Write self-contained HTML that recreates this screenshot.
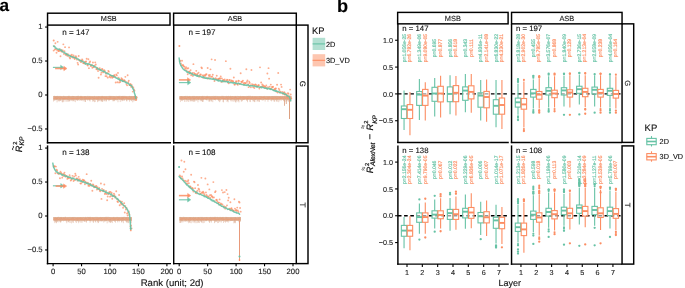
<!DOCTYPE html>
<html><head><meta charset="utf-8"><style>
html,body{margin:0;padding:0;background:#fff;}
body{width:685px;height:288px;overflow:hidden;}
svg{display:block;will-change:transform;}
text{font-family:"Liberation Sans",sans-serif;text-rendering:geometricPrecision;}
</style></head><body>
<svg width="685" height="288" viewBox="0 0 685 288" font-family="Liberation Sans, sans-serif">
<rect width="685" height="288" fill="#fff"/>
<text x="-0.5" y="10.8" font-size="17.2" text-anchor="start" fill="#000" stroke="#000" stroke-width="0.12" font-weight="bold">a</text>
<rect x="47.55" y="13.2" width="122.45" height="11.9" fill="none" stroke="#000" stroke-width="1.45" />
<text x="108.78" y="21.2" font-size="7.3" text-anchor="middle" fill="#1a1a1a" stroke="#1a1a1a" stroke-width="0.12" >MSB</text>
<rect x="173.6" y="13.2" width="122.7" height="11.9" fill="none" stroke="#000" stroke-width="1.45" />
<text x="234.95" y="21.2" font-size="7.3" text-anchor="middle" fill="#1a1a1a" stroke="#1a1a1a" stroke-width="0.12" >ASB</text>
<rect x="296.3" y="25.1" width="11.7" height="117.65" fill="none" stroke="#000" stroke-width="1.45" />
<text transform="translate(300.25,83.92) rotate(90)" font-size="7.9" text-anchor="middle" fill="#1a1a1a" stroke="#1a1a1a" stroke-width="0.12">G</text>
<rect x="296.3" y="146.1" width="11.7" height="117.5" fill="none" stroke="#000" stroke-width="1.45" />
<text transform="translate(300.25,204.85) rotate(90)" font-size="7.9" text-anchor="middle" fill="#1a1a1a" stroke="#1a1a1a" stroke-width="0.12">T</text>
<rect x="53.27" y="96" width="83.67" height="3.8" fill="#e9c0a5" stroke="none" stroke-width="1.3" />
<line x1="53.67" y1="96.06" x2="53.67" y2="101.6" stroke="#d49c7c" stroke-width="0.55" opacity="0.8"/>
<line x1="54.24" y1="95.86" x2="54.24" y2="100.94" stroke="#d49c7c" stroke-width="0.55" opacity="0.8"/>
<line x1="54.81" y1="95.85" x2="54.81" y2="100.19" stroke="#d49c7c" stroke-width="0.55" opacity="0.8"/>
<line x1="55.38" y1="96.15" x2="55.38" y2="100.31" stroke="#d49c7c" stroke-width="0.55" opacity="0.8"/>
<line x1="55.95" y1="96.14" x2="55.95" y2="99.14" stroke="#d49c7c" stroke-width="0.55" opacity="0.8"/>
<line x1="56.51" y1="95.98" x2="56.51" y2="100.04" stroke="#d49c7c" stroke-width="0.55" opacity="0.8"/>
<line x1="57.08" y1="96.26" x2="57.08" y2="102.35" stroke="#d49c7c" stroke-width="0.55" opacity="0.8"/>
<line x1="57.65" y1="95.84" x2="57.65" y2="99.32" stroke="#d49c7c" stroke-width="0.55" opacity="0.8"/>
<line x1="58.22" y1="95.92" x2="58.22" y2="100.81" stroke="#d49c7c" stroke-width="0.55" opacity="0.8"/>
<line x1="58.79" y1="96.45" x2="58.79" y2="101.44" stroke="#d49c7c" stroke-width="0.55" opacity="0.8"/>
<line x1="59.36" y1="96.31" x2="59.36" y2="101.36" stroke="#d49c7c" stroke-width="0.55" opacity="0.8"/>
<line x1="59.93" y1="95.85" x2="59.93" y2="100.57" stroke="#d49c7c" stroke-width="0.55" opacity="0.8"/>
<line x1="60.5" y1="96.34" x2="60.5" y2="100.82" stroke="#d49c7c" stroke-width="0.55" opacity="0.8"/>
<line x1="61.07" y1="96.27" x2="61.07" y2="100.79" stroke="#d49c7c" stroke-width="0.55" opacity="0.8"/>
<line x1="61.64" y1="96.44" x2="61.64" y2="99.27" stroke="#d49c7c" stroke-width="0.55" opacity="0.8"/>
<line x1="62.2" y1="96.26" x2="62.2" y2="102.11" stroke="#d49c7c" stroke-width="0.55" opacity="0.8"/>
<line x1="62.77" y1="96.38" x2="62.77" y2="102.35" stroke="#d49c7c" stroke-width="0.55" opacity="0.8"/>
<line x1="63.34" y1="95.89" x2="63.34" y2="101.84" stroke="#d49c7c" stroke-width="0.55" opacity="0.8"/>
<line x1="63.91" y1="95.92" x2="63.91" y2="100.19" stroke="#d49c7c" stroke-width="0.55" opacity="0.8"/>
<line x1="64.48" y1="96.33" x2="64.48" y2="99.63" stroke="#d49c7c" stroke-width="0.55" opacity="0.8"/>
<line x1="65.05" y1="96.5" x2="65.05" y2="101.7" stroke="#d49c7c" stroke-width="0.55" opacity="0.8"/>
<line x1="65.62" y1="96.28" x2="65.62" y2="99.5" stroke="#d49c7c" stroke-width="0.55" opacity="0.8"/>
<line x1="66.19" y1="96.47" x2="66.19" y2="99.52" stroke="#d49c7c" stroke-width="0.55" opacity="0.8"/>
<line x1="66.76" y1="96.33" x2="66.76" y2="101.71" stroke="#d49c7c" stroke-width="0.55" opacity="0.8"/>
<line x1="67.33" y1="96.32" x2="67.33" y2="99.9" stroke="#d49c7c" stroke-width="0.55" opacity="0.8"/>
<line x1="67.89" y1="96.03" x2="67.89" y2="101.64" stroke="#d49c7c" stroke-width="0.55" opacity="0.8"/>
<line x1="68.46" y1="95.82" x2="68.46" y2="100.49" stroke="#d49c7c" stroke-width="0.55" opacity="0.8"/>
<line x1="69.03" y1="95.89" x2="69.03" y2="101.87" stroke="#d49c7c" stroke-width="0.55" opacity="0.8"/>
<line x1="69.6" y1="95.9" x2="69.6" y2="101" stroke="#d49c7c" stroke-width="0.55" opacity="0.8"/>
<line x1="70.17" y1="96.5" x2="70.17" y2="101.13" stroke="#d49c7c" stroke-width="0.55" opacity="0.8"/>
<line x1="70.74" y1="96.24" x2="70.74" y2="99.9" stroke="#d49c7c" stroke-width="0.55" opacity="0.8"/>
<line x1="71.31" y1="96.49" x2="71.31" y2="101.06" stroke="#d49c7c" stroke-width="0.55" opacity="0.8"/>
<line x1="71.88" y1="96.09" x2="71.88" y2="100.05" stroke="#d49c7c" stroke-width="0.55" opacity="0.8"/>
<line x1="72.45" y1="95.92" x2="72.45" y2="100.63" stroke="#d49c7c" stroke-width="0.55" opacity="0.8"/>
<line x1="73.02" y1="95.99" x2="73.02" y2="101.45" stroke="#d49c7c" stroke-width="0.55" opacity="0.8"/>
<line x1="73.58" y1="96.01" x2="73.58" y2="101.06" stroke="#d49c7c" stroke-width="0.55" opacity="0.8"/>
<line x1="74.15" y1="96.1" x2="74.15" y2="100.05" stroke="#d49c7c" stroke-width="0.55" opacity="0.8"/>
<line x1="74.72" y1="96.35" x2="74.72" y2="101.52" stroke="#d49c7c" stroke-width="0.55" opacity="0.8"/>
<line x1="75.29" y1="96.34" x2="75.29" y2="102.17" stroke="#d49c7c" stroke-width="0.55" opacity="0.8"/>
<line x1="75.86" y1="96.42" x2="75.86" y2="99.88" stroke="#d49c7c" stroke-width="0.55" opacity="0.8"/>
<line x1="76.43" y1="96.11" x2="76.43" y2="100.34" stroke="#d49c7c" stroke-width="0.55" opacity="0.8"/>
<line x1="77" y1="96.31" x2="77" y2="100.25" stroke="#d49c7c" stroke-width="0.55" opacity="0.8"/>
<line x1="77.57" y1="95.97" x2="77.57" y2="100.88" stroke="#d49c7c" stroke-width="0.55" opacity="0.8"/>
<line x1="78.14" y1="95.84" x2="78.14" y2="100.45" stroke="#d49c7c" stroke-width="0.55" opacity="0.8"/>
<line x1="78.7" y1="95.88" x2="78.7" y2="100.16" stroke="#d49c7c" stroke-width="0.55" opacity="0.8"/>
<line x1="79.27" y1="96.5" x2="79.27" y2="99.16" stroke="#d49c7c" stroke-width="0.55" opacity="0.8"/>
<line x1="79.84" y1="96" x2="79.84" y2="100.94" stroke="#d49c7c" stroke-width="0.55" opacity="0.8"/>
<line x1="80.41" y1="95.9" x2="80.41" y2="100.09" stroke="#d49c7c" stroke-width="0.55" opacity="0.8"/>
<line x1="80.98" y1="96.17" x2="80.98" y2="100.3" stroke="#d49c7c" stroke-width="0.55" opacity="0.8"/>
<line x1="81.55" y1="95.88" x2="81.55" y2="100.71" stroke="#d49c7c" stroke-width="0.55" opacity="0.8"/>
<line x1="82.12" y1="96.46" x2="82.12" y2="100.15" stroke="#d49c7c" stroke-width="0.55" opacity="0.8"/>
<line x1="82.69" y1="96.56" x2="82.69" y2="100.44" stroke="#d49c7c" stroke-width="0.55" opacity="0.8"/>
<line x1="83.26" y1="96.23" x2="83.26" y2="101.31" stroke="#d49c7c" stroke-width="0.55" opacity="0.8"/>
<line x1="83.83" y1="96.58" x2="83.83" y2="99.77" stroke="#d49c7c" stroke-width="0.55" opacity="0.8"/>
<line x1="84.39" y1="96.01" x2="84.39" y2="100.48" stroke="#d49c7c" stroke-width="0.55" opacity="0.8"/>
<line x1="84.96" y1="96.42" x2="84.96" y2="101.89" stroke="#d49c7c" stroke-width="0.55" opacity="0.8"/>
<line x1="85.53" y1="96.06" x2="85.53" y2="101.97" stroke="#d49c7c" stroke-width="0.55" opacity="0.8"/>
<line x1="86.1" y1="96.59" x2="86.1" y2="99.89" stroke="#d49c7c" stroke-width="0.55" opacity="0.8"/>
<line x1="86.67" y1="96.45" x2="86.67" y2="99.25" stroke="#d49c7c" stroke-width="0.55" opacity="0.8"/>
<line x1="87.24" y1="96.21" x2="87.24" y2="100.17" stroke="#d49c7c" stroke-width="0.55" opacity="0.8"/>
<line x1="87.81" y1="95.82" x2="87.81" y2="100.7" stroke="#d49c7c" stroke-width="0.55" opacity="0.8"/>
<line x1="88.38" y1="96.35" x2="88.38" y2="99.49" stroke="#d49c7c" stroke-width="0.55" opacity="0.8"/>
<line x1="88.95" y1="96.55" x2="88.95" y2="100.05" stroke="#d49c7c" stroke-width="0.55" opacity="0.8"/>
<line x1="89.52" y1="96.09" x2="89.52" y2="100.62" stroke="#d49c7c" stroke-width="0.55" opacity="0.8"/>
<line x1="90.09" y1="95.96" x2="90.09" y2="101.54" stroke="#d49c7c" stroke-width="0.55" opacity="0.8"/>
<line x1="90.65" y1="96.52" x2="90.65" y2="99.53" stroke="#d49c7c" stroke-width="0.55" opacity="0.8"/>
<line x1="91.22" y1="96.32" x2="91.22" y2="99.09" stroke="#d49c7c" stroke-width="0.55" opacity="0.8"/>
<line x1="91.79" y1="96.33" x2="91.79" y2="99.86" stroke="#d49c7c" stroke-width="0.55" opacity="0.8"/>
<line x1="92.36" y1="96.4" x2="92.36" y2="100.51" stroke="#d49c7c" stroke-width="0.55" opacity="0.8"/>
<line x1="92.93" y1="96.43" x2="92.93" y2="101.94" stroke="#d49c7c" stroke-width="0.55" opacity="0.8"/>
<line x1="93.5" y1="96.58" x2="93.5" y2="101.02" stroke="#d49c7c" stroke-width="0.55" opacity="0.8"/>
<line x1="94.07" y1="96.56" x2="94.07" y2="99.19" stroke="#d49c7c" stroke-width="0.55" opacity="0.8"/>
<line x1="94.64" y1="95.9" x2="94.64" y2="102.18" stroke="#d49c7c" stroke-width="0.55" opacity="0.8"/>
<line x1="95.21" y1="96.45" x2="95.21" y2="102" stroke="#d49c7c" stroke-width="0.55" opacity="0.8"/>
<line x1="95.78" y1="96.58" x2="95.78" y2="99.39" stroke="#d49c7c" stroke-width="0.55" opacity="0.8"/>
<line x1="96.34" y1="96.24" x2="96.34" y2="100.13" stroke="#d49c7c" stroke-width="0.55" opacity="0.8"/>
<line x1="96.91" y1="96.58" x2="96.91" y2="99.58" stroke="#d49c7c" stroke-width="0.55" opacity="0.8"/>
<line x1="97.48" y1="96.55" x2="97.48" y2="102.11" stroke="#d49c7c" stroke-width="0.55" opacity="0.8"/>
<line x1="98.05" y1="96.46" x2="98.05" y2="100.68" stroke="#d49c7c" stroke-width="0.55" opacity="0.8"/>
<line x1="98.62" y1="96.03" x2="98.62" y2="101.45" stroke="#d49c7c" stroke-width="0.55" opacity="0.8"/>
<line x1="99.19" y1="96.01" x2="99.19" y2="100.4" stroke="#d49c7c" stroke-width="0.55" opacity="0.8"/>
<line x1="99.76" y1="96.53" x2="99.76" y2="101.15" stroke="#d49c7c" stroke-width="0.55" opacity="0.8"/>
<line x1="100.33" y1="96.27" x2="100.33" y2="99.46" stroke="#d49c7c" stroke-width="0.55" opacity="0.8"/>
<line x1="100.9" y1="96.53" x2="100.9" y2="101.32" stroke="#d49c7c" stroke-width="0.55" opacity="0.8"/>
<line x1="101.47" y1="96.22" x2="101.47" y2="101.11" stroke="#d49c7c" stroke-width="0.55" opacity="0.8"/>
<line x1="102.03" y1="95.95" x2="102.03" y2="101.94" stroke="#d49c7c" stroke-width="0.55" opacity="0.8"/>
<line x1="102.6" y1="95.94" x2="102.6" y2="101.77" stroke="#d49c7c" stroke-width="0.55" opacity="0.8"/>
<line x1="103.17" y1="96.25" x2="103.17" y2="101.29" stroke="#d49c7c" stroke-width="0.55" opacity="0.8"/>
<line x1="103.74" y1="96.24" x2="103.74" y2="99.12" stroke="#d49c7c" stroke-width="0.55" opacity="0.8"/>
<line x1="104.31" y1="96.25" x2="104.31" y2="100.74" stroke="#d49c7c" stroke-width="0.55" opacity="0.8"/>
<line x1="104.88" y1="96.42" x2="104.88" y2="101.39" stroke="#d49c7c" stroke-width="0.55" opacity="0.8"/>
<line x1="105.45" y1="96.41" x2="105.45" y2="99.49" stroke="#d49c7c" stroke-width="0.55" opacity="0.8"/>
<line x1="106.02" y1="96.29" x2="106.02" y2="101.28" stroke="#d49c7c" stroke-width="0.55" opacity="0.8"/>
<line x1="106.59" y1="96.35" x2="106.59" y2="101.33" stroke="#d49c7c" stroke-width="0.55" opacity="0.8"/>
<line x1="107.16" y1="96.18" x2="107.16" y2="99.77" stroke="#d49c7c" stroke-width="0.55" opacity="0.8"/>
<line x1="107.72" y1="96.5" x2="107.72" y2="99.29" stroke="#d49c7c" stroke-width="0.55" opacity="0.8"/>
<line x1="108.29" y1="96.25" x2="108.29" y2="99.92" stroke="#d49c7c" stroke-width="0.55" opacity="0.8"/>
<line x1="108.86" y1="95.91" x2="108.86" y2="101.12" stroke="#d49c7c" stroke-width="0.55" opacity="0.8"/>
<line x1="109.43" y1="95.86" x2="109.43" y2="100.27" stroke="#d49c7c" stroke-width="0.55" opacity="0.8"/>
<line x1="110" y1="96.34" x2="110" y2="99.99" stroke="#d49c7c" stroke-width="0.55" opacity="0.8"/>
<line x1="110.57" y1="95.92" x2="110.57" y2="99.73" stroke="#d49c7c" stroke-width="0.55" opacity="0.8"/>
<line x1="111.14" y1="95.91" x2="111.14" y2="100.06" stroke="#d49c7c" stroke-width="0.55" opacity="0.8"/>
<line x1="111.71" y1="95.98" x2="111.71" y2="99.44" stroke="#d49c7c" stroke-width="0.55" opacity="0.8"/>
<line x1="112.28" y1="96.19" x2="112.28" y2="99.92" stroke="#d49c7c" stroke-width="0.55" opacity="0.8"/>
<line x1="112.84" y1="95.93" x2="112.84" y2="101.29" stroke="#d49c7c" stroke-width="0.55" opacity="0.8"/>
<line x1="113.41" y1="96.07" x2="113.41" y2="100.83" stroke="#d49c7c" stroke-width="0.55" opacity="0.8"/>
<line x1="113.98" y1="96.38" x2="113.98" y2="101.37" stroke="#d49c7c" stroke-width="0.55" opacity="0.8"/>
<line x1="114.55" y1="96.15" x2="114.55" y2="100.86" stroke="#d49c7c" stroke-width="0.55" opacity="0.8"/>
<line x1="115.12" y1="96.3" x2="115.12" y2="100.25" stroke="#d49c7c" stroke-width="0.55" opacity="0.8"/>
<line x1="115.69" y1="96.59" x2="115.69" y2="100.07" stroke="#d49c7c" stroke-width="0.55" opacity="0.8"/>
<line x1="116.26" y1="95.88" x2="116.26" y2="100.19" stroke="#d49c7c" stroke-width="0.55" opacity="0.8"/>
<line x1="116.83" y1="96.42" x2="116.83" y2="100.4" stroke="#d49c7c" stroke-width="0.55" opacity="0.8"/>
<line x1="117.4" y1="96.14" x2="117.4" y2="99.9" stroke="#d49c7c" stroke-width="0.55" opacity="0.8"/>
<line x1="117.97" y1="96.01" x2="117.97" y2="102.21" stroke="#d49c7c" stroke-width="0.55" opacity="0.8"/>
<line x1="118.53" y1="96.26" x2="118.53" y2="99.1" stroke="#d49c7c" stroke-width="0.55" opacity="0.8"/>
<line x1="119.1" y1="95.85" x2="119.1" y2="99.47" stroke="#d49c7c" stroke-width="0.55" opacity="0.8"/>
<line x1="119.67" y1="95.86" x2="119.67" y2="99.7" stroke="#d49c7c" stroke-width="0.55" opacity="0.8"/>
<line x1="120.24" y1="96.44" x2="120.24" y2="102.07" stroke="#d49c7c" stroke-width="0.55" opacity="0.8"/>
<line x1="120.81" y1="95.85" x2="120.81" y2="99.5" stroke="#d49c7c" stroke-width="0.55" opacity="0.8"/>
<line x1="121.38" y1="96.07" x2="121.38" y2="100.02" stroke="#d49c7c" stroke-width="0.55" opacity="0.8"/>
<line x1="121.95" y1="96.01" x2="121.95" y2="101.31" stroke="#d49c7c" stroke-width="0.55" opacity="0.8"/>
<line x1="122.52" y1="95.99" x2="122.52" y2="100.47" stroke="#d49c7c" stroke-width="0.55" opacity="0.8"/>
<line x1="123.09" y1="95.84" x2="123.09" y2="100.82" stroke="#d49c7c" stroke-width="0.55" opacity="0.8"/>
<line x1="123.66" y1="96.04" x2="123.66" y2="99.32" stroke="#d49c7c" stroke-width="0.55" opacity="0.8"/>
<line x1="124.22" y1="96.2" x2="124.22" y2="100.9" stroke="#d49c7c" stroke-width="0.55" opacity="0.8"/>
<line x1="124.79" y1="95.81" x2="124.79" y2="100.14" stroke="#d49c7c" stroke-width="0.55" opacity="0.8"/>
<line x1="125.36" y1="96.39" x2="125.36" y2="99.21" stroke="#d49c7c" stroke-width="0.55" opacity="0.8"/>
<line x1="125.93" y1="96.18" x2="125.93" y2="99.12" stroke="#d49c7c" stroke-width="0.55" opacity="0.8"/>
<line x1="126.5" y1="96.46" x2="126.5" y2="101.24" stroke="#d49c7c" stroke-width="0.55" opacity="0.8"/>
<line x1="127.07" y1="96.47" x2="127.07" y2="101.27" stroke="#d49c7c" stroke-width="0.55" opacity="0.8"/>
<line x1="127.64" y1="96.35" x2="127.64" y2="99.38" stroke="#d49c7c" stroke-width="0.55" opacity="0.8"/>
<line x1="128.21" y1="96.47" x2="128.21" y2="99.7" stroke="#d49c7c" stroke-width="0.55" opacity="0.8"/>
<line x1="128.78" y1="96.12" x2="128.78" y2="100.23" stroke="#d49c7c" stroke-width="0.55" opacity="0.8"/>
<line x1="129.35" y1="95.9" x2="129.35" y2="101.8" stroke="#d49c7c" stroke-width="0.55" opacity="0.8"/>
<line x1="129.91" y1="96" x2="129.91" y2="100.29" stroke="#d49c7c" stroke-width="0.55" opacity="0.8"/>
<line x1="130.48" y1="96.47" x2="130.48" y2="99.74" stroke="#d49c7c" stroke-width="0.55" opacity="0.8"/>
<line x1="131.05" y1="96.03" x2="131.05" y2="100.77" stroke="#d49c7c" stroke-width="0.55" opacity="0.8"/>
<line x1="131.62" y1="96.17" x2="131.62" y2="101.13" stroke="#d49c7c" stroke-width="0.55" opacity="0.8"/>
<line x1="132.19" y1="96.01" x2="132.19" y2="100.07" stroke="#d49c7c" stroke-width="0.55" opacity="0.8"/>
<line x1="132.76" y1="96.24" x2="132.76" y2="102.32" stroke="#d49c7c" stroke-width="0.55" opacity="0.8"/>
<line x1="133.33" y1="96.05" x2="133.33" y2="100.1" stroke="#d49c7c" stroke-width="0.55" opacity="0.8"/>
<line x1="133.9" y1="96.11" x2="133.9" y2="101.26" stroke="#d49c7c" stroke-width="0.55" opacity="0.8"/>
<line x1="134.47" y1="95.96" x2="134.47" y2="100.11" stroke="#d49c7c" stroke-width="0.55" opacity="0.8"/>
<line x1="135.04" y1="96.01" x2="135.04" y2="101.02" stroke="#d49c7c" stroke-width="0.55" opacity="0.8"/>
<line x1="135.6" y1="95.83" x2="135.6" y2="100.8" stroke="#d49c7c" stroke-width="0.55" opacity="0.8"/>
<line x1="136.17" y1="95.99" x2="136.17" y2="99.58" stroke="#d49c7c" stroke-width="0.55" opacity="0.8"/>
<line x1="136.74" y1="96.4" x2="136.74" y2="99.79" stroke="#d49c7c" stroke-width="0.55" opacity="0.8"/>
<polyline points="53.67,98.44 54.81,98 55.95,97.94 57.08,98.54 58.22,97.78 59.36,98.3 60.5,98.23 61.64,97.69 62.77,98.4 63.91,98.45 65.05,98.21 66.19,98.31 67.33,98.38 68.46,97.78 69.6,98.12 70.74,98.1 71.88,98.4 73.02,98.37 74.15,98.39 75.29,98.18 76.43,98.45 77.57,98.26 78.7,98.27 79.84,97.86 80.98,97.68 82.12,97.77 83.26,97.97 84.39,97.74 85.53,98.4 86.67,98.15 87.81,98.21 88.95,98.21 90.09,98.26 91.22,98.09 92.36,97.65 93.5,98.37 94.64,98.32 95.78,98.1 96.91,98.13 98.05,98.24 99.19,97.71 100.33,98.31 101.47,97.88 102.6,97.72 103.74,97.89 104.88,98.31 106.02,97.83 107.16,98.32 108.29,98.53 109.43,98.09 110.57,97.99 111.71,98.08 112.84,98.27 113.98,98.34 115.12,98.21 116.26,98.23 117.4,97.72 118.53,97.78 119.67,97.88 120.81,98.32 121.95,97.92 123.09,98.16 124.22,97.66 125.36,97.7 126.5,97.89 127.64,98.25 128.78,98.27 129.91,98.26 131.05,97.91 132.19,98.11 133.33,98.07 134.47,98.07 135.6,97.76 136.74,98.45" fill="none" stroke="#f2956a" stroke-width="0.9" opacity="0.8"/>
<circle cx="53.67" cy="50.59" r="0.95" fill="#fc8d62" opacity="0.72"/>
<circle cx="54.24" cy="46.13" r="0.95" fill="#fc8d62" opacity="0.72"/>
<circle cx="54.81" cy="49.43" r="0.95" fill="#fc8d62" opacity="0.72"/>
<circle cx="55.38" cy="43.18" r="0.95" fill="#fc8d62" opacity="0.72"/>
<circle cx="55.95" cy="49.12" r="0.95" fill="#fc8d62" opacity="0.72"/>
<circle cx="56.51" cy="52.71" r="0.95" fill="#fc8d62" opacity="0.72"/>
<circle cx="57.08" cy="50.01" r="0.95" fill="#fc8d62" opacity="0.72"/>
<circle cx="57.65" cy="41.83" r="0.95" fill="#fc8d62" opacity="0.72"/>
<circle cx="58.22" cy="50.93" r="0.95" fill="#fc8d62" opacity="0.72"/>
<circle cx="58.79" cy="50.8" r="0.95" fill="#fc8d62" opacity="0.72"/>
<circle cx="59.36" cy="50.89" r="0.95" fill="#fc8d62" opacity="0.72"/>
<circle cx="59.93" cy="49.12" r="0.95" fill="#fc8d62" opacity="0.72"/>
<circle cx="60.5" cy="56.32" r="0.95" fill="#fc8d62" opacity="0.72"/>
<circle cx="61.07" cy="51.27" r="0.95" fill="#fc8d62" opacity="0.72"/>
<circle cx="61.64" cy="50.18" r="0.95" fill="#fc8d62" opacity="0.72"/>
<circle cx="62.2" cy="51.87" r="0.95" fill="#fc8d62" opacity="0.72"/>
<circle cx="62.77" cy="50.54" r="0.95" fill="#fc8d62" opacity="0.72"/>
<circle cx="63.34" cy="44.34" r="0.95" fill="#fc8d62" opacity="0.72"/>
<circle cx="63.91" cy="53.89" r="0.95" fill="#fc8d62" opacity="0.72"/>
<circle cx="64.48" cy="51.3" r="0.95" fill="#fc8d62" opacity="0.72"/>
<circle cx="65.05" cy="47.17" r="0.95" fill="#fc8d62" opacity="0.72"/>
<circle cx="65.62" cy="54.69" r="0.95" fill="#fc8d62" opacity="0.72"/>
<circle cx="66.19" cy="54.53" r="0.95" fill="#fc8d62" opacity="0.72"/>
<circle cx="66.76" cy="54.31" r="0.95" fill="#fc8d62" opacity="0.72"/>
<circle cx="67.33" cy="55.72" r="0.95" fill="#fc8d62" opacity="0.72"/>
<circle cx="67.89" cy="54.19" r="0.95" fill="#fc8d62" opacity="0.72"/>
<circle cx="68.46" cy="55.79" r="0.95" fill="#fc8d62" opacity="0.72"/>
<circle cx="69.03" cy="47.41" r="0.95" fill="#fc8d62" opacity="0.72"/>
<circle cx="69.6" cy="57.53" r="0.95" fill="#fc8d62" opacity="0.72"/>
<circle cx="70.17" cy="58.42" r="0.95" fill="#fc8d62" opacity="0.72"/>
<circle cx="70.74" cy="55.49" r="0.95" fill="#fc8d62" opacity="0.72"/>
<circle cx="71.31" cy="56.31" r="0.95" fill="#fc8d62" opacity="0.72"/>
<circle cx="71.88" cy="54.64" r="0.95" fill="#fc8d62" opacity="0.72"/>
<circle cx="72.45" cy="56.75" r="0.95" fill="#fc8d62" opacity="0.72"/>
<circle cx="73.02" cy="57.64" r="0.95" fill="#fc8d62" opacity="0.72"/>
<circle cx="73.58" cy="55.51" r="0.95" fill="#fc8d62" opacity="0.72"/>
<circle cx="74.15" cy="57.7" r="0.95" fill="#fc8d62" opacity="0.72"/>
<circle cx="74.72" cy="59.03" r="0.95" fill="#fc8d62" opacity="0.72"/>
<circle cx="75.29" cy="57.53" r="0.95" fill="#fc8d62" opacity="0.72"/>
<circle cx="75.86" cy="56.15" r="0.95" fill="#fc8d62" opacity="0.72"/>
<circle cx="76.43" cy="57.57" r="0.95" fill="#fc8d62" opacity="0.72"/>
<circle cx="77" cy="59.63" r="0.95" fill="#fc8d62" opacity="0.72"/>
<circle cx="77.57" cy="62.85" r="0.95" fill="#fc8d62" opacity="0.72"/>
<circle cx="78.14" cy="64.48" r="0.95" fill="#fc8d62" opacity="0.72"/>
<circle cx="78.7" cy="55.93" r="0.95" fill="#fc8d62" opacity="0.72"/>
<circle cx="79.27" cy="60.08" r="0.95" fill="#fc8d62" opacity="0.72"/>
<circle cx="79.84" cy="60.87" r="0.95" fill="#fc8d62" opacity="0.72"/>
<circle cx="80.41" cy="60.5" r="0.95" fill="#fc8d62" opacity="0.72"/>
<circle cx="80.98" cy="62.17" r="0.95" fill="#fc8d62" opacity="0.72"/>
<circle cx="81.55" cy="61.01" r="0.95" fill="#fc8d62" opacity="0.72"/>
<circle cx="82.12" cy="59.37" r="0.95" fill="#fc8d62" opacity="0.72"/>
<circle cx="82.69" cy="60.4" r="0.95" fill="#fc8d62" opacity="0.72"/>
<circle cx="83.26" cy="63.15" r="0.95" fill="#fc8d62" opacity="0.72"/>
<circle cx="83.83" cy="63.22" r="0.95" fill="#fc8d62" opacity="0.72"/>
<circle cx="84.39" cy="62.31" r="0.95" fill="#fc8d62" opacity="0.72"/>
<circle cx="84.96" cy="63.58" r="0.95" fill="#fc8d62" opacity="0.72"/>
<circle cx="85.53" cy="61.92" r="0.95" fill="#fc8d62" opacity="0.72"/>
<circle cx="86.1" cy="61.47" r="0.95" fill="#fc8d62" opacity="0.72"/>
<circle cx="86.67" cy="58.71" r="0.95" fill="#fc8d62" opacity="0.72"/>
<circle cx="87.24" cy="64.77" r="0.95" fill="#fc8d62" opacity="0.72"/>
<circle cx="87.81" cy="65.43" r="0.95" fill="#fc8d62" opacity="0.72"/>
<circle cx="88.38" cy="59.27" r="0.95" fill="#fc8d62" opacity="0.72"/>
<circle cx="88.95" cy="68.13" r="0.95" fill="#fc8d62" opacity="0.72"/>
<circle cx="89.52" cy="62.54" r="0.95" fill="#fc8d62" opacity="0.72"/>
<circle cx="90.09" cy="61.44" r="0.95" fill="#fc8d62" opacity="0.72"/>
<circle cx="90.65" cy="65.85" r="0.95" fill="#fc8d62" opacity="0.72"/>
<circle cx="91.22" cy="65.91" r="0.95" fill="#fc8d62" opacity="0.72"/>
<circle cx="91.79" cy="65.06" r="0.95" fill="#fc8d62" opacity="0.72"/>
<circle cx="92.36" cy="67.8" r="0.95" fill="#fc8d62" opacity="0.72"/>
<circle cx="92.93" cy="62.51" r="0.95" fill="#fc8d62" opacity="0.72"/>
<circle cx="93.5" cy="67.13" r="0.95" fill="#fc8d62" opacity="0.72"/>
<circle cx="94.07" cy="66.47" r="0.95" fill="#fc8d62" opacity="0.72"/>
<circle cx="94.64" cy="65.72" r="0.95" fill="#fc8d62" opacity="0.72"/>
<circle cx="95.21" cy="62.36" r="0.95" fill="#fc8d62" opacity="0.72"/>
<circle cx="95.78" cy="64.44" r="0.95" fill="#fc8d62" opacity="0.72"/>
<circle cx="96.34" cy="68.98" r="0.95" fill="#fc8d62" opacity="0.72"/>
<circle cx="96.91" cy="69.23" r="0.95" fill="#fc8d62" opacity="0.72"/>
<circle cx="97.48" cy="67.96" r="0.95" fill="#fc8d62" opacity="0.72"/>
<circle cx="98.05" cy="71.07" r="0.95" fill="#fc8d62" opacity="0.72"/>
<circle cx="98.62" cy="77.82" r="0.95" fill="#fc8d62" opacity="0.72"/>
<circle cx="99.19" cy="69.37" r="0.95" fill="#fc8d62" opacity="0.72"/>
<circle cx="99.76" cy="68.3" r="0.95" fill="#fc8d62" opacity="0.72"/>
<circle cx="100.33" cy="70.2" r="0.95" fill="#fc8d62" opacity="0.72"/>
<circle cx="100.9" cy="74.57" r="0.95" fill="#fc8d62" opacity="0.72"/>
<circle cx="101.47" cy="72.63" r="0.95" fill="#fc8d62" opacity="0.72"/>
<circle cx="102.03" cy="69.04" r="0.95" fill="#fc8d62" opacity="0.72"/>
<circle cx="102.6" cy="69.52" r="0.95" fill="#fc8d62" opacity="0.72"/>
<circle cx="103.17" cy="72.26" r="0.95" fill="#fc8d62" opacity="0.72"/>
<circle cx="103.74" cy="71.35" r="0.95" fill="#fc8d62" opacity="0.72"/>
<circle cx="104.31" cy="70.22" r="0.95" fill="#fc8d62" opacity="0.72"/>
<circle cx="104.88" cy="71.31" r="0.95" fill="#fc8d62" opacity="0.72"/>
<circle cx="105.45" cy="76.09" r="0.95" fill="#fc8d62" opacity="0.72"/>
<circle cx="106.02" cy="73.82" r="0.95" fill="#fc8d62" opacity="0.72"/>
<circle cx="106.59" cy="76.19" r="0.95" fill="#fc8d62" opacity="0.72"/>
<circle cx="107.16" cy="73.01" r="0.95" fill="#fc8d62" opacity="0.72"/>
<circle cx="107.72" cy="77.64" r="0.95" fill="#fc8d62" opacity="0.72"/>
<circle cx="108.29" cy="70.84" r="0.95" fill="#fc8d62" opacity="0.72"/>
<circle cx="108.86" cy="71.65" r="0.95" fill="#fc8d62" opacity="0.72"/>
<circle cx="109.43" cy="76.91" r="0.95" fill="#fc8d62" opacity="0.72"/>
<circle cx="110" cy="75.69" r="0.95" fill="#fc8d62" opacity="0.72"/>
<circle cx="110.57" cy="77.61" r="0.95" fill="#fc8d62" opacity="0.72"/>
<circle cx="111.14" cy="75.75" r="0.95" fill="#fc8d62" opacity="0.72"/>
<circle cx="111.71" cy="76.49" r="0.95" fill="#fc8d62" opacity="0.72"/>
<circle cx="112.28" cy="77.84" r="0.95" fill="#fc8d62" opacity="0.72"/>
<circle cx="112.84" cy="76.81" r="0.95" fill="#fc8d62" opacity="0.72"/>
<circle cx="113.41" cy="77.01" r="0.95" fill="#fc8d62" opacity="0.72"/>
<circle cx="113.98" cy="75.46" r="0.95" fill="#fc8d62" opacity="0.72"/>
<circle cx="114.55" cy="75.18" r="0.95" fill="#fc8d62" opacity="0.72"/>
<circle cx="115.12" cy="76.8" r="0.95" fill="#fc8d62" opacity="0.72"/>
<circle cx="115.69" cy="82.49" r="0.95" fill="#fc8d62" opacity="0.72"/>
<circle cx="116.26" cy="74.34" r="0.95" fill="#fc8d62" opacity="0.72"/>
<circle cx="116.83" cy="75.39" r="0.95" fill="#fc8d62" opacity="0.72"/>
<circle cx="117.4" cy="82.31" r="0.95" fill="#fc8d62" opacity="0.72"/>
<circle cx="117.97" cy="72.88" r="0.95" fill="#fc8d62" opacity="0.72"/>
<circle cx="118.53" cy="77.81" r="0.95" fill="#fc8d62" opacity="0.72"/>
<circle cx="119.1" cy="82.51" r="0.95" fill="#fc8d62" opacity="0.72"/>
<circle cx="119.67" cy="80.36" r="0.95" fill="#fc8d62" opacity="0.72"/>
<circle cx="120.24" cy="82.07" r="0.95" fill="#fc8d62" opacity="0.72"/>
<circle cx="120.81" cy="79.92" r="0.95" fill="#fc8d62" opacity="0.72"/>
<circle cx="121.38" cy="78.21" r="0.95" fill="#fc8d62" opacity="0.72"/>
<circle cx="121.95" cy="79.25" r="0.95" fill="#fc8d62" opacity="0.72"/>
<circle cx="122.52" cy="79.51" r="0.95" fill="#fc8d62" opacity="0.72"/>
<circle cx="123.09" cy="81.36" r="0.95" fill="#fc8d62" opacity="0.72"/>
<circle cx="123.66" cy="80.76" r="0.95" fill="#fc8d62" opacity="0.72"/>
<circle cx="124.22" cy="80.24" r="0.95" fill="#fc8d62" opacity="0.72"/>
<circle cx="124.79" cy="80.81" r="0.95" fill="#fc8d62" opacity="0.72"/>
<circle cx="125.36" cy="76.87" r="0.95" fill="#fc8d62" opacity="0.72"/>
<circle cx="125.93" cy="81.83" r="0.95" fill="#fc8d62" opacity="0.72"/>
<circle cx="126.5" cy="84.1" r="0.95" fill="#fc8d62" opacity="0.72"/>
<circle cx="127.07" cy="85.34" r="0.95" fill="#fc8d62" opacity="0.72"/>
<circle cx="127.64" cy="75.21" r="0.95" fill="#fc8d62" opacity="0.72"/>
<circle cx="128.21" cy="82.32" r="0.95" fill="#fc8d62" opacity="0.72"/>
<circle cx="128.78" cy="80.79" r="0.95" fill="#fc8d62" opacity="0.72"/>
<circle cx="129.35" cy="85.03" r="0.95" fill="#fc8d62" opacity="0.72"/>
<circle cx="129.91" cy="85.06" r="0.95" fill="#fc8d62" opacity="0.72"/>
<circle cx="130.48" cy="84.05" r="0.95" fill="#fc8d62" opacity="0.72"/>
<circle cx="131.05" cy="86.78" r="0.95" fill="#fc8d62" opacity="0.72"/>
<circle cx="131.62" cy="84.96" r="0.95" fill="#fc8d62" opacity="0.72"/>
<circle cx="132.19" cy="86.82" r="0.95" fill="#fc8d62" opacity="0.72"/>
<circle cx="132.76" cy="91.62" r="0.95" fill="#fc8d62" opacity="0.72"/>
<circle cx="133.33" cy="87.34" r="0.95" fill="#fc8d62" opacity="0.72"/>
<circle cx="133.9" cy="89.55" r="0.95" fill="#fc8d62" opacity="0.72"/>
<circle cx="134.47" cy="90.65" r="0.95" fill="#fc8d62" opacity="0.72"/>
<circle cx="135.04" cy="96.57" r="0.95" fill="#fc8d62" opacity="0.72"/>
<circle cx="135.6" cy="98.26" r="0.95" fill="#fc8d62" opacity="0.72"/>
<circle cx="136.17" cy="100" r="0.95" fill="#fc8d62" opacity="0.72"/>
<circle cx="136.74" cy="97.38" r="0.95" fill="#fc8d62" opacity="0.72"/>
<polyline points="53.5,46 54.24,46.59 54.81,46.52 55.38,48.12 55.95,48.16 56.51,48.24 57.08,48.78 57.65,49.09 58.22,49.3 58.79,49.28 59.36,49.21 59.93,49.88 60.5,50.32 61.07,50.06 61.64,50.8 62.2,51.42 62.77,51.52 63.34,52.13 63.91,52.24 64.48,52.94 65.05,53.06 65.62,53.53 66.19,53.56 66.76,54.68 67.33,54.44 67.89,54.86 68.46,55.11 69.03,55.69 69.6,55.4 70.17,56.11 70.74,56.63 71.31,56.73 71.88,56.74 72.45,56.89 73.02,57.22 73.58,57.08 74.15,57.12 74.72,57.67 75.29,57.9 75.86,57.78 76.43,58.63 77,58.68 77.57,58.95 78.14,58.99 78.7,59.8 79.27,59.95 79.84,60.27 80.41,60.77 80.98,60.78 81.55,60.58 82.12,61.75 82.69,61.65 83.26,61.87 83.83,61.98 84.39,62.77 84.96,62.78 85.53,64.15 86.1,63.48 86.67,63.82 87.24,63.67 87.81,64.23 88.38,63.69 88.95,64.31 89.52,64.11 90.09,64.31 90.65,65.11 91.22,65.08 91.79,65.26 92.36,65.16 92.93,65.83 93.5,65.7 94.07,66.76 94.64,66.7 95.21,66.96 95.78,67 96.34,67.65 96.91,67.88 97.48,68.53 98.05,69.15 98.62,69 99.19,69.26 99.76,69.72 100.33,69.97 100.9,69.67 101.47,70.53 102.03,70.89 102.6,71.2 103.17,70.88 103.74,71.52 104.31,71.75 104.88,71.67 105.45,72.95 106.02,72.67 106.59,73.18 107.16,73.49 107.72,73.76 108.29,73.7 108.86,74.1 109.43,74.54 110,74.64 110.57,75.24 111.14,75.42 111.71,75.76 112.28,75.66 112.84,75.61 113.41,76.2 113.98,76.78 114.55,76.89 115.12,77.26 115.69,77.79 116.26,77.98 116.83,78.31 117.4,78.12 117.97,79.12 118.53,79.19 119.1,78.78 119.67,79.39 120.24,80.37 120.81,80.73 121.38,80.53 121.95,80.45 122.52,81.25 123.09,81.06 123.66,81.3 124.22,81.55 124.79,81.48 125.36,82.52 125.93,82.18 126.5,82.97 127.07,82.69 127.64,83.19 128.21,83.54 128.78,83.62 129.35,84.39 129.91,85.34 130.48,85.17 131.05,85.47 131.62,85.88 132.19,86.97 132.76,88.5 133.33,89.29 133.9,90.66 134.47,93.38 135.04,94.68 135.9,98.3" fill="none" stroke="#66c2a5" stroke-width="1.45" stroke-linejoin="round" stroke-linecap="round" opacity="0.9"/>
<circle cx="53.7" cy="40.4" r="1.0" fill="#fc8d62" opacity="0.8"/>
<line x1="52.9" y1="67.4" x2="62.3" y2="67.4" stroke="#66c2a5" stroke-width="1.2" opacity="0.85"/>
<path d="M60.6,65.2 L63.8,67.4 L60.6,69.6 Z" fill="#66c2a5" stroke="#66c2a5" stroke-width="0.5" opacity="0.9"/>
<line x1="55.1" y1="68.5" x2="65.5" y2="68.5" stroke="#fc8d62" stroke-width="1.6" opacity="0.85"/>
<path d="M63.8,66.3 L67,68.5 L63.8,70.7 Z" fill="#fc8d62" stroke="#fc8d62" stroke-width="0.5" opacity="0.9"/>
<text x="62.25" y="34.9" font-size="8.1" text-anchor="start" fill="#111" stroke="#111" stroke-width="0.12" >n = 147</text>
<rect x="179.37" y="96" width="112.12" height="3.8" fill="#e9c0a5" stroke="none" stroke-width="1.3" />
<line x1="179.77" y1="96.34" x2="179.77" y2="99.36" stroke="#d49c7c" stroke-width="0.55" opacity="0.8"/>
<line x1="180.34" y1="96.11" x2="180.34" y2="102.05" stroke="#d49c7c" stroke-width="0.55" opacity="0.8"/>
<line x1="180.91" y1="96.42" x2="180.91" y2="99.34" stroke="#d49c7c" stroke-width="0.55" opacity="0.8"/>
<line x1="181.48" y1="96" x2="181.48" y2="100.95" stroke="#d49c7c" stroke-width="0.55" opacity="0.8"/>
<line x1="182.04" y1="96.2" x2="182.04" y2="100.11" stroke="#d49c7c" stroke-width="0.55" opacity="0.8"/>
<line x1="182.61" y1="96.59" x2="182.61" y2="101.13" stroke="#d49c7c" stroke-width="0.55" opacity="0.8"/>
<line x1="183.18" y1="96.29" x2="183.18" y2="99.92" stroke="#d49c7c" stroke-width="0.55" opacity="0.8"/>
<line x1="183.75" y1="96.45" x2="183.75" y2="100.25" stroke="#d49c7c" stroke-width="0.55" opacity="0.8"/>
<line x1="184.32" y1="96.09" x2="184.32" y2="101.95" stroke="#d49c7c" stroke-width="0.55" opacity="0.8"/>
<line x1="184.89" y1="96.2" x2="184.89" y2="99.04" stroke="#d49c7c" stroke-width="0.55" opacity="0.8"/>
<line x1="185.46" y1="95.9" x2="185.46" y2="99.35" stroke="#d49c7c" stroke-width="0.55" opacity="0.8"/>
<line x1="186.03" y1="96.38" x2="186.03" y2="101.83" stroke="#d49c7c" stroke-width="0.55" opacity="0.8"/>
<line x1="186.6" y1="96.52" x2="186.6" y2="99.86" stroke="#d49c7c" stroke-width="0.55" opacity="0.8"/>
<line x1="187.17" y1="95.82" x2="187.17" y2="101.51" stroke="#d49c7c" stroke-width="0.55" opacity="0.8"/>
<line x1="187.73" y1="96.35" x2="187.73" y2="100.4" stroke="#d49c7c" stroke-width="0.55" opacity="0.8"/>
<line x1="188.3" y1="96.51" x2="188.3" y2="101.97" stroke="#d49c7c" stroke-width="0.55" opacity="0.8"/>
<line x1="188.87" y1="96.44" x2="188.87" y2="99.79" stroke="#d49c7c" stroke-width="0.55" opacity="0.8"/>
<line x1="189.44" y1="95.98" x2="189.44" y2="99.67" stroke="#d49c7c" stroke-width="0.55" opacity="0.8"/>
<line x1="190.01" y1="96" x2="190.01" y2="101.51" stroke="#d49c7c" stroke-width="0.55" opacity="0.8"/>
<line x1="190.58" y1="96.52" x2="190.58" y2="100.68" stroke="#d49c7c" stroke-width="0.55" opacity="0.8"/>
<line x1="191.15" y1="96.57" x2="191.15" y2="101.46" stroke="#d49c7c" stroke-width="0.55" opacity="0.8"/>
<line x1="191.72" y1="96.29" x2="191.72" y2="100.96" stroke="#d49c7c" stroke-width="0.55" opacity="0.8"/>
<line x1="192.29" y1="95.96" x2="192.29" y2="101.56" stroke="#d49c7c" stroke-width="0.55" opacity="0.8"/>
<line x1="192.86" y1="96.02" x2="192.86" y2="100.97" stroke="#d49c7c" stroke-width="0.55" opacity="0.8"/>
<line x1="193.42" y1="96.43" x2="193.42" y2="101.87" stroke="#d49c7c" stroke-width="0.55" opacity="0.8"/>
<line x1="193.99" y1="95.84" x2="193.99" y2="100.06" stroke="#d49c7c" stroke-width="0.55" opacity="0.8"/>
<line x1="194.56" y1="96.16" x2="194.56" y2="101.68" stroke="#d49c7c" stroke-width="0.55" opacity="0.8"/>
<line x1="195.13" y1="96.52" x2="195.13" y2="101.33" stroke="#d49c7c" stroke-width="0.55" opacity="0.8"/>
<line x1="195.7" y1="96.49" x2="195.7" y2="99.41" stroke="#d49c7c" stroke-width="0.55" opacity="0.8"/>
<line x1="196.27" y1="96.1" x2="196.27" y2="100.44" stroke="#d49c7c" stroke-width="0.55" opacity="0.8"/>
<line x1="196.84" y1="96.06" x2="196.84" y2="100.63" stroke="#d49c7c" stroke-width="0.55" opacity="0.8"/>
<line x1="197.41" y1="96.29" x2="197.41" y2="99.33" stroke="#d49c7c" stroke-width="0.55" opacity="0.8"/>
<line x1="197.98" y1="96.21" x2="197.98" y2="102.32" stroke="#d49c7c" stroke-width="0.55" opacity="0.8"/>
<line x1="198.55" y1="96.5" x2="198.55" y2="99.99" stroke="#d49c7c" stroke-width="0.55" opacity="0.8"/>
<line x1="199.11" y1="96.39" x2="199.11" y2="99.24" stroke="#d49c7c" stroke-width="0.55" opacity="0.8"/>
<line x1="199.68" y1="96.03" x2="199.68" y2="99.46" stroke="#d49c7c" stroke-width="0.55" opacity="0.8"/>
<line x1="200.25" y1="96.09" x2="200.25" y2="101.22" stroke="#d49c7c" stroke-width="0.55" opacity="0.8"/>
<line x1="200.82" y1="96.29" x2="200.82" y2="100.23" stroke="#d49c7c" stroke-width="0.55" opacity="0.8"/>
<line x1="201.39" y1="96.25" x2="201.39" y2="101.3" stroke="#d49c7c" stroke-width="0.55" opacity="0.8"/>
<line x1="201.96" y1="96.23" x2="201.96" y2="100.79" stroke="#d49c7c" stroke-width="0.55" opacity="0.8"/>
<line x1="202.53" y1="95.91" x2="202.53" y2="102.01" stroke="#d49c7c" stroke-width="0.55" opacity="0.8"/>
<line x1="203.1" y1="95.93" x2="203.1" y2="101.94" stroke="#d49c7c" stroke-width="0.55" opacity="0.8"/>
<line x1="203.67" y1="96.37" x2="203.67" y2="100.25" stroke="#d49c7c" stroke-width="0.55" opacity="0.8"/>
<line x1="204.24" y1="95.92" x2="204.24" y2="99.3" stroke="#d49c7c" stroke-width="0.55" opacity="0.8"/>
<line x1="204.8" y1="96.45" x2="204.8" y2="99.06" stroke="#d49c7c" stroke-width="0.55" opacity="0.8"/>
<line x1="205.37" y1="96.46" x2="205.37" y2="99.65" stroke="#d49c7c" stroke-width="0.55" opacity="0.8"/>
<line x1="205.94" y1="96.26" x2="205.94" y2="99.57" stroke="#d49c7c" stroke-width="0.55" opacity="0.8"/>
<line x1="206.51" y1="96.19" x2="206.51" y2="100.1" stroke="#d49c7c" stroke-width="0.55" opacity="0.8"/>
<line x1="207.08" y1="95.85" x2="207.08" y2="100.53" stroke="#d49c7c" stroke-width="0.55" opacity="0.8"/>
<line x1="207.65" y1="95.93" x2="207.65" y2="99.12" stroke="#d49c7c" stroke-width="0.55" opacity="0.8"/>
<line x1="208.22" y1="96.29" x2="208.22" y2="99.22" stroke="#d49c7c" stroke-width="0.55" opacity="0.8"/>
<line x1="208.79" y1="96.13" x2="208.79" y2="101.58" stroke="#d49c7c" stroke-width="0.55" opacity="0.8"/>
<line x1="209.36" y1="96.32" x2="209.36" y2="101.51" stroke="#d49c7c" stroke-width="0.55" opacity="0.8"/>
<line x1="209.93" y1="96.21" x2="209.93" y2="101.54" stroke="#d49c7c" stroke-width="0.55" opacity="0.8"/>
<line x1="210.49" y1="96.6" x2="210.49" y2="99.53" stroke="#d49c7c" stroke-width="0.55" opacity="0.8"/>
<line x1="211.06" y1="96.23" x2="211.06" y2="101.1" stroke="#d49c7c" stroke-width="0.55" opacity="0.8"/>
<line x1="211.63" y1="96.53" x2="211.63" y2="101.61" stroke="#d49c7c" stroke-width="0.55" opacity="0.8"/>
<line x1="212.2" y1="95.94" x2="212.2" y2="99.29" stroke="#d49c7c" stroke-width="0.55" opacity="0.8"/>
<line x1="212.77" y1="96.32" x2="212.77" y2="102.15" stroke="#d49c7c" stroke-width="0.55" opacity="0.8"/>
<line x1="213.34" y1="96.54" x2="213.34" y2="99.29" stroke="#d49c7c" stroke-width="0.55" opacity="0.8"/>
<line x1="213.91" y1="95.84" x2="213.91" y2="99.75" stroke="#d49c7c" stroke-width="0.55" opacity="0.8"/>
<line x1="214.48" y1="96.35" x2="214.48" y2="100.07" stroke="#d49c7c" stroke-width="0.55" opacity="0.8"/>
<line x1="215.05" y1="96.04" x2="215.05" y2="99.98" stroke="#d49c7c" stroke-width="0.55" opacity="0.8"/>
<line x1="215.62" y1="95.87" x2="215.62" y2="100.49" stroke="#d49c7c" stroke-width="0.55" opacity="0.8"/>
<line x1="216.19" y1="96.52" x2="216.19" y2="99.22" stroke="#d49c7c" stroke-width="0.55" opacity="0.8"/>
<line x1="216.75" y1="95.93" x2="216.75" y2="99.21" stroke="#d49c7c" stroke-width="0.55" opacity="0.8"/>
<line x1="217.32" y1="96.11" x2="217.32" y2="99.42" stroke="#d49c7c" stroke-width="0.55" opacity="0.8"/>
<line x1="217.89" y1="96.48" x2="217.89" y2="100.08" stroke="#d49c7c" stroke-width="0.55" opacity="0.8"/>
<line x1="218.46" y1="96.47" x2="218.46" y2="101.19" stroke="#d49c7c" stroke-width="0.55" opacity="0.8"/>
<line x1="219.03" y1="96.22" x2="219.03" y2="100.16" stroke="#d49c7c" stroke-width="0.55" opacity="0.8"/>
<line x1="219.6" y1="96.56" x2="219.6" y2="102.13" stroke="#d49c7c" stroke-width="0.55" opacity="0.8"/>
<line x1="220.17" y1="96.43" x2="220.17" y2="101.45" stroke="#d49c7c" stroke-width="0.55" opacity="0.8"/>
<line x1="220.74" y1="96.25" x2="220.74" y2="100.18" stroke="#d49c7c" stroke-width="0.55" opacity="0.8"/>
<line x1="221.31" y1="95.89" x2="221.31" y2="99.18" stroke="#d49c7c" stroke-width="0.55" opacity="0.8"/>
<line x1="221.88" y1="96.58" x2="221.88" y2="99.03" stroke="#d49c7c" stroke-width="0.55" opacity="0.8"/>
<line x1="222.44" y1="95.91" x2="222.44" y2="99.05" stroke="#d49c7c" stroke-width="0.55" opacity="0.8"/>
<line x1="223.01" y1="95.85" x2="223.01" y2="102.07" stroke="#d49c7c" stroke-width="0.55" opacity="0.8"/>
<line x1="223.58" y1="96.41" x2="223.58" y2="102.3" stroke="#d49c7c" stroke-width="0.55" opacity="0.8"/>
<line x1="224.15" y1="96.23" x2="224.15" y2="99.97" stroke="#d49c7c" stroke-width="0.55" opacity="0.8"/>
<line x1="224.72" y1="96.4" x2="224.72" y2="99.42" stroke="#d49c7c" stroke-width="0.55" opacity="0.8"/>
<line x1="225.29" y1="96" x2="225.29" y2="100.18" stroke="#d49c7c" stroke-width="0.55" opacity="0.8"/>
<line x1="225.86" y1="96.56" x2="225.86" y2="99.83" stroke="#d49c7c" stroke-width="0.55" opacity="0.8"/>
<line x1="226.43" y1="95.87" x2="226.43" y2="99.7" stroke="#d49c7c" stroke-width="0.55" opacity="0.8"/>
<line x1="227" y1="96.18" x2="227" y2="101.92" stroke="#d49c7c" stroke-width="0.55" opacity="0.8"/>
<line x1="227.56" y1="96.32" x2="227.56" y2="100.87" stroke="#d49c7c" stroke-width="0.55" opacity="0.8"/>
<line x1="228.13" y1="96.01" x2="228.13" y2="102.24" stroke="#d49c7c" stroke-width="0.55" opacity="0.8"/>
<line x1="228.7" y1="95.84" x2="228.7" y2="100" stroke="#d49c7c" stroke-width="0.55" opacity="0.8"/>
<line x1="229.27" y1="96.42" x2="229.27" y2="99.52" stroke="#d49c7c" stroke-width="0.55" opacity="0.8"/>
<line x1="229.84" y1="96.03" x2="229.84" y2="99.87" stroke="#d49c7c" stroke-width="0.55" opacity="0.8"/>
<line x1="230.41" y1="95.82" x2="230.41" y2="100.33" stroke="#d49c7c" stroke-width="0.55" opacity="0.8"/>
<line x1="230.98" y1="96.18" x2="230.98" y2="101.4" stroke="#d49c7c" stroke-width="0.55" opacity="0.8"/>
<line x1="231.55" y1="96.37" x2="231.55" y2="99.63" stroke="#d49c7c" stroke-width="0.55" opacity="0.8"/>
<line x1="232.12" y1="96.03" x2="232.12" y2="101.3" stroke="#d49c7c" stroke-width="0.55" opacity="0.8"/>
<line x1="232.69" y1="96.03" x2="232.69" y2="99.06" stroke="#d49c7c" stroke-width="0.55" opacity="0.8"/>
<line x1="233.25" y1="96.08" x2="233.25" y2="101.7" stroke="#d49c7c" stroke-width="0.55" opacity="0.8"/>
<line x1="233.82" y1="96.46" x2="233.82" y2="99.65" stroke="#d49c7c" stroke-width="0.55" opacity="0.8"/>
<line x1="234.39" y1="96.57" x2="234.39" y2="101.43" stroke="#d49c7c" stroke-width="0.55" opacity="0.8"/>
<line x1="234.96" y1="95.93" x2="234.96" y2="100.03" stroke="#d49c7c" stroke-width="0.55" opacity="0.8"/>
<line x1="235.53" y1="95.99" x2="235.53" y2="102.26" stroke="#d49c7c" stroke-width="0.55" opacity="0.8"/>
<line x1="236.1" y1="96.41" x2="236.1" y2="102.38" stroke="#d49c7c" stroke-width="0.55" opacity="0.8"/>
<line x1="236.67" y1="96.25" x2="236.67" y2="100.85" stroke="#d49c7c" stroke-width="0.55" opacity="0.8"/>
<line x1="237.24" y1="95.88" x2="237.24" y2="99.98" stroke="#d49c7c" stroke-width="0.55" opacity="0.8"/>
<line x1="237.81" y1="96.4" x2="237.81" y2="101.59" stroke="#d49c7c" stroke-width="0.55" opacity="0.8"/>
<line x1="238.38" y1="96.1" x2="238.38" y2="101.08" stroke="#d49c7c" stroke-width="0.55" opacity="0.8"/>
<line x1="238.94" y1="96.24" x2="238.94" y2="102.36" stroke="#d49c7c" stroke-width="0.55" opacity="0.8"/>
<line x1="239.51" y1="96.3" x2="239.51" y2="99.14" stroke="#d49c7c" stroke-width="0.55" opacity="0.8"/>
<line x1="240.08" y1="96.28" x2="240.08" y2="99.67" stroke="#d49c7c" stroke-width="0.55" opacity="0.8"/>
<line x1="240.65" y1="95.83" x2="240.65" y2="99.57" stroke="#d49c7c" stroke-width="0.55" opacity="0.8"/>
<line x1="241.22" y1="96.49" x2="241.22" y2="101.37" stroke="#d49c7c" stroke-width="0.55" opacity="0.8"/>
<line x1="241.79" y1="96.06" x2="241.79" y2="101.68" stroke="#d49c7c" stroke-width="0.55" opacity="0.8"/>
<line x1="242.36" y1="96.01" x2="242.36" y2="100.87" stroke="#d49c7c" stroke-width="0.55" opacity="0.8"/>
<line x1="242.93" y1="96.31" x2="242.93" y2="99.56" stroke="#d49c7c" stroke-width="0.55" opacity="0.8"/>
<line x1="243.5" y1="96.01" x2="243.5" y2="99.91" stroke="#d49c7c" stroke-width="0.55" opacity="0.8"/>
<line x1="244.07" y1="96.29" x2="244.07" y2="100.07" stroke="#d49c7c" stroke-width="0.55" opacity="0.8"/>
<line x1="244.63" y1="96.38" x2="244.63" y2="99.38" stroke="#d49c7c" stroke-width="0.55" opacity="0.8"/>
<line x1="245.2" y1="95.99" x2="245.2" y2="99.28" stroke="#d49c7c" stroke-width="0.55" opacity="0.8"/>
<line x1="245.77" y1="96.56" x2="245.77" y2="99.18" stroke="#d49c7c" stroke-width="0.55" opacity="0.8"/>
<line x1="246.34" y1="96.33" x2="246.34" y2="100.45" stroke="#d49c7c" stroke-width="0.55" opacity="0.8"/>
<line x1="246.91" y1="95.92" x2="246.91" y2="100.78" stroke="#d49c7c" stroke-width="0.55" opacity="0.8"/>
<line x1="247.48" y1="96.02" x2="247.48" y2="102.2" stroke="#d49c7c" stroke-width="0.55" opacity="0.8"/>
<line x1="248.05" y1="96.02" x2="248.05" y2="99.51" stroke="#d49c7c" stroke-width="0.55" opacity="0.8"/>
<line x1="248.62" y1="95.81" x2="248.62" y2="99.48" stroke="#d49c7c" stroke-width="0.55" opacity="0.8"/>
<line x1="249.19" y1="95.98" x2="249.19" y2="99.33" stroke="#d49c7c" stroke-width="0.55" opacity="0.8"/>
<line x1="249.76" y1="95.82" x2="249.76" y2="101.8" stroke="#d49c7c" stroke-width="0.55" opacity="0.8"/>
<line x1="250.32" y1="95.8" x2="250.32" y2="102.06" stroke="#d49c7c" stroke-width="0.55" opacity="0.8"/>
<line x1="250.89" y1="96.36" x2="250.89" y2="99.71" stroke="#d49c7c" stroke-width="0.55" opacity="0.8"/>
<line x1="251.46" y1="96.48" x2="251.46" y2="99.72" stroke="#d49c7c" stroke-width="0.55" opacity="0.8"/>
<line x1="252.03" y1="96.5" x2="252.03" y2="99.64" stroke="#d49c7c" stroke-width="0.55" opacity="0.8"/>
<line x1="252.6" y1="95.98" x2="252.6" y2="100.39" stroke="#d49c7c" stroke-width="0.55" opacity="0.8"/>
<line x1="253.17" y1="96.15" x2="253.17" y2="101.71" stroke="#d49c7c" stroke-width="0.55" opacity="0.8"/>
<line x1="253.74" y1="96.52" x2="253.74" y2="101.02" stroke="#d49c7c" stroke-width="0.55" opacity="0.8"/>
<line x1="254.31" y1="96.37" x2="254.31" y2="102.05" stroke="#d49c7c" stroke-width="0.55" opacity="0.8"/>
<line x1="254.88" y1="96.19" x2="254.88" y2="102.07" stroke="#d49c7c" stroke-width="0.55" opacity="0.8"/>
<line x1="255.45" y1="96.21" x2="255.45" y2="99.96" stroke="#d49c7c" stroke-width="0.55" opacity="0.8"/>
<line x1="256.01" y1="96.52" x2="256.01" y2="100.12" stroke="#d49c7c" stroke-width="0.55" opacity="0.8"/>
<line x1="256.58" y1="96.47" x2="256.58" y2="99.12" stroke="#d49c7c" stroke-width="0.55" opacity="0.8"/>
<line x1="257.15" y1="96" x2="257.15" y2="101.75" stroke="#d49c7c" stroke-width="0.55" opacity="0.8"/>
<line x1="257.72" y1="96.56" x2="257.72" y2="100.9" stroke="#d49c7c" stroke-width="0.55" opacity="0.8"/>
<line x1="258.29" y1="96.48" x2="258.29" y2="100.57" stroke="#d49c7c" stroke-width="0.55" opacity="0.8"/>
<line x1="258.86" y1="96.18" x2="258.86" y2="101.92" stroke="#d49c7c" stroke-width="0.55" opacity="0.8"/>
<line x1="259.43" y1="96.1" x2="259.43" y2="101.81" stroke="#d49c7c" stroke-width="0.55" opacity="0.8"/>
<line x1="260" y1="96.17" x2="260" y2="99.2" stroke="#d49c7c" stroke-width="0.55" opacity="0.8"/>
<line x1="260.57" y1="96.21" x2="260.57" y2="99.8" stroke="#d49c7c" stroke-width="0.55" opacity="0.8"/>
<line x1="261.14" y1="96.29" x2="261.14" y2="99.28" stroke="#d49c7c" stroke-width="0.55" opacity="0.8"/>
<line x1="261.7" y1="96.11" x2="261.7" y2="100.27" stroke="#d49c7c" stroke-width="0.55" opacity="0.8"/>
<line x1="262.27" y1="96.53" x2="262.27" y2="99.74" stroke="#d49c7c" stroke-width="0.55" opacity="0.8"/>
<line x1="262.84" y1="96.26" x2="262.84" y2="100.8" stroke="#d49c7c" stroke-width="0.55" opacity="0.8"/>
<line x1="263.41" y1="96.12" x2="263.41" y2="100.07" stroke="#d49c7c" stroke-width="0.55" opacity="0.8"/>
<line x1="263.98" y1="96.6" x2="263.98" y2="99.51" stroke="#d49c7c" stroke-width="0.55" opacity="0.8"/>
<line x1="264.55" y1="95.93" x2="264.55" y2="99.08" stroke="#d49c7c" stroke-width="0.55" opacity="0.8"/>
<line x1="265.12" y1="96.44" x2="265.12" y2="101.58" stroke="#d49c7c" stroke-width="0.55" opacity="0.8"/>
<line x1="265.69" y1="96.38" x2="265.69" y2="99.16" stroke="#d49c7c" stroke-width="0.55" opacity="0.8"/>
<line x1="266.26" y1="96.33" x2="266.26" y2="99.87" stroke="#d49c7c" stroke-width="0.55" opacity="0.8"/>
<line x1="266.83" y1="96.13" x2="266.83" y2="99.84" stroke="#d49c7c" stroke-width="0.55" opacity="0.8"/>
<line x1="267.39" y1="96.32" x2="267.39" y2="99.52" stroke="#d49c7c" stroke-width="0.55" opacity="0.8"/>
<line x1="267.96" y1="96.43" x2="267.96" y2="101.72" stroke="#d49c7c" stroke-width="0.55" opacity="0.8"/>
<line x1="268.53" y1="96.35" x2="268.53" y2="99.75" stroke="#d49c7c" stroke-width="0.55" opacity="0.8"/>
<line x1="269.1" y1="96.19" x2="269.1" y2="99.88" stroke="#d49c7c" stroke-width="0.55" opacity="0.8"/>
<line x1="269.67" y1="96.09" x2="269.67" y2="99.35" stroke="#d49c7c" stroke-width="0.55" opacity="0.8"/>
<line x1="270.24" y1="96.19" x2="270.24" y2="99.09" stroke="#d49c7c" stroke-width="0.55" opacity="0.8"/>
<line x1="270.81" y1="96.52" x2="270.81" y2="100.8" stroke="#d49c7c" stroke-width="0.55" opacity="0.8"/>
<line x1="271.38" y1="96.11" x2="271.38" y2="101.4" stroke="#d49c7c" stroke-width="0.55" opacity="0.8"/>
<line x1="271.95" y1="96.06" x2="271.95" y2="99.58" stroke="#d49c7c" stroke-width="0.55" opacity="0.8"/>
<line x1="272.52" y1="96.08" x2="272.52" y2="99.72" stroke="#d49c7c" stroke-width="0.55" opacity="0.8"/>
<line x1="273.08" y1="95.97" x2="273.08" y2="100.77" stroke="#d49c7c" stroke-width="0.55" opacity="0.8"/>
<line x1="273.65" y1="96.29" x2="273.65" y2="99.94" stroke="#d49c7c" stroke-width="0.55" opacity="0.8"/>
<line x1="274.22" y1="95.95" x2="274.22" y2="101.91" stroke="#d49c7c" stroke-width="0.55" opacity="0.8"/>
<line x1="274.79" y1="95.97" x2="274.79" y2="101.33" stroke="#d49c7c" stroke-width="0.55" opacity="0.8"/>
<line x1="275.36" y1="96.29" x2="275.36" y2="100.07" stroke="#d49c7c" stroke-width="0.55" opacity="0.8"/>
<line x1="275.93" y1="95.87" x2="275.93" y2="99.6" stroke="#d49c7c" stroke-width="0.55" opacity="0.8"/>
<line x1="276.5" y1="96.31" x2="276.5" y2="101.24" stroke="#d49c7c" stroke-width="0.55" opacity="0.8"/>
<line x1="277.07" y1="95.97" x2="277.07" y2="102.03" stroke="#d49c7c" stroke-width="0.55" opacity="0.8"/>
<line x1="277.64" y1="96.34" x2="277.64" y2="100.37" stroke="#d49c7c" stroke-width="0.55" opacity="0.8"/>
<line x1="278.21" y1="96.14" x2="278.21" y2="99.52" stroke="#d49c7c" stroke-width="0.55" opacity="0.8"/>
<line x1="278.77" y1="96.25" x2="278.77" y2="102.18" stroke="#d49c7c" stroke-width="0.55" opacity="0.8"/>
<line x1="279.34" y1="96.36" x2="279.34" y2="100.48" stroke="#d49c7c" stroke-width="0.55" opacity="0.8"/>
<line x1="279.91" y1="96.28" x2="279.91" y2="99.18" stroke="#d49c7c" stroke-width="0.55" opacity="0.8"/>
<line x1="280.48" y1="96.06" x2="280.48" y2="99.55" stroke="#d49c7c" stroke-width="0.55" opacity="0.8"/>
<line x1="281.05" y1="96.04" x2="281.05" y2="101.08" stroke="#d49c7c" stroke-width="0.55" opacity="0.8"/>
<line x1="281.62" y1="96.6" x2="281.62" y2="99.2" stroke="#d49c7c" stroke-width="0.55" opacity="0.8"/>
<line x1="282.19" y1="96.09" x2="282.19" y2="99.02" stroke="#d49c7c" stroke-width="0.55" opacity="0.8"/>
<line x1="282.76" y1="95.84" x2="282.76" y2="100.1" stroke="#d49c7c" stroke-width="0.55" opacity="0.8"/>
<line x1="283.33" y1="96.45" x2="283.33" y2="101.21" stroke="#d49c7c" stroke-width="0.55" opacity="0.8"/>
<line x1="283.9" y1="96.41" x2="283.9" y2="100.59" stroke="#d49c7c" stroke-width="0.55" opacity="0.8"/>
<line x1="284.46" y1="96.13" x2="284.46" y2="100.32" stroke="#d49c7c" stroke-width="0.55" opacity="0.8"/>
<line x1="285.03" y1="96.33" x2="285.03" y2="101.89" stroke="#d49c7c" stroke-width="0.55" opacity="0.8"/>
<line x1="285.6" y1="96.24" x2="285.6" y2="99.31" stroke="#d49c7c" stroke-width="0.55" opacity="0.8"/>
<line x1="286.17" y1="96.07" x2="286.17" y2="100.22" stroke="#d49c7c" stroke-width="0.55" opacity="0.8"/>
<line x1="286.74" y1="96.03" x2="286.74" y2="101.24" stroke="#d49c7c" stroke-width="0.55" opacity="0.8"/>
<line x1="287.31" y1="96.07" x2="287.31" y2="99.96" stroke="#d49c7c" stroke-width="0.55" opacity="0.8"/>
<line x1="287.88" y1="96.08" x2="287.88" y2="101.23" stroke="#d49c7c" stroke-width="0.55" opacity="0.8"/>
<line x1="288.45" y1="95.89" x2="288.45" y2="101.74" stroke="#d49c7c" stroke-width="0.55" opacity="0.8"/>
<line x1="289.02" y1="95.9" x2="289.02" y2="99.1" stroke="#d49c7c" stroke-width="0.55" opacity="0.8"/>
<line x1="289.59" y1="96.6" x2="289.59" y2="101.37" stroke="#d49c7c" stroke-width="0.55" opacity="0.8"/>
<line x1="290.15" y1="96.12" x2="290.15" y2="99.44" stroke="#d49c7c" stroke-width="0.55" opacity="0.8"/>
<line x1="290.72" y1="95.89" x2="290.72" y2="101.99" stroke="#d49c7c" stroke-width="0.55" opacity="0.8"/>
<line x1="291.29" y1="96.18" x2="291.29" y2="99.07" stroke="#d49c7c" stroke-width="0.55" opacity="0.8"/>
<polyline points="179.77,98.1 180.91,98.14 182.04,97.99 183.18,97.78 184.32,98.26 185.46,98.27 186.6,98.44 187.73,97.72 188.87,97.69 190.01,98.22 191.15,98.21 192.29,97.81 193.42,98.25 194.56,98.43 195.7,98.03 196.84,97.74 197.98,98.49 199.11,97.66 200.25,98.43 201.39,97.77 202.53,97.93 203.67,98.29 204.8,98.43 205.94,97.82 207.08,97.68 208.22,97.67 209.36,98.16 210.49,98.17 211.63,98.47 212.77,98.1 213.91,98.12 215.05,98.39 216.19,98.35 217.32,98.03 218.46,98.28 219.6,98.01 220.74,97.71 221.88,98.26 223.01,98.18 224.15,98.54 225.29,98.24 226.43,97.79 227.56,98.34 228.7,98.14 229.84,97.72 230.98,98.07 232.12,98.46 233.25,98.21 234.39,98.03 235.53,97.66 236.67,98.25 237.81,98.54 238.94,98.42 240.08,97.85 241.22,97.76 242.36,98.08 243.5,97.9 244.63,98.16 245.77,98.06 246.91,98.32 248.05,98.48 249.19,97.98 250.32,98.32 251.46,98.28 252.6,97.78 253.74,98.33 254.88,97.91 256.01,98.15 257.15,98.1 258.29,98.25 259.43,98.45 260.57,98.47 261.7,97.7 262.84,97.68 263.98,97.7 265.12,98.44 266.26,98.27 267.39,98.21 268.53,98 269.67,97.93 270.81,98.19 271.95,98.51 273.08,98.4 274.22,98.2 275.36,97.93 276.5,98.5 277.64,98.3 278.77,98.07 279.91,97.8 281.05,98.52 282.19,97.76 283.33,98.51 284.46,97.8 285.6,98.37 286.74,98.08 287.88,98.35 289.02,98.06 290.15,97.89 291.29,98.33" fill="none" stroke="#f2956a" stroke-width="0.9" opacity="0.8"/>
<line x1="289.5" y1="99.8" x2="289.5" y2="119" stroke="#dca080" stroke-width="1.0" />
<line x1="284.5" y1="99.8" x2="284.5" y2="105.8" stroke="#dca080" stroke-width="0.8" />
<line x1="286.3" y1="99.8" x2="286.3" y2="104" stroke="#dca080" stroke-width="0.8" />
<circle cx="179.77" cy="61.34" r="0.95" fill="#fc8d62" opacity="0.72"/>
<circle cx="180.34" cy="60.66" r="0.95" fill="#fc8d62" opacity="0.72"/>
<circle cx="180.91" cy="63.45" r="0.95" fill="#fc8d62" opacity="0.72"/>
<circle cx="181.48" cy="65.13" r="0.95" fill="#fc8d62" opacity="0.72"/>
<circle cx="182.04" cy="60.77" r="0.95" fill="#fc8d62" opacity="0.72"/>
<circle cx="182.61" cy="65.27" r="0.95" fill="#fc8d62" opacity="0.72"/>
<circle cx="183.18" cy="65.21" r="0.95" fill="#fc8d62" opacity="0.72"/>
<circle cx="183.75" cy="66.34" r="0.95" fill="#fc8d62" opacity="0.72"/>
<circle cx="184.32" cy="66.79" r="0.95" fill="#fc8d62" opacity="0.72"/>
<circle cx="184.89" cy="69.09" r="0.95" fill="#fc8d62" opacity="0.72"/>
<circle cx="185.46" cy="68.4" r="0.95" fill="#fc8d62" opacity="0.72"/>
<circle cx="186.03" cy="67.29" r="0.95" fill="#fc8d62" opacity="0.72"/>
<circle cx="186.6" cy="70.57" r="0.95" fill="#fc8d62" opacity="0.72"/>
<circle cx="187.17" cy="68.39" r="0.95" fill="#fc8d62" opacity="0.72"/>
<circle cx="187.73" cy="74.25" r="0.95" fill="#fc8d62" opacity="0.72"/>
<circle cx="188.3" cy="68.19" r="0.95" fill="#fc8d62" opacity="0.72"/>
<circle cx="188.87" cy="71.74" r="0.95" fill="#fc8d62" opacity="0.72"/>
<circle cx="189.44" cy="71.68" r="0.95" fill="#fc8d62" opacity="0.72"/>
<circle cx="190.01" cy="72.78" r="0.95" fill="#fc8d62" opacity="0.72"/>
<circle cx="190.58" cy="70.15" r="0.95" fill="#fc8d62" opacity="0.72"/>
<circle cx="191.15" cy="75.25" r="0.95" fill="#fc8d62" opacity="0.72"/>
<circle cx="191.72" cy="73.88" r="0.95" fill="#fc8d62" opacity="0.72"/>
<circle cx="192.29" cy="72.95" r="0.95" fill="#fc8d62" opacity="0.72"/>
<circle cx="192.86" cy="75.9" r="0.95" fill="#fc8d62" opacity="0.72"/>
<circle cx="193.42" cy="64.15" r="0.95" fill="#fc8d62" opacity="0.72"/>
<circle cx="193.99" cy="73" r="0.95" fill="#fc8d62" opacity="0.72"/>
<circle cx="194.56" cy="74.04" r="0.95" fill="#fc8d62" opacity="0.72"/>
<circle cx="195.13" cy="74.07" r="0.95" fill="#fc8d62" opacity="0.72"/>
<circle cx="195.7" cy="74.59" r="0.95" fill="#fc8d62" opacity="0.72"/>
<circle cx="196.27" cy="70.83" r="0.95" fill="#fc8d62" opacity="0.72"/>
<circle cx="196.84" cy="74.68" r="0.95" fill="#fc8d62" opacity="0.72"/>
<circle cx="197.41" cy="73.82" r="0.95" fill="#fc8d62" opacity="0.72"/>
<circle cx="197.98" cy="75.63" r="0.95" fill="#fc8d62" opacity="0.72"/>
<circle cx="198.55" cy="72.77" r="0.95" fill="#fc8d62" opacity="0.72"/>
<circle cx="199.11" cy="76.87" r="0.95" fill="#fc8d62" opacity="0.72"/>
<circle cx="199.68" cy="75.75" r="0.95" fill="#fc8d62" opacity="0.72"/>
<circle cx="200.25" cy="74.59" r="0.95" fill="#fc8d62" opacity="0.72"/>
<circle cx="200.82" cy="74.57" r="0.95" fill="#fc8d62" opacity="0.72"/>
<circle cx="201.39" cy="67.52" r="0.95" fill="#fc8d62" opacity="0.72"/>
<circle cx="201.96" cy="68.27" r="0.95" fill="#fc8d62" opacity="0.72"/>
<circle cx="202.53" cy="75.35" r="0.95" fill="#fc8d62" opacity="0.72"/>
<circle cx="203.1" cy="77.76" r="0.95" fill="#fc8d62" opacity="0.72"/>
<circle cx="203.67" cy="75.52" r="0.95" fill="#fc8d62" opacity="0.72"/>
<circle cx="204.24" cy="77.11" r="0.95" fill="#fc8d62" opacity="0.72"/>
<circle cx="204.8" cy="75.1" r="0.95" fill="#fc8d62" opacity="0.72"/>
<circle cx="205.37" cy="75.8" r="0.95" fill="#fc8d62" opacity="0.72"/>
<circle cx="205.94" cy="74.4" r="0.95" fill="#fc8d62" opacity="0.72"/>
<circle cx="206.51" cy="74.29" r="0.95" fill="#fc8d62" opacity="0.72"/>
<circle cx="207.08" cy="77.91" r="0.95" fill="#fc8d62" opacity="0.72"/>
<circle cx="207.65" cy="67.94" r="0.95" fill="#fc8d62" opacity="0.72"/>
<circle cx="208.22" cy="78.54" r="0.95" fill="#fc8d62" opacity="0.72"/>
<circle cx="208.79" cy="75.21" r="0.95" fill="#fc8d62" opacity="0.72"/>
<circle cx="209.36" cy="76.46" r="0.95" fill="#fc8d62" opacity="0.72"/>
<circle cx="209.93" cy="75.04" r="0.95" fill="#fc8d62" opacity="0.72"/>
<circle cx="210.49" cy="69.37" r="0.95" fill="#fc8d62" opacity="0.72"/>
<circle cx="211.06" cy="76.69" r="0.95" fill="#fc8d62" opacity="0.72"/>
<circle cx="211.63" cy="59.36" r="0.95" fill="#fc8d62" opacity="0.72"/>
<circle cx="212.2" cy="76.77" r="0.95" fill="#fc8d62" opacity="0.72"/>
<circle cx="212.77" cy="74.74" r="0.95" fill="#fc8d62" opacity="0.72"/>
<circle cx="213.34" cy="78.51" r="0.95" fill="#fc8d62" opacity="0.72"/>
<circle cx="213.91" cy="78.75" r="0.95" fill="#fc8d62" opacity="0.72"/>
<circle cx="214.48" cy="81" r="0.95" fill="#fc8d62" opacity="0.72"/>
<circle cx="215.05" cy="60.07" r="0.95" fill="#fc8d62" opacity="0.72"/>
<circle cx="215.62" cy="78.19" r="0.95" fill="#fc8d62" opacity="0.72"/>
<circle cx="216.19" cy="79.08" r="0.95" fill="#fc8d62" opacity="0.72"/>
<circle cx="216.75" cy="75.72" r="0.95" fill="#fc8d62" opacity="0.72"/>
<circle cx="217.32" cy="79.45" r="0.95" fill="#fc8d62" opacity="0.72"/>
<circle cx="217.89" cy="79.45" r="0.95" fill="#fc8d62" opacity="0.72"/>
<circle cx="218.46" cy="79.28" r="0.95" fill="#fc8d62" opacity="0.72"/>
<circle cx="219.03" cy="78.62" r="0.95" fill="#fc8d62" opacity="0.72"/>
<circle cx="219.6" cy="78.49" r="0.95" fill="#fc8d62" opacity="0.72"/>
<circle cx="220.17" cy="78.54" r="0.95" fill="#fc8d62" opacity="0.72"/>
<circle cx="220.74" cy="76.5" r="0.95" fill="#fc8d62" opacity="0.72"/>
<circle cx="221.31" cy="81.7" r="0.95" fill="#fc8d62" opacity="0.72"/>
<circle cx="221.88" cy="78.42" r="0.95" fill="#fc8d62" opacity="0.72"/>
<circle cx="222.44" cy="81.64" r="0.95" fill="#fc8d62" opacity="0.72"/>
<circle cx="223.01" cy="80.16" r="0.95" fill="#fc8d62" opacity="0.72"/>
<circle cx="223.58" cy="79.93" r="0.95" fill="#fc8d62" opacity="0.72"/>
<circle cx="224.15" cy="80.77" r="0.95" fill="#fc8d62" opacity="0.72"/>
<circle cx="224.72" cy="79.4" r="0.95" fill="#fc8d62" opacity="0.72"/>
<circle cx="225.29" cy="81.39" r="0.95" fill="#fc8d62" opacity="0.72"/>
<circle cx="225.86" cy="61.14" r="0.95" fill="#fc8d62" opacity="0.72"/>
<circle cx="226.43" cy="80.86" r="0.95" fill="#fc8d62" opacity="0.72"/>
<circle cx="227" cy="79.69" r="0.95" fill="#fc8d62" opacity="0.72"/>
<circle cx="227.56" cy="79.96" r="0.95" fill="#fc8d62" opacity="0.72"/>
<circle cx="228.13" cy="82.61" r="0.95" fill="#fc8d62" opacity="0.72"/>
<circle cx="228.7" cy="83.34" r="0.95" fill="#fc8d62" opacity="0.72"/>
<circle cx="229.27" cy="80.29" r="0.95" fill="#fc8d62" opacity="0.72"/>
<circle cx="229.84" cy="79.89" r="0.95" fill="#fc8d62" opacity="0.72"/>
<circle cx="230.41" cy="68.72" r="0.95" fill="#fc8d62" opacity="0.72"/>
<circle cx="230.98" cy="81.35" r="0.95" fill="#fc8d62" opacity="0.72"/>
<circle cx="231.55" cy="80.41" r="0.95" fill="#fc8d62" opacity="0.72"/>
<circle cx="232.12" cy="80.85" r="0.95" fill="#fc8d62" opacity="0.72"/>
<circle cx="232.69" cy="82.07" r="0.95" fill="#fc8d62" opacity="0.72"/>
<circle cx="233.25" cy="81.13" r="0.95" fill="#fc8d62" opacity="0.72"/>
<circle cx="233.82" cy="77.53" r="0.95" fill="#fc8d62" opacity="0.72"/>
<circle cx="234.39" cy="84.57" r="0.95" fill="#fc8d62" opacity="0.72"/>
<circle cx="234.96" cy="84.56" r="0.95" fill="#fc8d62" opacity="0.72"/>
<circle cx="235.53" cy="82.56" r="0.95" fill="#fc8d62" opacity="0.72"/>
<circle cx="236.1" cy="81.15" r="0.95" fill="#fc8d62" opacity="0.72"/>
<circle cx="236.67" cy="81.74" r="0.95" fill="#fc8d62" opacity="0.72"/>
<circle cx="237.24" cy="83.93" r="0.95" fill="#fc8d62" opacity="0.72"/>
<circle cx="237.81" cy="84.72" r="0.95" fill="#fc8d62" opacity="0.72"/>
<circle cx="238.38" cy="80.68" r="0.95" fill="#fc8d62" opacity="0.72"/>
<circle cx="238.94" cy="80.88" r="0.95" fill="#fc8d62" opacity="0.72"/>
<circle cx="239.51" cy="83.86" r="0.95" fill="#fc8d62" opacity="0.72"/>
<circle cx="240.08" cy="83.78" r="0.95" fill="#fc8d62" opacity="0.72"/>
<circle cx="240.65" cy="73.18" r="0.95" fill="#fc8d62" opacity="0.72"/>
<circle cx="241.22" cy="81.61" r="0.95" fill="#fc8d62" opacity="0.72"/>
<circle cx="241.79" cy="82.25" r="0.95" fill="#fc8d62" opacity="0.72"/>
<circle cx="242.36" cy="81.6" r="0.95" fill="#fc8d62" opacity="0.72"/>
<circle cx="242.93" cy="80.58" r="0.95" fill="#fc8d62" opacity="0.72"/>
<circle cx="243.5" cy="83.28" r="0.95" fill="#fc8d62" opacity="0.72"/>
<circle cx="244.07" cy="84.76" r="0.95" fill="#fc8d62" opacity="0.72"/>
<circle cx="244.63" cy="82.84" r="0.95" fill="#fc8d62" opacity="0.72"/>
<circle cx="245.2" cy="83.3" r="0.95" fill="#fc8d62" opacity="0.72"/>
<circle cx="245.77" cy="83.35" r="0.95" fill="#fc8d62" opacity="0.72"/>
<circle cx="246.34" cy="69.32" r="0.95" fill="#fc8d62" opacity="0.72"/>
<circle cx="246.91" cy="81.93" r="0.95" fill="#fc8d62" opacity="0.72"/>
<circle cx="247.48" cy="80.56" r="0.95" fill="#fc8d62" opacity="0.72"/>
<circle cx="248.05" cy="84.15" r="0.95" fill="#fc8d62" opacity="0.72"/>
<circle cx="248.62" cy="87.15" r="0.95" fill="#fc8d62" opacity="0.72"/>
<circle cx="249.19" cy="81.82" r="0.95" fill="#fc8d62" opacity="0.72"/>
<circle cx="249.76" cy="83.05" r="0.95" fill="#fc8d62" opacity="0.72"/>
<circle cx="250.32" cy="85.12" r="0.95" fill="#fc8d62" opacity="0.72"/>
<circle cx="250.89" cy="87.37" r="0.95" fill="#fc8d62" opacity="0.72"/>
<circle cx="251.46" cy="69.96" r="0.95" fill="#fc8d62" opacity="0.72"/>
<circle cx="252.03" cy="84.08" r="0.95" fill="#fc8d62" opacity="0.72"/>
<circle cx="252.6" cy="85.18" r="0.95" fill="#fc8d62" opacity="0.72"/>
<circle cx="253.17" cy="87.15" r="0.95" fill="#fc8d62" opacity="0.72"/>
<circle cx="253.74" cy="84.72" r="0.95" fill="#fc8d62" opacity="0.72"/>
<circle cx="254.31" cy="88.07" r="0.95" fill="#fc8d62" opacity="0.72"/>
<circle cx="254.88" cy="85.28" r="0.95" fill="#fc8d62" opacity="0.72"/>
<circle cx="255.45" cy="84.39" r="0.95" fill="#fc8d62" opacity="0.72"/>
<circle cx="256.01" cy="84.84" r="0.95" fill="#fc8d62" opacity="0.72"/>
<circle cx="256.58" cy="86.35" r="0.95" fill="#fc8d62" opacity="0.72"/>
<circle cx="257.15" cy="86.78" r="0.95" fill="#fc8d62" opacity="0.72"/>
<circle cx="257.72" cy="86.13" r="0.95" fill="#fc8d62" opacity="0.72"/>
<circle cx="258.29" cy="85.3" r="0.95" fill="#fc8d62" opacity="0.72"/>
<circle cx="258.86" cy="85.26" r="0.95" fill="#fc8d62" opacity="0.72"/>
<circle cx="259.43" cy="88.43" r="0.95" fill="#fc8d62" opacity="0.72"/>
<circle cx="260" cy="67.36" r="0.95" fill="#fc8d62" opacity="0.72"/>
<circle cx="260.57" cy="87.04" r="0.95" fill="#fc8d62" opacity="0.72"/>
<circle cx="261.14" cy="82.51" r="0.95" fill="#fc8d62" opacity="0.72"/>
<circle cx="261.7" cy="86.61" r="0.95" fill="#fc8d62" opacity="0.72"/>
<circle cx="262.27" cy="84.5" r="0.95" fill="#fc8d62" opacity="0.72"/>
<circle cx="262.84" cy="86.21" r="0.95" fill="#fc8d62" opacity="0.72"/>
<circle cx="263.41" cy="85.47" r="0.95" fill="#fc8d62" opacity="0.72"/>
<circle cx="263.98" cy="87.07" r="0.95" fill="#fc8d62" opacity="0.72"/>
<circle cx="264.55" cy="86.18" r="0.95" fill="#fc8d62" opacity="0.72"/>
<circle cx="265.12" cy="87.1" r="0.95" fill="#fc8d62" opacity="0.72"/>
<circle cx="265.69" cy="87.02" r="0.95" fill="#fc8d62" opacity="0.72"/>
<circle cx="266.26" cy="85.37" r="0.95" fill="#fc8d62" opacity="0.72"/>
<circle cx="266.83" cy="88.49" r="0.95" fill="#fc8d62" opacity="0.72"/>
<circle cx="267.39" cy="73.5" r="0.95" fill="#fc8d62" opacity="0.72"/>
<circle cx="267.96" cy="87.13" r="0.95" fill="#fc8d62" opacity="0.72"/>
<circle cx="268.53" cy="68.14" r="0.95" fill="#fc8d62" opacity="0.72"/>
<circle cx="269.1" cy="78.64" r="0.95" fill="#fc8d62" opacity="0.72"/>
<circle cx="269.67" cy="86.67" r="0.95" fill="#fc8d62" opacity="0.72"/>
<circle cx="270.24" cy="88.66" r="0.95" fill="#fc8d62" opacity="0.72"/>
<circle cx="270.81" cy="84.6" r="0.95" fill="#fc8d62" opacity="0.72"/>
<circle cx="271.38" cy="88.98" r="0.95" fill="#fc8d62" opacity="0.72"/>
<circle cx="271.95" cy="87.06" r="0.95" fill="#fc8d62" opacity="0.72"/>
<circle cx="272.52" cy="87.24" r="0.95" fill="#fc8d62" opacity="0.72"/>
<circle cx="273.08" cy="86.77" r="0.95" fill="#fc8d62" opacity="0.72"/>
<circle cx="273.65" cy="90.1" r="0.95" fill="#fc8d62" opacity="0.72"/>
<circle cx="274.22" cy="89.48" r="0.95" fill="#fc8d62" opacity="0.72"/>
<circle cx="274.79" cy="89.27" r="0.95" fill="#fc8d62" opacity="0.72"/>
<circle cx="275.36" cy="88.79" r="0.95" fill="#fc8d62" opacity="0.72"/>
<circle cx="275.93" cy="88.33" r="0.95" fill="#fc8d62" opacity="0.72"/>
<circle cx="276.5" cy="91.65" r="0.95" fill="#fc8d62" opacity="0.72"/>
<circle cx="277.07" cy="84.77" r="0.95" fill="#fc8d62" opacity="0.72"/>
<circle cx="277.64" cy="92.44" r="0.95" fill="#fc8d62" opacity="0.72"/>
<circle cx="278.21" cy="72.95" r="0.95" fill="#fc8d62" opacity="0.72"/>
<circle cx="278.77" cy="88.58" r="0.95" fill="#fc8d62" opacity="0.72"/>
<circle cx="279.34" cy="89.94" r="0.95" fill="#fc8d62" opacity="0.72"/>
<circle cx="279.91" cy="92.79" r="0.95" fill="#fc8d62" opacity="0.72"/>
<circle cx="280.48" cy="91.62" r="0.95" fill="#fc8d62" opacity="0.72"/>
<circle cx="281.05" cy="84.62" r="0.95" fill="#fc8d62" opacity="0.72"/>
<circle cx="281.62" cy="86.92" r="0.95" fill="#fc8d62" opacity="0.72"/>
<circle cx="282.19" cy="92.05" r="0.95" fill="#fc8d62" opacity="0.72"/>
<circle cx="282.76" cy="93.6" r="0.95" fill="#fc8d62" opacity="0.72"/>
<circle cx="283.33" cy="93.84" r="0.95" fill="#fc8d62" opacity="0.72"/>
<circle cx="283.9" cy="92.49" r="0.95" fill="#fc8d62" opacity="0.72"/>
<circle cx="284.46" cy="92.48" r="0.95" fill="#fc8d62" opacity="0.72"/>
<circle cx="285.03" cy="94.63" r="0.95" fill="#fc8d62" opacity="0.72"/>
<circle cx="285.6" cy="93.6" r="0.95" fill="#fc8d62" opacity="0.72"/>
<circle cx="286.17" cy="94.34" r="0.95" fill="#fc8d62" opacity="0.72"/>
<circle cx="286.74" cy="94.83" r="0.95" fill="#fc8d62" opacity="0.72"/>
<circle cx="287.31" cy="96.76" r="0.95" fill="#fc8d62" opacity="0.72"/>
<circle cx="287.88" cy="93.12" r="0.95" fill="#fc8d62" opacity="0.72"/>
<circle cx="288.45" cy="93.75" r="0.95" fill="#fc8d62" opacity="0.72"/>
<circle cx="289.02" cy="96.09" r="0.95" fill="#fc8d62" opacity="0.72"/>
<circle cx="289.59" cy="99.19" r="0.95" fill="#fc8d62" opacity="0.72"/>
<circle cx="290.15" cy="89.59" r="0.95" fill="#fc8d62" opacity="0.72"/>
<circle cx="290.72" cy="94.44" r="0.95" fill="#fc8d62" opacity="0.72"/>
<circle cx="291.29" cy="98.55" r="0.95" fill="#fc8d62" opacity="0.72"/>
<polyline points="179.1,58 179.77,62.67 180.34,64.19 180.91,65.67 181.48,66.47 182.04,67.23 182.61,68.31 183.18,69.02 183.75,69.49 184.32,70.1 184.89,70.44 185.46,70.41 186.03,71.04 186.6,71.29 187.17,72.28 187.73,71.73 188.3,72.61 188.87,72.63 189.44,73.57 190.01,72.48 190.58,73.48 191.15,73.51 191.72,73.41 192.29,73.87 192.86,74.7 193.42,74.82 193.99,75.07 194.56,74.94 195.13,75.14 195.7,75.51 196.27,75.47 196.84,76.15 197.41,75.35 197.98,76.26 198.55,76.16 199.11,76.02 199.68,76.15 200.25,76.51 200.82,76.45 201.39,77.14 201.96,77.22 202.53,77.04 203.1,77.26 203.67,76.67 204.24,78.11 204.8,78 205.37,78.25 205.94,77.81 206.51,78.41 207.08,78.56 207.65,78.6 208.22,78.25 208.79,78.22 209.36,78.4 209.93,78.9 210.49,78.39 211.06,78.84 211.63,79 212.2,79.1 212.77,79.22 213.34,78.45 213.91,79.28 214.48,79.76 215.05,79.17 215.62,79.69 216.19,79.65 216.75,80.15 217.32,80.21 217.89,80.82 218.46,79.99 219.03,81.18 219.6,80.43 220.17,80.57 220.74,80.45 221.31,81.63 221.88,81.59 222.44,80.63 223.01,81.43 223.58,81.33 224.15,81.59 224.72,81.33 225.29,81.33 225.86,81.61 226.43,81.53 227,81.64 227.56,82.18 228.13,81.62 228.7,81.84 229.27,82.38 229.84,82.77 230.41,82.54 230.98,82.48 231.55,82.63 232.12,82.91 232.69,82.9 233.25,82.6 233.82,83.19 234.39,82.68 234.96,82.63 235.53,83.39 236.1,83.53 236.67,83.2 237.24,83.71 237.81,83.73 238.38,83.12 238.94,83.46 239.51,83.71 240.08,84.04 240.65,84 241.22,84.04 241.79,84.54 242.36,84.65 242.93,84.63 243.5,84.81 244.07,85.1 244.63,84.73 245.2,85.16 245.77,85.32 246.34,84.95 246.91,85.6 247.48,85.2 248.05,84.83 248.62,85.39 249.19,85.73 249.76,86.27 250.32,85.65 250.89,85.88 251.46,85.77 252.03,85.92 252.6,85.68 253.17,85.96 253.74,86.14 254.31,85.84 254.88,86.4 255.45,86.45 256.01,86.44 256.58,86.24 257.15,86.95 257.72,86.61 258.29,86.89 258.86,86.96 259.43,87.2 260,87.14 260.57,87.25 261.14,86.91 261.7,87.82 262.27,87.01 262.84,87.4 263.41,87.64 263.98,87.88 264.55,88.23 265.12,88.15 265.69,88.31 266.26,88.04 266.83,88.2 267.39,88.95 267.96,88.81 268.53,88.31 269.1,88.83 269.67,88.5 270.24,89.39 270.81,89.06 271.38,89.13 271.95,89.53 272.52,89.77 273.08,90.04 273.65,90.43 274.22,90.78 274.79,90.62 275.36,91.17 275.93,90.32 276.5,91.25 277.07,91.34 277.64,91.42 278.21,91.62 278.77,91.91 279.34,92.35 279.91,92.26 280.48,92.36 281.05,92.85 281.62,92.91 282.19,93.06 282.76,93.4 283.33,93.27 283.9,93.53 284.46,94.42 285.03,94.13 285.6,94.15 286.17,94.88 286.74,95.13 287.31,96.1 287.88,95.93 288.45,96.15 289.02,96.34 289.59,97.5 290.15,98.99 290.8,100.8" fill="none" stroke="#66c2a5" stroke-width="1.45" stroke-linejoin="round" stroke-linecap="round" opacity="0.9"/>
<circle cx="179.4" cy="45.9" r="1.0" fill="#fc8d62" opacity="0.8"/>
<line x1="178.9" y1="79.9" x2="189.2" y2="79.9" stroke="#fc8d62" stroke-width="1.6" opacity="0.85"/>
<path d="M187.5,77.7 L190.7,79.9 L187.5,82.1 Z" fill="#fc8d62" stroke="#fc8d62" stroke-width="0.5" opacity="0.9"/>
<line x1="178.9" y1="82.6" x2="189.4" y2="82.6" stroke="#66c2a5" stroke-width="1.2" opacity="0.85"/>
<path d="M187.7,80.4 L190.9,82.6 L187.7,84.8 Z" fill="#66c2a5" stroke="#66c2a5" stroke-width="0.5" opacity="0.9"/>
<text x="188.4" y="34.9" font-size="8.1" text-anchor="start" fill="#111" stroke="#111" stroke-width="0.12" >n = 197</text>
<rect x="53.27" y="217" width="78.55" height="3.8" fill="#e9c0a5" stroke="none" stroke-width="1.3" />
<line x1="53.67" y1="217.12" x2="53.67" y2="220.02" stroke="#d49c7c" stroke-width="0.55" opacity="0.8"/>
<line x1="54.24" y1="217.49" x2="54.24" y2="221.49" stroke="#d49c7c" stroke-width="0.55" opacity="0.8"/>
<line x1="54.81" y1="217.1" x2="54.81" y2="223.13" stroke="#d49c7c" stroke-width="0.55" opacity="0.8"/>
<line x1="55.38" y1="217.12" x2="55.38" y2="221.87" stroke="#d49c7c" stroke-width="0.55" opacity="0.8"/>
<line x1="55.95" y1="217.5" x2="55.95" y2="222.6" stroke="#d49c7c" stroke-width="0.55" opacity="0.8"/>
<line x1="56.51" y1="217.57" x2="56.51" y2="223.2" stroke="#d49c7c" stroke-width="0.55" opacity="0.8"/>
<line x1="57.08" y1="217.24" x2="57.08" y2="222.17" stroke="#d49c7c" stroke-width="0.55" opacity="0.8"/>
<line x1="57.65" y1="217.08" x2="57.65" y2="221.74" stroke="#d49c7c" stroke-width="0.55" opacity="0.8"/>
<line x1="58.22" y1="216.82" x2="58.22" y2="220.27" stroke="#d49c7c" stroke-width="0.55" opacity="0.8"/>
<line x1="58.79" y1="216.9" x2="58.79" y2="222.35" stroke="#d49c7c" stroke-width="0.55" opacity="0.8"/>
<line x1="59.36" y1="217.43" x2="59.36" y2="220.51" stroke="#d49c7c" stroke-width="0.55" opacity="0.8"/>
<line x1="59.93" y1="217.44" x2="59.93" y2="221.95" stroke="#d49c7c" stroke-width="0.55" opacity="0.8"/>
<line x1="60.5" y1="216.97" x2="60.5" y2="222.55" stroke="#d49c7c" stroke-width="0.55" opacity="0.8"/>
<line x1="61.07" y1="217.26" x2="61.07" y2="222.19" stroke="#d49c7c" stroke-width="0.55" opacity="0.8"/>
<line x1="61.64" y1="216.96" x2="61.64" y2="220.74" stroke="#d49c7c" stroke-width="0.55" opacity="0.8"/>
<line x1="62.2" y1="217.55" x2="62.2" y2="220.66" stroke="#d49c7c" stroke-width="0.55" opacity="0.8"/>
<line x1="62.77" y1="217.15" x2="62.77" y2="220.59" stroke="#d49c7c" stroke-width="0.55" opacity="0.8"/>
<line x1="63.34" y1="217.12" x2="63.34" y2="221.39" stroke="#d49c7c" stroke-width="0.55" opacity="0.8"/>
<line x1="63.91" y1="217.4" x2="63.91" y2="220.1" stroke="#d49c7c" stroke-width="0.55" opacity="0.8"/>
<line x1="64.48" y1="217.48" x2="64.48" y2="220.84" stroke="#d49c7c" stroke-width="0.55" opacity="0.8"/>
<line x1="65.05" y1="216.82" x2="65.05" y2="220.16" stroke="#d49c7c" stroke-width="0.55" opacity="0.8"/>
<line x1="65.62" y1="216.81" x2="65.62" y2="220.76" stroke="#d49c7c" stroke-width="0.55" opacity="0.8"/>
<line x1="66.19" y1="217.42" x2="66.19" y2="221.53" stroke="#d49c7c" stroke-width="0.55" opacity="0.8"/>
<line x1="66.76" y1="217.51" x2="66.76" y2="223.2" stroke="#d49c7c" stroke-width="0.55" opacity="0.8"/>
<line x1="67.33" y1="217.44" x2="67.33" y2="220.21" stroke="#d49c7c" stroke-width="0.55" opacity="0.8"/>
<line x1="67.89" y1="217.37" x2="67.89" y2="221.76" stroke="#d49c7c" stroke-width="0.55" opacity="0.8"/>
<line x1="68.46" y1="217.45" x2="68.46" y2="221.92" stroke="#d49c7c" stroke-width="0.55" opacity="0.8"/>
<line x1="69.03" y1="217.48" x2="69.03" y2="222.54" stroke="#d49c7c" stroke-width="0.55" opacity="0.8"/>
<line x1="69.6" y1="217.3" x2="69.6" y2="221.03" stroke="#d49c7c" stroke-width="0.55" opacity="0.8"/>
<line x1="70.17" y1="216.94" x2="70.17" y2="222.94" stroke="#d49c7c" stroke-width="0.55" opacity="0.8"/>
<line x1="70.74" y1="217.35" x2="70.74" y2="220.03" stroke="#d49c7c" stroke-width="0.55" opacity="0.8"/>
<line x1="71.31" y1="217.36" x2="71.31" y2="223.4" stroke="#d49c7c" stroke-width="0.55" opacity="0.8"/>
<line x1="71.88" y1="217.12" x2="71.88" y2="220.11" stroke="#d49c7c" stroke-width="0.55" opacity="0.8"/>
<line x1="72.45" y1="217.03" x2="72.45" y2="222.5" stroke="#d49c7c" stroke-width="0.55" opacity="0.8"/>
<line x1="73.02" y1="216.98" x2="73.02" y2="220.45" stroke="#d49c7c" stroke-width="0.55" opacity="0.8"/>
<line x1="73.58" y1="217.29" x2="73.58" y2="222.84" stroke="#d49c7c" stroke-width="0.55" opacity="0.8"/>
<line x1="74.15" y1="216.92" x2="74.15" y2="220.61" stroke="#d49c7c" stroke-width="0.55" opacity="0.8"/>
<line x1="74.72" y1="217.3" x2="74.72" y2="220.62" stroke="#d49c7c" stroke-width="0.55" opacity="0.8"/>
<line x1="75.29" y1="216.98" x2="75.29" y2="222.3" stroke="#d49c7c" stroke-width="0.55" opacity="0.8"/>
<line x1="75.86" y1="217.54" x2="75.86" y2="220.63" stroke="#d49c7c" stroke-width="0.55" opacity="0.8"/>
<line x1="76.43" y1="217.55" x2="76.43" y2="222.86" stroke="#d49c7c" stroke-width="0.55" opacity="0.8"/>
<line x1="77" y1="217.32" x2="77" y2="220.96" stroke="#d49c7c" stroke-width="0.55" opacity="0.8"/>
<line x1="77.57" y1="217.27" x2="77.57" y2="221.07" stroke="#d49c7c" stroke-width="0.55" opacity="0.8"/>
<line x1="78.14" y1="217.34" x2="78.14" y2="221.83" stroke="#d49c7c" stroke-width="0.55" opacity="0.8"/>
<line x1="78.7" y1="217.42" x2="78.7" y2="223.2" stroke="#d49c7c" stroke-width="0.55" opacity="0.8"/>
<line x1="79.27" y1="217.13" x2="79.27" y2="221.1" stroke="#d49c7c" stroke-width="0.55" opacity="0.8"/>
<line x1="79.84" y1="217.29" x2="79.84" y2="222.31" stroke="#d49c7c" stroke-width="0.55" opacity="0.8"/>
<line x1="80.41" y1="217.08" x2="80.41" y2="220.49" stroke="#d49c7c" stroke-width="0.55" opacity="0.8"/>
<line x1="80.98" y1="217.07" x2="80.98" y2="222.68" stroke="#d49c7c" stroke-width="0.55" opacity="0.8"/>
<line x1="81.55" y1="217.47" x2="81.55" y2="220.56" stroke="#d49c7c" stroke-width="0.55" opacity="0.8"/>
<line x1="82.12" y1="217.34" x2="82.12" y2="222.65" stroke="#d49c7c" stroke-width="0.55" opacity="0.8"/>
<line x1="82.69" y1="217.48" x2="82.69" y2="220.54" stroke="#d49c7c" stroke-width="0.55" opacity="0.8"/>
<line x1="83.26" y1="216.95" x2="83.26" y2="220.91" stroke="#d49c7c" stroke-width="0.55" opacity="0.8"/>
<line x1="83.83" y1="217.25" x2="83.83" y2="221.48" stroke="#d49c7c" stroke-width="0.55" opacity="0.8"/>
<line x1="84.39" y1="217.42" x2="84.39" y2="221.7" stroke="#d49c7c" stroke-width="0.55" opacity="0.8"/>
<line x1="84.96" y1="217.57" x2="84.96" y2="221.9" stroke="#d49c7c" stroke-width="0.55" opacity="0.8"/>
<line x1="85.53" y1="216.87" x2="85.53" y2="220.15" stroke="#d49c7c" stroke-width="0.55" opacity="0.8"/>
<line x1="86.1" y1="217.35" x2="86.1" y2="222.21" stroke="#d49c7c" stroke-width="0.55" opacity="0.8"/>
<line x1="86.67" y1="217.36" x2="86.67" y2="222.69" stroke="#d49c7c" stroke-width="0.55" opacity="0.8"/>
<line x1="87.24" y1="216.91" x2="87.24" y2="220.77" stroke="#d49c7c" stroke-width="0.55" opacity="0.8"/>
<line x1="87.81" y1="216.91" x2="87.81" y2="220.65" stroke="#d49c7c" stroke-width="0.55" opacity="0.8"/>
<line x1="88.38" y1="216.99" x2="88.38" y2="220.13" stroke="#d49c7c" stroke-width="0.55" opacity="0.8"/>
<line x1="88.95" y1="217.14" x2="88.95" y2="220.74" stroke="#d49c7c" stroke-width="0.55" opacity="0.8"/>
<line x1="89.52" y1="216.92" x2="89.52" y2="220.92" stroke="#d49c7c" stroke-width="0.55" opacity="0.8"/>
<line x1="90.09" y1="217.12" x2="90.09" y2="222.69" stroke="#d49c7c" stroke-width="0.55" opacity="0.8"/>
<line x1="90.65" y1="216.81" x2="90.65" y2="221.2" stroke="#d49c7c" stroke-width="0.55" opacity="0.8"/>
<line x1="91.22" y1="217.52" x2="91.22" y2="221.35" stroke="#d49c7c" stroke-width="0.55" opacity="0.8"/>
<line x1="91.79" y1="217.05" x2="91.79" y2="220.18" stroke="#d49c7c" stroke-width="0.55" opacity="0.8"/>
<line x1="92.36" y1="217.16" x2="92.36" y2="220.32" stroke="#d49c7c" stroke-width="0.55" opacity="0.8"/>
<line x1="92.93" y1="217.25" x2="92.93" y2="222.18" stroke="#d49c7c" stroke-width="0.55" opacity="0.8"/>
<line x1="93.5" y1="217.58" x2="93.5" y2="222.82" stroke="#d49c7c" stroke-width="0.55" opacity="0.8"/>
<line x1="94.07" y1="217.07" x2="94.07" y2="220.29" stroke="#d49c7c" stroke-width="0.55" opacity="0.8"/>
<line x1="94.64" y1="217.32" x2="94.64" y2="220.54" stroke="#d49c7c" stroke-width="0.55" opacity="0.8"/>
<line x1="95.21" y1="217.43" x2="95.21" y2="221.93" stroke="#d49c7c" stroke-width="0.55" opacity="0.8"/>
<line x1="95.78" y1="216.87" x2="95.78" y2="222.51" stroke="#d49c7c" stroke-width="0.55" opacity="0.8"/>
<line x1="96.34" y1="217.38" x2="96.34" y2="220.72" stroke="#d49c7c" stroke-width="0.55" opacity="0.8"/>
<line x1="96.91" y1="216.86" x2="96.91" y2="220.03" stroke="#d49c7c" stroke-width="0.55" opacity="0.8"/>
<line x1="97.48" y1="217.12" x2="97.48" y2="221.95" stroke="#d49c7c" stroke-width="0.55" opacity="0.8"/>
<line x1="98.05" y1="217.57" x2="98.05" y2="223.16" stroke="#d49c7c" stroke-width="0.55" opacity="0.8"/>
<line x1="98.62" y1="217.35" x2="98.62" y2="222.75" stroke="#d49c7c" stroke-width="0.55" opacity="0.8"/>
<line x1="99.19" y1="217.05" x2="99.19" y2="220.42" stroke="#d49c7c" stroke-width="0.55" opacity="0.8"/>
<line x1="99.76" y1="217.32" x2="99.76" y2="221.63" stroke="#d49c7c" stroke-width="0.55" opacity="0.8"/>
<line x1="100.33" y1="216.91" x2="100.33" y2="220.92" stroke="#d49c7c" stroke-width="0.55" opacity="0.8"/>
<line x1="100.9" y1="217" x2="100.9" y2="221.35" stroke="#d49c7c" stroke-width="0.55" opacity="0.8"/>
<line x1="101.47" y1="217.44" x2="101.47" y2="221.1" stroke="#d49c7c" stroke-width="0.55" opacity="0.8"/>
<line x1="102.03" y1="217.12" x2="102.03" y2="221.6" stroke="#d49c7c" stroke-width="0.55" opacity="0.8"/>
<line x1="102.6" y1="217.14" x2="102.6" y2="221.1" stroke="#d49c7c" stroke-width="0.55" opacity="0.8"/>
<line x1="103.17" y1="217.28" x2="103.17" y2="220.16" stroke="#d49c7c" stroke-width="0.55" opacity="0.8"/>
<line x1="103.74" y1="216.98" x2="103.74" y2="222.56" stroke="#d49c7c" stroke-width="0.55" opacity="0.8"/>
<line x1="104.31" y1="217.12" x2="104.31" y2="220.94" stroke="#d49c7c" stroke-width="0.55" opacity="0.8"/>
<line x1="104.88" y1="217.18" x2="104.88" y2="221.96" stroke="#d49c7c" stroke-width="0.55" opacity="0.8"/>
<line x1="105.45" y1="216.83" x2="105.45" y2="220.92" stroke="#d49c7c" stroke-width="0.55" opacity="0.8"/>
<line x1="106.02" y1="217.21" x2="106.02" y2="221.27" stroke="#d49c7c" stroke-width="0.55" opacity="0.8"/>
<line x1="106.59" y1="216.84" x2="106.59" y2="220.98" stroke="#d49c7c" stroke-width="0.55" opacity="0.8"/>
<line x1="107.16" y1="216.85" x2="107.16" y2="223.3" stroke="#d49c7c" stroke-width="0.55" opacity="0.8"/>
<line x1="107.72" y1="216.94" x2="107.72" y2="220.42" stroke="#d49c7c" stroke-width="0.55" opacity="0.8"/>
<line x1="108.29" y1="216.8" x2="108.29" y2="220.74" stroke="#d49c7c" stroke-width="0.55" opacity="0.8"/>
<line x1="108.86" y1="217.25" x2="108.86" y2="222.35" stroke="#d49c7c" stroke-width="0.55" opacity="0.8"/>
<line x1="109.43" y1="217.21" x2="109.43" y2="222.33" stroke="#d49c7c" stroke-width="0.55" opacity="0.8"/>
<line x1="110" y1="217.3" x2="110" y2="222.02" stroke="#d49c7c" stroke-width="0.55" opacity="0.8"/>
<line x1="110.57" y1="217.29" x2="110.57" y2="222.96" stroke="#d49c7c" stroke-width="0.55" opacity="0.8"/>
<line x1="111.14" y1="217.38" x2="111.14" y2="222.61" stroke="#d49c7c" stroke-width="0.55" opacity="0.8"/>
<line x1="111.71" y1="217.25" x2="111.71" y2="221.95" stroke="#d49c7c" stroke-width="0.55" opacity="0.8"/>
<line x1="112.28" y1="217.33" x2="112.28" y2="223.09" stroke="#d49c7c" stroke-width="0.55" opacity="0.8"/>
<line x1="112.84" y1="217.22" x2="112.84" y2="220.93" stroke="#d49c7c" stroke-width="0.55" opacity="0.8"/>
<line x1="113.41" y1="216.98" x2="113.41" y2="220.76" stroke="#d49c7c" stroke-width="0.55" opacity="0.8"/>
<line x1="113.98" y1="216.92" x2="113.98" y2="220.61" stroke="#d49c7c" stroke-width="0.55" opacity="0.8"/>
<line x1="114.55" y1="217.55" x2="114.55" y2="221.65" stroke="#d49c7c" stroke-width="0.55" opacity="0.8"/>
<line x1="115.12" y1="217.15" x2="115.12" y2="221.62" stroke="#d49c7c" stroke-width="0.55" opacity="0.8"/>
<line x1="115.69" y1="217.57" x2="115.69" y2="222.82" stroke="#d49c7c" stroke-width="0.55" opacity="0.8"/>
<line x1="116.26" y1="216.98" x2="116.26" y2="220.71" stroke="#d49c7c" stroke-width="0.55" opacity="0.8"/>
<line x1="116.83" y1="216.95" x2="116.83" y2="220.78" stroke="#d49c7c" stroke-width="0.55" opacity="0.8"/>
<line x1="117.4" y1="216.98" x2="117.4" y2="222.34" stroke="#d49c7c" stroke-width="0.55" opacity="0.8"/>
<line x1="117.97" y1="217.36" x2="117.97" y2="221" stroke="#d49c7c" stroke-width="0.55" opacity="0.8"/>
<line x1="118.53" y1="217.25" x2="118.53" y2="220.75" stroke="#d49c7c" stroke-width="0.55" opacity="0.8"/>
<line x1="119.1" y1="217.44" x2="119.1" y2="222.26" stroke="#d49c7c" stroke-width="0.55" opacity="0.8"/>
<line x1="119.67" y1="217.21" x2="119.67" y2="221.04" stroke="#d49c7c" stroke-width="0.55" opacity="0.8"/>
<line x1="120.24" y1="217.3" x2="120.24" y2="220.57" stroke="#d49c7c" stroke-width="0.55" opacity="0.8"/>
<line x1="120.81" y1="217.17" x2="120.81" y2="220.6" stroke="#d49c7c" stroke-width="0.55" opacity="0.8"/>
<line x1="121.38" y1="217.57" x2="121.38" y2="222.19" stroke="#d49c7c" stroke-width="0.55" opacity="0.8"/>
<line x1="121.95" y1="216.87" x2="121.95" y2="222.52" stroke="#d49c7c" stroke-width="0.55" opacity="0.8"/>
<line x1="122.52" y1="217.12" x2="122.52" y2="221.2" stroke="#d49c7c" stroke-width="0.55" opacity="0.8"/>
<line x1="123.09" y1="217.36" x2="123.09" y2="220.51" stroke="#d49c7c" stroke-width="0.55" opacity="0.8"/>
<line x1="123.66" y1="216.9" x2="123.66" y2="223.19" stroke="#d49c7c" stroke-width="0.55" opacity="0.8"/>
<line x1="124.22" y1="216.87" x2="124.22" y2="220.22" stroke="#d49c7c" stroke-width="0.55" opacity="0.8"/>
<line x1="124.79" y1="216.89" x2="124.79" y2="220.39" stroke="#d49c7c" stroke-width="0.55" opacity="0.8"/>
<line x1="125.36" y1="217.09" x2="125.36" y2="220.88" stroke="#d49c7c" stroke-width="0.55" opacity="0.8"/>
<line x1="125.93" y1="217.39" x2="125.93" y2="221.69" stroke="#d49c7c" stroke-width="0.55" opacity="0.8"/>
<line x1="126.5" y1="216.99" x2="126.5" y2="222.31" stroke="#d49c7c" stroke-width="0.55" opacity="0.8"/>
<line x1="127.07" y1="217.09" x2="127.07" y2="222.98" stroke="#d49c7c" stroke-width="0.55" opacity="0.8"/>
<line x1="127.64" y1="217.08" x2="127.64" y2="221.85" stroke="#d49c7c" stroke-width="0.55" opacity="0.8"/>
<line x1="128.21" y1="217.28" x2="128.21" y2="223.19" stroke="#d49c7c" stroke-width="0.55" opacity="0.8"/>
<line x1="128.78" y1="216.99" x2="128.78" y2="222.7" stroke="#d49c7c" stroke-width="0.55" opacity="0.8"/>
<line x1="129.35" y1="216.82" x2="129.35" y2="220.48" stroke="#d49c7c" stroke-width="0.55" opacity="0.8"/>
<line x1="129.91" y1="217.43" x2="129.91" y2="221.27" stroke="#d49c7c" stroke-width="0.55" opacity="0.8"/>
<line x1="130.48" y1="217.01" x2="130.48" y2="223.24" stroke="#d49c7c" stroke-width="0.55" opacity="0.8"/>
<line x1="131.05" y1="217.5" x2="131.05" y2="220.92" stroke="#d49c7c" stroke-width="0.55" opacity="0.8"/>
<line x1="131.62" y1="217.27" x2="131.62" y2="223.39" stroke="#d49c7c" stroke-width="0.55" opacity="0.8"/>
<polyline points="53.67,219.34 54.81,218.89 55.95,219.05 57.08,218.67 58.22,219.55 59.36,219.09 60.5,219.09 61.64,218.68 62.77,219.4 63.91,218.72 65.05,219.21 66.19,219.23 67.33,219.19 68.46,219.41 69.6,219.52 70.74,219.27 71.88,219.05 73.02,218.86 74.15,219.51 75.29,219.12 76.43,218.97 77.57,219.13 78.7,218.93 79.84,218.77 80.98,219.21 82.12,218.84 83.26,219.39 84.39,219.3 85.53,218.95 86.67,219.07 87.81,219.49 88.95,218.93 90.09,218.95 91.22,219.09 92.36,218.85 93.5,218.87 94.64,219.44 95.78,219.2 96.91,219.22 98.05,219.3 99.19,218.78 100.33,219 101.47,218.71 102.6,219.54 103.74,218.97 104.88,219.17 106.02,219.18 107.16,218.78 108.29,219.28 109.43,219.47 110.57,219.46 111.71,218.74 112.84,218.83 113.98,219.03 115.12,219.16 116.26,218.74 117.4,219.36 118.53,219.36 119.67,218.86 120.81,219.37 121.95,218.78 123.09,218.71 124.22,219.52 125.36,218.96 126.5,218.98 127.64,219.42 128.78,218.87 129.91,219.44 131.05,219.29" fill="none" stroke="#f2956a" stroke-width="0.9" opacity="0.8"/>
<circle cx="53.67" cy="166.19" r="0.95" fill="#fc8d62" opacity="0.72"/>
<circle cx="54.24" cy="166.63" r="0.95" fill="#fc8d62" opacity="0.72"/>
<circle cx="54.81" cy="166.31" r="0.95" fill="#fc8d62" opacity="0.72"/>
<circle cx="55.38" cy="173.29" r="0.95" fill="#fc8d62" opacity="0.72"/>
<circle cx="55.95" cy="166.58" r="0.95" fill="#fc8d62" opacity="0.72"/>
<circle cx="56.51" cy="169.8" r="0.95" fill="#fc8d62" opacity="0.72"/>
<circle cx="57.08" cy="170.51" r="0.95" fill="#fc8d62" opacity="0.72"/>
<circle cx="57.65" cy="173.36" r="0.95" fill="#fc8d62" opacity="0.72"/>
<circle cx="58.22" cy="173.37" r="0.95" fill="#fc8d62" opacity="0.72"/>
<circle cx="58.79" cy="173.91" r="0.95" fill="#fc8d62" opacity="0.72"/>
<circle cx="59.36" cy="173.22" r="0.95" fill="#fc8d62" opacity="0.72"/>
<circle cx="59.93" cy="178.21" r="0.95" fill="#fc8d62" opacity="0.72"/>
<circle cx="60.5" cy="171.73" r="0.95" fill="#fc8d62" opacity="0.72"/>
<circle cx="61.07" cy="172.99" r="0.95" fill="#fc8d62" opacity="0.72"/>
<circle cx="61.64" cy="173.78" r="0.95" fill="#fc8d62" opacity="0.72"/>
<circle cx="62.2" cy="177.67" r="0.95" fill="#fc8d62" opacity="0.72"/>
<circle cx="62.77" cy="174.49" r="0.95" fill="#fc8d62" opacity="0.72"/>
<circle cx="63.34" cy="176.11" r="0.95" fill="#fc8d62" opacity="0.72"/>
<circle cx="63.91" cy="174.03" r="0.95" fill="#fc8d62" opacity="0.72"/>
<circle cx="64.48" cy="172.59" r="0.95" fill="#fc8d62" opacity="0.72"/>
<circle cx="65.05" cy="174.94" r="0.95" fill="#fc8d62" opacity="0.72"/>
<circle cx="65.62" cy="176.67" r="0.95" fill="#fc8d62" opacity="0.72"/>
<circle cx="66.19" cy="176.36" r="0.95" fill="#fc8d62" opacity="0.72"/>
<circle cx="66.76" cy="176.04" r="0.95" fill="#fc8d62" opacity="0.72"/>
<circle cx="67.33" cy="178.91" r="0.95" fill="#fc8d62" opacity="0.72"/>
<circle cx="67.89" cy="177.86" r="0.95" fill="#fc8d62" opacity="0.72"/>
<circle cx="68.46" cy="177.47" r="0.95" fill="#fc8d62" opacity="0.72"/>
<circle cx="69.03" cy="178.32" r="0.95" fill="#fc8d62" opacity="0.72"/>
<circle cx="69.6" cy="175.23" r="0.95" fill="#fc8d62" opacity="0.72"/>
<circle cx="70.17" cy="177.34" r="0.95" fill="#fc8d62" opacity="0.72"/>
<circle cx="70.74" cy="180.58" r="0.95" fill="#fc8d62" opacity="0.72"/>
<circle cx="71.31" cy="179.72" r="0.95" fill="#fc8d62" opacity="0.72"/>
<circle cx="71.88" cy="178.55" r="0.95" fill="#fc8d62" opacity="0.72"/>
<circle cx="72.45" cy="175.85" r="0.95" fill="#fc8d62" opacity="0.72"/>
<circle cx="73.02" cy="178.86" r="0.95" fill="#fc8d62" opacity="0.72"/>
<circle cx="73.58" cy="181.04" r="0.95" fill="#fc8d62" opacity="0.72"/>
<circle cx="74.15" cy="176.45" r="0.95" fill="#fc8d62" opacity="0.72"/>
<circle cx="74.72" cy="180.12" r="0.95" fill="#fc8d62" opacity="0.72"/>
<circle cx="75.29" cy="173.82" r="0.95" fill="#fc8d62" opacity="0.72"/>
<circle cx="75.86" cy="175.43" r="0.95" fill="#fc8d62" opacity="0.72"/>
<circle cx="76.43" cy="178.8" r="0.95" fill="#fc8d62" opacity="0.72"/>
<circle cx="77" cy="178.55" r="0.95" fill="#fc8d62" opacity="0.72"/>
<circle cx="77.57" cy="180.65" r="0.95" fill="#fc8d62" opacity="0.72"/>
<circle cx="78.14" cy="179.3" r="0.95" fill="#fc8d62" opacity="0.72"/>
<circle cx="78.7" cy="176.85" r="0.95" fill="#fc8d62" opacity="0.72"/>
<circle cx="79.27" cy="179.93" r="0.95" fill="#fc8d62" opacity="0.72"/>
<circle cx="79.84" cy="179.17" r="0.95" fill="#fc8d62" opacity="0.72"/>
<circle cx="80.41" cy="183.33" r="0.95" fill="#fc8d62" opacity="0.72"/>
<circle cx="80.98" cy="183.59" r="0.95" fill="#fc8d62" opacity="0.72"/>
<circle cx="81.55" cy="181" r="0.95" fill="#fc8d62" opacity="0.72"/>
<circle cx="82.12" cy="182.32" r="0.95" fill="#fc8d62" opacity="0.72"/>
<circle cx="82.69" cy="179.69" r="0.95" fill="#fc8d62" opacity="0.72"/>
<circle cx="83.26" cy="180.49" r="0.95" fill="#fc8d62" opacity="0.72"/>
<circle cx="83.83" cy="180.13" r="0.95" fill="#fc8d62" opacity="0.72"/>
<circle cx="84.39" cy="180.79" r="0.95" fill="#fc8d62" opacity="0.72"/>
<circle cx="84.96" cy="184.28" r="0.95" fill="#fc8d62" opacity="0.72"/>
<circle cx="85.53" cy="181.88" r="0.95" fill="#fc8d62" opacity="0.72"/>
<circle cx="86.1" cy="182.59" r="0.95" fill="#fc8d62" opacity="0.72"/>
<circle cx="86.67" cy="174.16" r="0.95" fill="#fc8d62" opacity="0.72"/>
<circle cx="87.24" cy="183.34" r="0.95" fill="#fc8d62" opacity="0.72"/>
<circle cx="87.81" cy="182.69" r="0.95" fill="#fc8d62" opacity="0.72"/>
<circle cx="88.38" cy="185.8" r="0.95" fill="#fc8d62" opacity="0.72"/>
<circle cx="88.95" cy="184.75" r="0.95" fill="#fc8d62" opacity="0.72"/>
<circle cx="89.52" cy="185.9" r="0.95" fill="#fc8d62" opacity="0.72"/>
<circle cx="90.09" cy="183.83" r="0.95" fill="#fc8d62" opacity="0.72"/>
<circle cx="90.65" cy="184.46" r="0.95" fill="#fc8d62" opacity="0.72"/>
<circle cx="91.22" cy="180.81" r="0.95" fill="#fc8d62" opacity="0.72"/>
<circle cx="91.79" cy="185.62" r="0.95" fill="#fc8d62" opacity="0.72"/>
<circle cx="92.36" cy="190.73" r="0.95" fill="#fc8d62" opacity="0.72"/>
<circle cx="92.93" cy="184.56" r="0.95" fill="#fc8d62" opacity="0.72"/>
<circle cx="93.5" cy="185.24" r="0.95" fill="#fc8d62" opacity="0.72"/>
<circle cx="94.07" cy="187.37" r="0.95" fill="#fc8d62" opacity="0.72"/>
<circle cx="94.64" cy="186.64" r="0.95" fill="#fc8d62" opacity="0.72"/>
<circle cx="95.21" cy="186.81" r="0.95" fill="#fc8d62" opacity="0.72"/>
<circle cx="95.78" cy="186.56" r="0.95" fill="#fc8d62" opacity="0.72"/>
<circle cx="96.34" cy="186.07" r="0.95" fill="#fc8d62" opacity="0.72"/>
<circle cx="96.91" cy="189.46" r="0.95" fill="#fc8d62" opacity="0.72"/>
<circle cx="97.48" cy="187.18" r="0.95" fill="#fc8d62" opacity="0.72"/>
<circle cx="98.05" cy="188.85" r="0.95" fill="#fc8d62" opacity="0.72"/>
<circle cx="98.62" cy="188.82" r="0.95" fill="#fc8d62" opacity="0.72"/>
<circle cx="99.19" cy="187.99" r="0.95" fill="#fc8d62" opacity="0.72"/>
<circle cx="99.76" cy="190.64" r="0.95" fill="#fc8d62" opacity="0.72"/>
<circle cx="100.33" cy="191.2" r="0.95" fill="#fc8d62" opacity="0.72"/>
<circle cx="100.9" cy="183.46" r="0.95" fill="#fc8d62" opacity="0.72"/>
<circle cx="101.47" cy="198.89" r="0.95" fill="#fc8d62" opacity="0.72"/>
<circle cx="102.03" cy="188.85" r="0.95" fill="#fc8d62" opacity="0.72"/>
<circle cx="102.6" cy="190.79" r="0.95" fill="#fc8d62" opacity="0.72"/>
<circle cx="103.17" cy="191" r="0.95" fill="#fc8d62" opacity="0.72"/>
<circle cx="103.74" cy="190.07" r="0.95" fill="#fc8d62" opacity="0.72"/>
<circle cx="104.31" cy="184.55" r="0.95" fill="#fc8d62" opacity="0.72"/>
<circle cx="104.88" cy="194.07" r="0.95" fill="#fc8d62" opacity="0.72"/>
<circle cx="105.45" cy="193.31" r="0.95" fill="#fc8d62" opacity="0.72"/>
<circle cx="106.02" cy="191.04" r="0.95" fill="#fc8d62" opacity="0.72"/>
<circle cx="106.59" cy="194.07" r="0.95" fill="#fc8d62" opacity="0.72"/>
<circle cx="107.16" cy="200.2" r="0.95" fill="#fc8d62" opacity="0.72"/>
<circle cx="107.72" cy="196.49" r="0.95" fill="#fc8d62" opacity="0.72"/>
<circle cx="108.29" cy="194.17" r="0.95" fill="#fc8d62" opacity="0.72"/>
<circle cx="108.86" cy="193.04" r="0.95" fill="#fc8d62" opacity="0.72"/>
<circle cx="109.43" cy="191.94" r="0.95" fill="#fc8d62" opacity="0.72"/>
<circle cx="110" cy="196.64" r="0.95" fill="#fc8d62" opacity="0.72"/>
<circle cx="110.57" cy="192.07" r="0.95" fill="#fc8d62" opacity="0.72"/>
<circle cx="111.14" cy="196.12" r="0.95" fill="#fc8d62" opacity="0.72"/>
<circle cx="111.71" cy="192.96" r="0.95" fill="#fc8d62" opacity="0.72"/>
<circle cx="112.28" cy="198.8" r="0.95" fill="#fc8d62" opacity="0.72"/>
<circle cx="112.84" cy="195.42" r="0.95" fill="#fc8d62" opacity="0.72"/>
<circle cx="113.41" cy="195.72" r="0.95" fill="#fc8d62" opacity="0.72"/>
<circle cx="113.98" cy="193.65" r="0.95" fill="#fc8d62" opacity="0.72"/>
<circle cx="114.55" cy="195.25" r="0.95" fill="#fc8d62" opacity="0.72"/>
<circle cx="115.12" cy="197.44" r="0.95" fill="#fc8d62" opacity="0.72"/>
<circle cx="115.69" cy="196.87" r="0.95" fill="#fc8d62" opacity="0.72"/>
<circle cx="116.26" cy="191.25" r="0.95" fill="#fc8d62" opacity="0.72"/>
<circle cx="116.83" cy="198.85" r="0.95" fill="#fc8d62" opacity="0.72"/>
<circle cx="117.4" cy="201.39" r="0.95" fill="#fc8d62" opacity="0.72"/>
<circle cx="117.97" cy="201.97" r="0.95" fill="#fc8d62" opacity="0.72"/>
<circle cx="118.53" cy="200.12" r="0.95" fill="#fc8d62" opacity="0.72"/>
<circle cx="119.1" cy="195.06" r="0.95" fill="#fc8d62" opacity="0.72"/>
<circle cx="119.67" cy="205.23" r="0.95" fill="#fc8d62" opacity="0.72"/>
<circle cx="120.24" cy="201.14" r="0.95" fill="#fc8d62" opacity="0.72"/>
<circle cx="120.81" cy="203.17" r="0.95" fill="#fc8d62" opacity="0.72"/>
<circle cx="121.38" cy="204.42" r="0.95" fill="#fc8d62" opacity="0.72"/>
<circle cx="121.95" cy="201.71" r="0.95" fill="#fc8d62" opacity="0.72"/>
<circle cx="122.52" cy="204.11" r="0.95" fill="#fc8d62" opacity="0.72"/>
<circle cx="123.09" cy="207.68" r="0.95" fill="#fc8d62" opacity="0.72"/>
<circle cx="123.66" cy="205.55" r="0.95" fill="#fc8d62" opacity="0.72"/>
<circle cx="124.22" cy="203.15" r="0.95" fill="#fc8d62" opacity="0.72"/>
<circle cx="124.79" cy="212.49" r="0.95" fill="#fc8d62" opacity="0.72"/>
<circle cx="125.36" cy="206.18" r="0.95" fill="#fc8d62" opacity="0.72"/>
<circle cx="125.93" cy="209.48" r="0.95" fill="#fc8d62" opacity="0.72"/>
<circle cx="126.5" cy="208.02" r="0.95" fill="#fc8d62" opacity="0.72"/>
<circle cx="127.07" cy="213.52" r="0.95" fill="#fc8d62" opacity="0.72"/>
<circle cx="127.64" cy="215.56" r="0.95" fill="#fc8d62" opacity="0.72"/>
<circle cx="128.21" cy="212.48" r="0.95" fill="#fc8d62" opacity="0.72"/>
<circle cx="128.78" cy="211.48" r="0.95" fill="#fc8d62" opacity="0.72"/>
<circle cx="129.35" cy="214.65" r="0.95" fill="#fc8d62" opacity="0.72"/>
<circle cx="129.91" cy="219.36" r="0.95" fill="#fc8d62" opacity="0.72"/>
<circle cx="130.48" cy="226.37" r="0.95" fill="#fc8d62" opacity="0.72"/>
<circle cx="131.05" cy="225.54" r="0.95" fill="#fc8d62" opacity="0.72"/>
<circle cx="131.62" cy="228.37" r="0.95" fill="#fc8d62" opacity="0.72"/>
<polyline points="52.8,163.1 53.67,167.57 54.24,168.24 54.81,169.71 55.38,170.58 55.95,171.25 56.51,171.92 57.08,171.9 57.65,172.36 58.22,173 58.79,173.52 59.36,173.56 59.93,173.5 60.5,173.75 61.07,174.04 61.64,174.93 62.2,174.52 62.77,175.25 63.34,174.89 63.91,175.15 64.48,175.47 65.05,176.25 65.62,175.87 66.19,176.23 66.76,176.32 67.33,176.56 67.89,177.21 68.46,176.94 69.03,177.25 69.6,177.14 70.17,177.48 70.74,177.91 71.31,178.5 71.88,178.79 72.45,178.09 73.02,178.57 73.58,178.29 74.15,178.92 74.72,179.22 75.29,179.57 75.86,179.71 76.43,179.44 77,179.55 77.57,179.65 78.14,180.73 78.7,180.05 79.27,180.88 79.84,180.85 80.41,181.22 80.98,180.64 81.55,181.42 82.12,181.6 82.69,181.68 83.26,182.02 83.83,181.75 84.39,182.72 84.96,182.17 85.53,182.65 86.1,183.16 86.67,183.26 87.24,183.77 87.81,183.5 88.38,183.39 88.95,184.03 89.52,184.36 90.09,184.02 90.65,185.06 91.22,185.45 91.79,185.13 92.36,185.93 92.93,185.97 93.5,186.53 94.07,186.37 94.64,187.06 95.21,187.29 95.78,187.39 96.34,187.55 96.91,187.87 97.48,188.4 98.05,188.9 98.62,188.71 99.19,189.28 99.76,189.33 100.33,190.14 100.9,190.21 101.47,190.35 102.03,190.51 102.6,190.49 103.17,190.44 103.74,191.43 104.31,191.23 104.88,191.52 105.45,192.29 106.02,192.33 106.59,192.19 107.16,193.12 107.72,192.95 108.29,193.6 108.86,193.24 109.43,193.4 110,193.92 110.57,194.65 111.14,194.12 111.71,194.71 112.28,195.63 112.84,196.4 113.41,195.89 113.98,195.99 114.55,196.45 115.12,196.66 115.69,197.75 116.26,198.1 116.83,198.2 117.4,199.3 117.97,198.99 118.53,200.23 119.1,200.81 119.67,201.3 120.24,201.66 120.81,202.33 121.38,202.52 121.95,203.78 122.52,203.93 123.09,204.96 123.66,205.61 124.22,205.72 124.79,206.14 125.36,207.08 125.93,207.83 126.5,207.94 127.07,209.27 127.64,209.93 128.21,211.62 128.78,212.24 129.35,214.09 129.91,217.92 130.48,225.51 130.8,229.6" fill="none" stroke="#66c2a5" stroke-width="1.45" stroke-linejoin="round" stroke-linecap="round" opacity="0.9"/>
<circle cx="130.6" cy="228.4" r="1.0" fill="#66c2a5"/>
<circle cx="130.8" cy="230.4" r="0.9" fill="#fc8d62" opacity="0.8"/>
<line x1="52.9" y1="185.8" x2="62.4" y2="185.8" stroke="#66c2a5" stroke-width="1.2" opacity="0.85"/>
<path d="M60.7,183.6 L63.9,185.8 L60.7,188 Z" fill="#66c2a5" stroke="#66c2a5" stroke-width="0.5" opacity="0.9"/>
<line x1="55.6" y1="186.1" x2="65.2" y2="186.1" stroke="#fc8d62" stroke-width="1.6" opacity="0.85"/>
<path d="M63.5,183.9 L66.7,186.1 L63.5,188.3 Z" fill="#fc8d62" stroke="#fc8d62" stroke-width="0.5" opacity="0.9"/>
<text x="62.25" y="155.2" font-size="8.1" text-anchor="start" fill="#111" stroke="#111" stroke-width="0.12" >n = 138</text>
<rect x="179.37" y="217" width="61.48" height="3.8" fill="#e9c0a5" stroke="none" stroke-width="1.3" />
<line x1="179.77" y1="216.98" x2="179.77" y2="222.98" stroke="#d49c7c" stroke-width="0.55" opacity="0.8"/>
<line x1="180.34" y1="216.88" x2="180.34" y2="222.83" stroke="#d49c7c" stroke-width="0.55" opacity="0.8"/>
<line x1="180.91" y1="217.25" x2="180.91" y2="222.67" stroke="#d49c7c" stroke-width="0.55" opacity="0.8"/>
<line x1="181.48" y1="217.37" x2="181.48" y2="221.23" stroke="#d49c7c" stroke-width="0.55" opacity="0.8"/>
<line x1="182.04" y1="217.35" x2="182.04" y2="222.44" stroke="#d49c7c" stroke-width="0.55" opacity="0.8"/>
<line x1="182.61" y1="217.6" x2="182.61" y2="220.96" stroke="#d49c7c" stroke-width="0.55" opacity="0.8"/>
<line x1="183.18" y1="216.92" x2="183.18" y2="222.29" stroke="#d49c7c" stroke-width="0.55" opacity="0.8"/>
<line x1="183.75" y1="216.8" x2="183.75" y2="220.3" stroke="#d49c7c" stroke-width="0.55" opacity="0.8"/>
<line x1="184.32" y1="217.01" x2="184.32" y2="221.69" stroke="#d49c7c" stroke-width="0.55" opacity="0.8"/>
<line x1="184.89" y1="217.49" x2="184.89" y2="220.56" stroke="#d49c7c" stroke-width="0.55" opacity="0.8"/>
<line x1="185.46" y1="217.14" x2="185.46" y2="221.8" stroke="#d49c7c" stroke-width="0.55" opacity="0.8"/>
<line x1="186.03" y1="217.49" x2="186.03" y2="220.94" stroke="#d49c7c" stroke-width="0.55" opacity="0.8"/>
<line x1="186.6" y1="217.01" x2="186.6" y2="221.22" stroke="#d49c7c" stroke-width="0.55" opacity="0.8"/>
<line x1="187.17" y1="217.23" x2="187.17" y2="222.17" stroke="#d49c7c" stroke-width="0.55" opacity="0.8"/>
<line x1="187.73" y1="217.19" x2="187.73" y2="220.4" stroke="#d49c7c" stroke-width="0.55" opacity="0.8"/>
<line x1="188.3" y1="217.44" x2="188.3" y2="223.21" stroke="#d49c7c" stroke-width="0.55" opacity="0.8"/>
<line x1="188.87" y1="217.24" x2="188.87" y2="221.82" stroke="#d49c7c" stroke-width="0.55" opacity="0.8"/>
<line x1="189.44" y1="217.23" x2="189.44" y2="222.4" stroke="#d49c7c" stroke-width="0.55" opacity="0.8"/>
<line x1="190.01" y1="217.06" x2="190.01" y2="222.93" stroke="#d49c7c" stroke-width="0.55" opacity="0.8"/>
<line x1="190.58" y1="217.03" x2="190.58" y2="220.88" stroke="#d49c7c" stroke-width="0.55" opacity="0.8"/>
<line x1="191.15" y1="217.27" x2="191.15" y2="223.25" stroke="#d49c7c" stroke-width="0.55" opacity="0.8"/>
<line x1="191.72" y1="217.16" x2="191.72" y2="220.06" stroke="#d49c7c" stroke-width="0.55" opacity="0.8"/>
<line x1="192.29" y1="217.15" x2="192.29" y2="220.05" stroke="#d49c7c" stroke-width="0.55" opacity="0.8"/>
<line x1="192.86" y1="217.49" x2="192.86" y2="222.47" stroke="#d49c7c" stroke-width="0.55" opacity="0.8"/>
<line x1="193.42" y1="216.94" x2="193.42" y2="220.62" stroke="#d49c7c" stroke-width="0.55" opacity="0.8"/>
<line x1="193.99" y1="217.44" x2="193.99" y2="222.65" stroke="#d49c7c" stroke-width="0.55" opacity="0.8"/>
<line x1="194.56" y1="217.34" x2="194.56" y2="221.59" stroke="#d49c7c" stroke-width="0.55" opacity="0.8"/>
<line x1="195.13" y1="217.47" x2="195.13" y2="223.21" stroke="#d49c7c" stroke-width="0.55" opacity="0.8"/>
<line x1="195.7" y1="216.97" x2="195.7" y2="221.32" stroke="#d49c7c" stroke-width="0.55" opacity="0.8"/>
<line x1="196.27" y1="217.43" x2="196.27" y2="220.46" stroke="#d49c7c" stroke-width="0.55" opacity="0.8"/>
<line x1="196.84" y1="217.33" x2="196.84" y2="223.18" stroke="#d49c7c" stroke-width="0.55" opacity="0.8"/>
<line x1="197.41" y1="217.35" x2="197.41" y2="221.23" stroke="#d49c7c" stroke-width="0.55" opacity="0.8"/>
<line x1="197.98" y1="217.36" x2="197.98" y2="223.02" stroke="#d49c7c" stroke-width="0.55" opacity="0.8"/>
<line x1="198.55" y1="217.03" x2="198.55" y2="222.44" stroke="#d49c7c" stroke-width="0.55" opacity="0.8"/>
<line x1="199.11" y1="217.05" x2="199.11" y2="220.17" stroke="#d49c7c" stroke-width="0.55" opacity="0.8"/>
<line x1="199.68" y1="217.53" x2="199.68" y2="223.04" stroke="#d49c7c" stroke-width="0.55" opacity="0.8"/>
<line x1="200.25" y1="216.92" x2="200.25" y2="221.08" stroke="#d49c7c" stroke-width="0.55" opacity="0.8"/>
<line x1="200.82" y1="217.11" x2="200.82" y2="221.97" stroke="#d49c7c" stroke-width="0.55" opacity="0.8"/>
<line x1="201.39" y1="217.31" x2="201.39" y2="222.36" stroke="#d49c7c" stroke-width="0.55" opacity="0.8"/>
<line x1="201.96" y1="216.87" x2="201.96" y2="222.77" stroke="#d49c7c" stroke-width="0.55" opacity="0.8"/>
<line x1="202.53" y1="217.14" x2="202.53" y2="220.13" stroke="#d49c7c" stroke-width="0.55" opacity="0.8"/>
<line x1="203.1" y1="217.46" x2="203.1" y2="223.22" stroke="#d49c7c" stroke-width="0.55" opacity="0.8"/>
<line x1="203.67" y1="217.6" x2="203.67" y2="220.58" stroke="#d49c7c" stroke-width="0.55" opacity="0.8"/>
<line x1="204.24" y1="217.03" x2="204.24" y2="222.83" stroke="#d49c7c" stroke-width="0.55" opacity="0.8"/>
<line x1="204.8" y1="217.2" x2="204.8" y2="220.1" stroke="#d49c7c" stroke-width="0.55" opacity="0.8"/>
<line x1="205.37" y1="217.19" x2="205.37" y2="220.66" stroke="#d49c7c" stroke-width="0.55" opacity="0.8"/>
<line x1="205.94" y1="217.23" x2="205.94" y2="221.42" stroke="#d49c7c" stroke-width="0.55" opacity="0.8"/>
<line x1="206.51" y1="217.02" x2="206.51" y2="220.93" stroke="#d49c7c" stroke-width="0.55" opacity="0.8"/>
<line x1="207.08" y1="216.98" x2="207.08" y2="220.04" stroke="#d49c7c" stroke-width="0.55" opacity="0.8"/>
<line x1="207.65" y1="217.28" x2="207.65" y2="220.38" stroke="#d49c7c" stroke-width="0.55" opacity="0.8"/>
<line x1="208.22" y1="217.56" x2="208.22" y2="220.06" stroke="#d49c7c" stroke-width="0.55" opacity="0.8"/>
<line x1="208.79" y1="217.07" x2="208.79" y2="221.67" stroke="#d49c7c" stroke-width="0.55" opacity="0.8"/>
<line x1="209.36" y1="217.39" x2="209.36" y2="222.91" stroke="#d49c7c" stroke-width="0.55" opacity="0.8"/>
<line x1="209.93" y1="217.04" x2="209.93" y2="222.39" stroke="#d49c7c" stroke-width="0.55" opacity="0.8"/>
<line x1="210.49" y1="216.88" x2="210.49" y2="220.87" stroke="#d49c7c" stroke-width="0.55" opacity="0.8"/>
<line x1="211.06" y1="217.28" x2="211.06" y2="221.18" stroke="#d49c7c" stroke-width="0.55" opacity="0.8"/>
<line x1="211.63" y1="217.21" x2="211.63" y2="222.59" stroke="#d49c7c" stroke-width="0.55" opacity="0.8"/>
<line x1="212.2" y1="216.91" x2="212.2" y2="220.39" stroke="#d49c7c" stroke-width="0.55" opacity="0.8"/>
<line x1="212.77" y1="217.1" x2="212.77" y2="220.18" stroke="#d49c7c" stroke-width="0.55" opacity="0.8"/>
<line x1="213.34" y1="216.94" x2="213.34" y2="220.36" stroke="#d49c7c" stroke-width="0.55" opacity="0.8"/>
<line x1="213.91" y1="217.47" x2="213.91" y2="220.53" stroke="#d49c7c" stroke-width="0.55" opacity="0.8"/>
<line x1="214.48" y1="216.92" x2="214.48" y2="223.12" stroke="#d49c7c" stroke-width="0.55" opacity="0.8"/>
<line x1="215.05" y1="216.89" x2="215.05" y2="222.33" stroke="#d49c7c" stroke-width="0.55" opacity="0.8"/>
<line x1="215.62" y1="216.89" x2="215.62" y2="221.48" stroke="#d49c7c" stroke-width="0.55" opacity="0.8"/>
<line x1="216.19" y1="217.23" x2="216.19" y2="221.94" stroke="#d49c7c" stroke-width="0.55" opacity="0.8"/>
<line x1="216.75" y1="216.96" x2="216.75" y2="221.57" stroke="#d49c7c" stroke-width="0.55" opacity="0.8"/>
<line x1="217.32" y1="216.9" x2="217.32" y2="223.1" stroke="#d49c7c" stroke-width="0.55" opacity="0.8"/>
<line x1="217.89" y1="217.2" x2="217.89" y2="220.02" stroke="#d49c7c" stroke-width="0.55" opacity="0.8"/>
<line x1="218.46" y1="217.55" x2="218.46" y2="222.92" stroke="#d49c7c" stroke-width="0.55" opacity="0.8"/>
<line x1="219.03" y1="217.26" x2="219.03" y2="220.25" stroke="#d49c7c" stroke-width="0.55" opacity="0.8"/>
<line x1="219.6" y1="217.4" x2="219.6" y2="221.71" stroke="#d49c7c" stroke-width="0.55" opacity="0.8"/>
<line x1="220.17" y1="216.82" x2="220.17" y2="222.29" stroke="#d49c7c" stroke-width="0.55" opacity="0.8"/>
<line x1="220.74" y1="217.03" x2="220.74" y2="220.09" stroke="#d49c7c" stroke-width="0.55" opacity="0.8"/>
<line x1="221.31" y1="217.26" x2="221.31" y2="222.47" stroke="#d49c7c" stroke-width="0.55" opacity="0.8"/>
<line x1="221.88" y1="217.43" x2="221.88" y2="220.07" stroke="#d49c7c" stroke-width="0.55" opacity="0.8"/>
<line x1="222.44" y1="217" x2="222.44" y2="221.08" stroke="#d49c7c" stroke-width="0.55" opacity="0.8"/>
<line x1="223.01" y1="216.83" x2="223.01" y2="220.76" stroke="#d49c7c" stroke-width="0.55" opacity="0.8"/>
<line x1="223.58" y1="217.45" x2="223.58" y2="222.96" stroke="#d49c7c" stroke-width="0.55" opacity="0.8"/>
<line x1="224.15" y1="217.17" x2="224.15" y2="220.01" stroke="#d49c7c" stroke-width="0.55" opacity="0.8"/>
<line x1="224.72" y1="217.55" x2="224.72" y2="222.04" stroke="#d49c7c" stroke-width="0.55" opacity="0.8"/>
<line x1="225.29" y1="216.87" x2="225.29" y2="222.79" stroke="#d49c7c" stroke-width="0.55" opacity="0.8"/>
<line x1="225.86" y1="217.34" x2="225.86" y2="221.89" stroke="#d49c7c" stroke-width="0.55" opacity="0.8"/>
<line x1="226.43" y1="216.91" x2="226.43" y2="221.61" stroke="#d49c7c" stroke-width="0.55" opacity="0.8"/>
<line x1="227" y1="217.06" x2="227" y2="221.1" stroke="#d49c7c" stroke-width="0.55" opacity="0.8"/>
<line x1="227.56" y1="217.43" x2="227.56" y2="222.24" stroke="#d49c7c" stroke-width="0.55" opacity="0.8"/>
<line x1="228.13" y1="217.42" x2="228.13" y2="220.83" stroke="#d49c7c" stroke-width="0.55" opacity="0.8"/>
<line x1="228.7" y1="217.31" x2="228.7" y2="222.54" stroke="#d49c7c" stroke-width="0.55" opacity="0.8"/>
<line x1="229.27" y1="217.48" x2="229.27" y2="220.1" stroke="#d49c7c" stroke-width="0.55" opacity="0.8"/>
<line x1="229.84" y1="217.37" x2="229.84" y2="221.47" stroke="#d49c7c" stroke-width="0.55" opacity="0.8"/>
<line x1="230.41" y1="217.57" x2="230.41" y2="220.82" stroke="#d49c7c" stroke-width="0.55" opacity="0.8"/>
<line x1="230.98" y1="216.91" x2="230.98" y2="221.03" stroke="#d49c7c" stroke-width="0.55" opacity="0.8"/>
<line x1="231.55" y1="217.52" x2="231.55" y2="220.92" stroke="#d49c7c" stroke-width="0.55" opacity="0.8"/>
<line x1="232.12" y1="217.44" x2="232.12" y2="220.48" stroke="#d49c7c" stroke-width="0.55" opacity="0.8"/>
<line x1="232.69" y1="217.46" x2="232.69" y2="220.96" stroke="#d49c7c" stroke-width="0.55" opacity="0.8"/>
<line x1="233.25" y1="217.04" x2="233.25" y2="220.58" stroke="#d49c7c" stroke-width="0.55" opacity="0.8"/>
<line x1="233.82" y1="217.56" x2="233.82" y2="223.33" stroke="#d49c7c" stroke-width="0.55" opacity="0.8"/>
<line x1="234.39" y1="217.43" x2="234.39" y2="223.03" stroke="#d49c7c" stroke-width="0.55" opacity="0.8"/>
<line x1="234.96" y1="216.99" x2="234.96" y2="222.15" stroke="#d49c7c" stroke-width="0.55" opacity="0.8"/>
<line x1="235.53" y1="216.99" x2="235.53" y2="223.19" stroke="#d49c7c" stroke-width="0.55" opacity="0.8"/>
<line x1="236.1" y1="217.35" x2="236.1" y2="220.43" stroke="#d49c7c" stroke-width="0.55" opacity="0.8"/>
<line x1="236.67" y1="217.43" x2="236.67" y2="220.75" stroke="#d49c7c" stroke-width="0.55" opacity="0.8"/>
<line x1="237.24" y1="217.55" x2="237.24" y2="220.45" stroke="#d49c7c" stroke-width="0.55" opacity="0.8"/>
<line x1="237.81" y1="216.87" x2="237.81" y2="220.92" stroke="#d49c7c" stroke-width="0.55" opacity="0.8"/>
<line x1="238.38" y1="217.07" x2="238.38" y2="220.92" stroke="#d49c7c" stroke-width="0.55" opacity="0.8"/>
<line x1="238.94" y1="217.43" x2="238.94" y2="222.22" stroke="#d49c7c" stroke-width="0.55" opacity="0.8"/>
<line x1="239.51" y1="216.81" x2="239.51" y2="222.97" stroke="#d49c7c" stroke-width="0.55" opacity="0.8"/>
<line x1="240.08" y1="217.13" x2="240.08" y2="220.5" stroke="#d49c7c" stroke-width="0.55" opacity="0.8"/>
<line x1="240.65" y1="217.07" x2="240.65" y2="221.91" stroke="#d49c7c" stroke-width="0.55" opacity="0.8"/>
<polyline points="179.77,219.41 180.91,219.21 182.04,218.91 183.18,218.73 184.32,218.89 185.46,219.28 186.6,219.05 187.73,219.24 188.87,219.38 190.01,218.76 191.15,219.26 192.29,218.69 193.42,219.39 194.56,218.82 195.7,218.89 196.84,219.51 197.98,218.98 199.11,218.85 200.25,219.45 201.39,219.2 202.53,219.45 203.67,219 204.8,219.1 205.94,219.51 207.08,219.11 208.22,219.54 209.36,218.82 210.49,219.4 211.63,218.8 212.77,219.12 213.91,218.65 215.05,218.81 216.19,219.5 217.32,219.06 218.46,219.38 219.6,218.88 220.74,218.97 221.88,218.74 223.01,219.15 224.15,219.43 225.29,219.11 226.43,218.99 227.56,219.49 228.7,219.45 229.84,219.25 230.98,218.72 232.12,219.21 233.25,219.05 234.39,219.51 235.53,218.98 236.67,219.25 237.81,219.22 238.94,218.99 240.08,219.12" fill="none" stroke="#f2956a" stroke-width="0.9" opacity="0.8"/>
<line x1="239.5" y1="220.8" x2="239.5" y2="261" stroke="#e8997a" stroke-width="1.0" />
<circle cx="239.5" cy="256.5" r="1.0" fill="#66c2a5"/>
<circle cx="239.5" cy="260" r="0.9" fill="#fc8d62" opacity="0.8"/>
<circle cx="179.77" cy="175.36" r="0.95" fill="#fc8d62" opacity="0.72"/>
<circle cx="180.34" cy="176.48" r="0.95" fill="#fc8d62" opacity="0.72"/>
<circle cx="180.91" cy="178.19" r="0.95" fill="#fc8d62" opacity="0.72"/>
<circle cx="181.48" cy="160.55" r="0.95" fill="#fc8d62" opacity="0.72"/>
<circle cx="182.04" cy="176.46" r="0.95" fill="#fc8d62" opacity="0.72"/>
<circle cx="182.61" cy="178.48" r="0.95" fill="#fc8d62" opacity="0.72"/>
<circle cx="183.18" cy="180.34" r="0.95" fill="#fc8d62" opacity="0.72"/>
<circle cx="183.75" cy="171.75" r="0.95" fill="#fc8d62" opacity="0.72"/>
<circle cx="184.32" cy="161.75" r="0.95" fill="#fc8d62" opacity="0.72"/>
<circle cx="184.89" cy="180.64" r="0.95" fill="#fc8d62" opacity="0.72"/>
<circle cx="185.46" cy="169.31" r="0.95" fill="#fc8d62" opacity="0.72"/>
<circle cx="186.03" cy="181.27" r="0.95" fill="#fc8d62" opacity="0.72"/>
<circle cx="186.6" cy="183.41" r="0.95" fill="#fc8d62" opacity="0.72"/>
<circle cx="187.17" cy="183.9" r="0.95" fill="#fc8d62" opacity="0.72"/>
<circle cx="187.73" cy="181.43" r="0.95" fill="#fc8d62" opacity="0.72"/>
<circle cx="188.3" cy="180.22" r="0.95" fill="#fc8d62" opacity="0.72"/>
<circle cx="188.87" cy="183.13" r="0.95" fill="#fc8d62" opacity="0.72"/>
<circle cx="189.44" cy="186.59" r="0.95" fill="#fc8d62" opacity="0.72"/>
<circle cx="190.01" cy="186.53" r="0.95" fill="#fc8d62" opacity="0.72"/>
<circle cx="190.58" cy="186.81" r="0.95" fill="#fc8d62" opacity="0.72"/>
<circle cx="191.15" cy="174.75" r="0.95" fill="#fc8d62" opacity="0.72"/>
<circle cx="191.72" cy="188.1" r="0.95" fill="#fc8d62" opacity="0.72"/>
<circle cx="192.29" cy="188.18" r="0.95" fill="#fc8d62" opacity="0.72"/>
<circle cx="192.86" cy="188.35" r="0.95" fill="#fc8d62" opacity="0.72"/>
<circle cx="193.42" cy="191.44" r="0.95" fill="#fc8d62" opacity="0.72"/>
<circle cx="193.99" cy="181.58" r="0.95" fill="#fc8d62" opacity="0.72"/>
<circle cx="194.56" cy="182.3" r="0.95" fill="#fc8d62" opacity="0.72"/>
<circle cx="195.13" cy="188.16" r="0.95" fill="#fc8d62" opacity="0.72"/>
<circle cx="195.7" cy="193.05" r="0.95" fill="#fc8d62" opacity="0.72"/>
<circle cx="196.27" cy="191.84" r="0.95" fill="#fc8d62" opacity="0.72"/>
<circle cx="196.84" cy="193.35" r="0.95" fill="#fc8d62" opacity="0.72"/>
<circle cx="197.41" cy="190.79" r="0.95" fill="#fc8d62" opacity="0.72"/>
<circle cx="197.98" cy="185.02" r="0.95" fill="#fc8d62" opacity="0.72"/>
<circle cx="198.55" cy="188.8" r="0.95" fill="#fc8d62" opacity="0.72"/>
<circle cx="199.11" cy="189.54" r="0.95" fill="#fc8d62" opacity="0.72"/>
<circle cx="199.68" cy="191.47" r="0.95" fill="#fc8d62" opacity="0.72"/>
<circle cx="200.25" cy="193.59" r="0.95" fill="#fc8d62" opacity="0.72"/>
<circle cx="200.82" cy="193.58" r="0.95" fill="#fc8d62" opacity="0.72"/>
<circle cx="201.39" cy="177.87" r="0.95" fill="#fc8d62" opacity="0.72"/>
<circle cx="201.96" cy="192.47" r="0.95" fill="#fc8d62" opacity="0.72"/>
<circle cx="202.53" cy="192.81" r="0.95" fill="#fc8d62" opacity="0.72"/>
<circle cx="203.1" cy="191.62" r="0.95" fill="#fc8d62" opacity="0.72"/>
<circle cx="203.67" cy="192.79" r="0.95" fill="#fc8d62" opacity="0.72"/>
<circle cx="204.24" cy="194.08" r="0.95" fill="#fc8d62" opacity="0.72"/>
<circle cx="204.8" cy="195.47" r="0.95" fill="#fc8d62" opacity="0.72"/>
<circle cx="205.37" cy="178.53" r="0.95" fill="#fc8d62" opacity="0.72"/>
<circle cx="205.94" cy="192.5" r="0.95" fill="#fc8d62" opacity="0.72"/>
<circle cx="206.51" cy="194.95" r="0.95" fill="#fc8d62" opacity="0.72"/>
<circle cx="207.08" cy="196.2" r="0.95" fill="#fc8d62" opacity="0.72"/>
<circle cx="207.65" cy="184.4" r="0.95" fill="#fc8d62" opacity="0.72"/>
<circle cx="208.22" cy="196.42" r="0.95" fill="#fc8d62" opacity="0.72"/>
<circle cx="208.79" cy="197.18" r="0.95" fill="#fc8d62" opacity="0.72"/>
<circle cx="209.36" cy="189.41" r="0.95" fill="#fc8d62" opacity="0.72"/>
<circle cx="209.93" cy="195.3" r="0.95" fill="#fc8d62" opacity="0.72"/>
<circle cx="210.49" cy="198.05" r="0.95" fill="#fc8d62" opacity="0.72"/>
<circle cx="211.06" cy="194.9" r="0.95" fill="#fc8d62" opacity="0.72"/>
<circle cx="211.63" cy="196.13" r="0.95" fill="#fc8d62" opacity="0.72"/>
<circle cx="212.2" cy="196.57" r="0.95" fill="#fc8d62" opacity="0.72"/>
<circle cx="212.77" cy="197.52" r="0.95" fill="#fc8d62" opacity="0.72"/>
<circle cx="213.34" cy="182.12" r="0.95" fill="#fc8d62" opacity="0.72"/>
<circle cx="213.91" cy="197.42" r="0.95" fill="#fc8d62" opacity="0.72"/>
<circle cx="214.48" cy="201.36" r="0.95" fill="#fc8d62" opacity="0.72"/>
<circle cx="215.05" cy="192.17" r="0.95" fill="#fc8d62" opacity="0.72"/>
<circle cx="215.62" cy="191.25" r="0.95" fill="#fc8d62" opacity="0.72"/>
<circle cx="216.19" cy="200.06" r="0.95" fill="#fc8d62" opacity="0.72"/>
<circle cx="216.75" cy="199.74" r="0.95" fill="#fc8d62" opacity="0.72"/>
<circle cx="217.32" cy="201.13" r="0.95" fill="#fc8d62" opacity="0.72"/>
<circle cx="217.89" cy="203.22" r="0.95" fill="#fc8d62" opacity="0.72"/>
<circle cx="218.46" cy="202.73" r="0.95" fill="#fc8d62" opacity="0.72"/>
<circle cx="219.03" cy="202.67" r="0.95" fill="#fc8d62" opacity="0.72"/>
<circle cx="219.6" cy="199.38" r="0.95" fill="#fc8d62" opacity="0.72"/>
<circle cx="220.17" cy="205.02" r="0.95" fill="#fc8d62" opacity="0.72"/>
<circle cx="220.74" cy="203.4" r="0.95" fill="#fc8d62" opacity="0.72"/>
<circle cx="221.31" cy="204.15" r="0.95" fill="#fc8d62" opacity="0.72"/>
<circle cx="221.88" cy="190.09" r="0.95" fill="#fc8d62" opacity="0.72"/>
<circle cx="222.44" cy="204.46" r="0.95" fill="#fc8d62" opacity="0.72"/>
<circle cx="223.01" cy="192.49" r="0.95" fill="#fc8d62" opacity="0.72"/>
<circle cx="223.58" cy="206.46" r="0.95" fill="#fc8d62" opacity="0.72"/>
<circle cx="224.15" cy="206.38" r="0.95" fill="#fc8d62" opacity="0.72"/>
<circle cx="224.72" cy="192.09" r="0.95" fill="#fc8d62" opacity="0.72"/>
<circle cx="225.29" cy="208.66" r="0.95" fill="#fc8d62" opacity="0.72"/>
<circle cx="225.86" cy="206.89" r="0.95" fill="#fc8d62" opacity="0.72"/>
<circle cx="226.43" cy="190.07" r="0.95" fill="#fc8d62" opacity="0.72"/>
<circle cx="227" cy="205.34" r="0.95" fill="#fc8d62" opacity="0.72"/>
<circle cx="227.56" cy="194.12" r="0.95" fill="#fc8d62" opacity="0.72"/>
<circle cx="228.13" cy="200.39" r="0.95" fill="#fc8d62" opacity="0.72"/>
<circle cx="228.7" cy="197.73" r="0.95" fill="#fc8d62" opacity="0.72"/>
<circle cx="229.27" cy="208.74" r="0.95" fill="#fc8d62" opacity="0.72"/>
<circle cx="229.84" cy="209.48" r="0.95" fill="#fc8d62" opacity="0.72"/>
<circle cx="230.41" cy="202.23" r="0.95" fill="#fc8d62" opacity="0.72"/>
<circle cx="230.98" cy="208.64" r="0.95" fill="#fc8d62" opacity="0.72"/>
<circle cx="231.55" cy="208.28" r="0.95" fill="#fc8d62" opacity="0.72"/>
<circle cx="232.12" cy="209.78" r="0.95" fill="#fc8d62" opacity="0.72"/>
<circle cx="232.69" cy="210.24" r="0.95" fill="#fc8d62" opacity="0.72"/>
<circle cx="233.25" cy="210.99" r="0.95" fill="#fc8d62" opacity="0.72"/>
<circle cx="233.82" cy="210.81" r="0.95" fill="#fc8d62" opacity="0.72"/>
<circle cx="234.39" cy="199.22" r="0.95" fill="#fc8d62" opacity="0.72"/>
<circle cx="234.96" cy="208.6" r="0.95" fill="#fc8d62" opacity="0.72"/>
<circle cx="235.53" cy="210.53" r="0.95" fill="#fc8d62" opacity="0.72"/>
<circle cx="236.1" cy="209.86" r="0.95" fill="#fc8d62" opacity="0.72"/>
<circle cx="236.67" cy="210.7" r="0.95" fill="#fc8d62" opacity="0.72"/>
<circle cx="237.24" cy="207.62" r="0.95" fill="#fc8d62" opacity="0.72"/>
<circle cx="237.81" cy="210.45" r="0.95" fill="#fc8d62" opacity="0.72"/>
<circle cx="238.38" cy="211.95" r="0.95" fill="#fc8d62" opacity="0.72"/>
<circle cx="238.94" cy="201.77" r="0.95" fill="#fc8d62" opacity="0.72"/>
<circle cx="239.51" cy="202.44" r="0.95" fill="#fc8d62" opacity="0.72"/>
<circle cx="240.08" cy="207.94" r="0.95" fill="#fc8d62" opacity="0.72"/>
<circle cx="240.65" cy="211.67" r="0.95" fill="#fc8d62" opacity="0.72"/>
<polyline points="179.1,176.4 179.77,177.14 180.34,177.73 180.91,178.46 181.48,178.7 182.04,179.49 182.61,179.9 183.18,180.24 183.75,181.09 184.32,182.02 184.89,182.57 185.46,183.11 186.03,183.93 186.6,185.02 187.17,184.98 187.73,184.92 188.3,186.15 188.87,185.91 189.44,187.53 190.01,187.35 190.58,188.03 191.15,188.42 191.72,189.01 192.29,189.52 192.86,190.26 193.42,190.05 193.99,190.73 194.56,191.19 195.13,191.72 195.7,192.44 196.27,192.15 196.84,192.32 197.41,193.19 197.98,193.52 198.55,193.78 199.11,194.12 199.68,194.53 200.25,193.98 200.82,194.39 201.39,194.78 201.96,195.09 202.53,195.28 203.1,195.51 203.67,195.4 204.24,196.68 204.8,196.26 205.37,196.68 205.94,196.54 206.51,197.22 207.08,197.3 207.65,198.02 208.22,198.25 208.79,198.09 209.36,198.61 209.93,198.95 210.49,199.35 211.06,200.01 211.63,199.69 212.2,201.07 212.77,200.32 213.34,200.49 213.91,201.46 214.48,201.19 215.05,202.29 215.62,202.36 216.19,202.48 216.75,203.17 217.32,203.32 217.89,203.4 218.46,203.84 219.03,204.9 219.6,204.71 220.17,205.1 220.74,205.04 221.31,206.32 221.88,206.23 222.44,206.29 223.01,206.72 223.58,206.9 224.15,207.71 224.72,207.84 225.29,207.6 225.86,207.95 226.43,208.17 227,208.6 227.56,209.47 228.13,208.96 228.7,209.4 229.27,209.42 229.84,209.72 230.41,210.15 230.98,210.61 231.55,210.17 232.12,210.57 232.69,210.95 233.25,210.97 233.82,211.98 234.39,212 234.96,212.38 235.53,212.44 236.1,212.23 236.67,213.11 237.24,213.06 237.81,213.16 238.38,213.36 238.94,213.53 239.6,214.2" fill="none" stroke="#66c2a5" stroke-width="1.45" stroke-linejoin="round" stroke-linecap="round" opacity="0.9"/>
<rect x="178.2" y="166.1" width="1.8" height="1.8" fill="#66c2a5" opacity="0.9"/>
<line x1="178.9" y1="195.6" x2="189.3" y2="195.6" stroke="#fc8d62" stroke-width="1.6" opacity="0.85"/>
<path d="M187.6,193.4 L190.8,195.6 L187.6,197.8 Z" fill="#fc8d62" stroke="#fc8d62" stroke-width="0.5" opacity="0.9"/>
<line x1="178.9" y1="199.8" x2="189.3" y2="199.8" stroke="#66c2a5" stroke-width="1.2" opacity="0.85"/>
<path d="M187.6,197.6 L190.8,199.8 L187.6,202 Z" fill="#66c2a5" stroke="#66c2a5" stroke-width="0.5" opacity="0.9"/>
<text x="188.4" y="155.2" font-size="8.1" text-anchor="start" fill="#111" stroke="#111" stroke-width="0.12" >n = 108</text>
<line x1="47.55" y1="25.1" x2="47.55" y2="143.47" stroke="#000" stroke-width="1.45" />
<line x1="46.82" y1="142.75" x2="171" y2="142.75" stroke="#000" stroke-width="1.45" />
<line x1="47.55" y1="145.4" x2="47.55" y2="264.33" stroke="#000" stroke-width="1.45" />
<line x1="46.82" y1="263.6" x2="171" y2="263.6" stroke="#000" stroke-width="1.45" />
<line x1="173.7" y1="25.1" x2="173.7" y2="143.47" stroke="#000" stroke-width="1.45" />
<line x1="172.97" y1="142.75" x2="296.3" y2="142.75" stroke="#000" stroke-width="1.45" />
<line x1="173.7" y1="145.4" x2="173.7" y2="264.33" stroke="#000" stroke-width="1.45" />
<line x1="172.97" y1="263.6" x2="296.3" y2="263.6" stroke="#000" stroke-width="1.45" />
<line x1="45.1" y1="27.05" x2="47.55" y2="27.05" stroke="#000" stroke-width="1.1" />
<text x="42.6" y="29.05" font-size="7.7" text-anchor="end" fill="#222" stroke="#222" stroke-width="0.12" >1</text>
<line x1="45.1" y1="61.02" x2="47.55" y2="61.02" stroke="#000" stroke-width="1.1" />
<text x="42.6" y="63.02" font-size="7.7" text-anchor="end" fill="#222" stroke="#222" stroke-width="0.12" >0.5</text>
<line x1="45.1" y1="95" x2="47.55" y2="95" stroke="#000" stroke-width="1.1" />
<text x="42.6" y="97" font-size="7.7" text-anchor="end" fill="#222" stroke="#222" stroke-width="0.12" >0</text>
<line x1="45.1" y1="128.97" x2="47.55" y2="128.97" stroke="#000" stroke-width="1.1" />
<text x="42.6" y="130.97" font-size="7.7" text-anchor="end" fill="#222" stroke="#222" stroke-width="0.12" >−0.5</text>
<line x1="45.1" y1="148.05" x2="47.55" y2="148.05" stroke="#000" stroke-width="1.1" />
<text x="42.6" y="150.05" font-size="7.7" text-anchor="end" fill="#222" stroke="#222" stroke-width="0.12" >1</text>
<line x1="45.1" y1="182.03" x2="47.55" y2="182.03" stroke="#000" stroke-width="1.1" />
<text x="42.6" y="184.03" font-size="7.7" text-anchor="end" fill="#222" stroke="#222" stroke-width="0.12" >0.5</text>
<line x1="45.1" y1="216" x2="47.55" y2="216" stroke="#000" stroke-width="1.1" />
<text x="42.6" y="218" font-size="7.7" text-anchor="end" fill="#222" stroke="#222" stroke-width="0.12" >0</text>
<line x1="45.1" y1="249.97" x2="47.55" y2="249.97" stroke="#000" stroke-width="1.1" />
<text x="42.6" y="251.97" font-size="7.7" text-anchor="end" fill="#222" stroke="#222" stroke-width="0.12" >−0.5</text>
<line x1="53.1" y1="263.6" x2="53.1" y2="266.2" stroke="#000" stroke-width="1.1" />
<text x="53.1" y="274.3" font-size="7.7" text-anchor="middle" fill="#222" stroke="#222" stroke-width="0.12" >0</text>
<line x1="81.55" y1="263.6" x2="81.55" y2="266.2" stroke="#000" stroke-width="1.1" />
<text x="81.55" y="274.3" font-size="7.7" text-anchor="middle" fill="#222" stroke="#222" stroke-width="0.12" >50</text>
<line x1="110" y1="263.6" x2="110" y2="266.2" stroke="#000" stroke-width="1.1" />
<text x="110" y="274.3" font-size="7.7" text-anchor="middle" fill="#222" stroke="#222" stroke-width="0.12" >100</text>
<line x1="138.45" y1="263.6" x2="138.45" y2="266.2" stroke="#000" stroke-width="1.1" />
<text x="138.45" y="274.3" font-size="7.7" text-anchor="middle" fill="#222" stroke="#222" stroke-width="0.12" >150</text>
<line x1="166.9" y1="263.6" x2="166.9" y2="266.2" stroke="#000" stroke-width="1.1" />
<text x="166.9" y="274.3" font-size="7.7" text-anchor="middle" fill="#222" stroke="#222" stroke-width="0.12" >200</text>
<line x1="179.2" y1="263.6" x2="179.2" y2="266.2" stroke="#000" stroke-width="1.1" />
<text x="179.2" y="274.3" font-size="7.7" text-anchor="middle" fill="#222" stroke="#222" stroke-width="0.12" >0</text>
<line x1="207.65" y1="263.6" x2="207.65" y2="266.2" stroke="#000" stroke-width="1.1" />
<text x="207.65" y="274.3" font-size="7.7" text-anchor="middle" fill="#222" stroke="#222" stroke-width="0.12" >50</text>
<line x1="236.1" y1="263.6" x2="236.1" y2="266.2" stroke="#000" stroke-width="1.1" />
<text x="236.1" y="274.3" font-size="7.7" text-anchor="middle" fill="#222" stroke="#222" stroke-width="0.12" >100</text>
<line x1="264.55" y1="263.6" x2="264.55" y2="266.2" stroke="#000" stroke-width="1.1" />
<text x="264.55" y="274.3" font-size="7.7" text-anchor="middle" fill="#222" stroke="#222" stroke-width="0.12" >150</text>
<line x1="293" y1="263.6" x2="293" y2="266.2" stroke="#000" stroke-width="1.1" />
<text x="293" y="274.3" font-size="7.7" text-anchor="middle" fill="#222" stroke="#222" stroke-width="0.12" >200</text>
<text x="172.1" y="285.7" font-size="9.6" text-anchor="middle" fill="#111" stroke="#111" stroke-width="0.12" >Rank (unit; 2d)</text>
<g transform="translate(21.5,152.3) rotate(-90)" fill="#111" stroke="#111" stroke-width="0.2"><text x="0" y="0" font-size="9.2" font-style="italic">R</text><path d="M2.2,-8.5 q1.05,-1.4 2.1,0 t2.1,0" fill="none" stroke-width="0.85"/><text x="7.6" y="-4.7" font-size="5.8">2</text><text x="6.9" y="2.5" font-size="6.6" font-style="italic">KP</text></g>
<text x="312" y="34.3" font-size="9.3" text-anchor="start" fill="#111" stroke="#111" stroke-width="0.12" >KP</text>
<rect x="312.6" y="37.8" width="12.6" height="12.2" fill="#b3e0d2" stroke="none" stroke-width="1.3" />
<line x1="312.6" y1="43.9" x2="325.2" y2="43.9" stroke="#66c2a5" stroke-width="1.1" />
<text x="325.9" y="46.5" font-size="7.4" text-anchor="start" fill="#111" stroke="#111" stroke-width="0.12" >2D</text>
<rect x="312.6" y="54.2" width="12.6" height="12.2" fill="#fdc6b0" stroke="none" stroke-width="1.3" />
<line x1="312.6" y1="60.3" x2="325.2" y2="60.3" stroke="#fc8d62" stroke-width="1.1" />
<text x="325.9" y="62.9" font-size="7.4" text-anchor="start" fill="#111" stroke="#111" stroke-width="0.12" >3D_VD</text>
<text x="337.1" y="12.3" font-size="18.2" text-anchor="start" fill="#000" stroke="#000" stroke-width="0.12" font-weight="bold">b</text>
<rect x="397.65" y="12.4" width="110.45" height="11.45" fill="none" stroke="#000" stroke-width="1.45" />
<text x="452.88" y="20.6" font-size="7.4" text-anchor="middle" fill="#1a1a1a" stroke="#1a1a1a" stroke-width="0.12" >MSB</text>
<rect x="511.55" y="12.4" width="110.5" height="11.45" fill="none" stroke="#000" stroke-width="1.45" />
<text x="566.8" y="20.6" font-size="7.4" text-anchor="middle" fill="#1a1a1a" stroke="#1a1a1a" stroke-width="0.12" >ASB</text>
<rect x="622.05" y="23.85" width="11.65" height="118.55" fill="none" stroke="#000" stroke-width="1.45" />
<text transform="translate(625.12,83.12) rotate(90)" font-size="7.6" text-anchor="middle" fill="#1a1a1a" stroke="#1a1a1a" stroke-width="0.12">G</text>
<rect x="622.05" y="145.9" width="11.65" height="118.2" fill="none" stroke="#000" stroke-width="1.45" />
<text transform="translate(625.12,205) rotate(90)" font-size="7.6" text-anchor="middle" fill="#1a1a1a" stroke="#1a1a1a" stroke-width="0.12">T</text>
<line x1="397.9" y1="93.9" x2="508.8" y2="93.9" stroke="#000" stroke-width="1.4" stroke-dasharray="3.6 2.6"/>
<line x1="404.05" y1="90.4" x2="404.05" y2="106" stroke="#66c2a5" stroke-width="1.1" />
<line x1="404.05" y1="118.5" x2="404.05" y2="130" stroke="#66c2a5" stroke-width="1.1" />
<rect x="401.35" y="106" width="5.4" height="12.5" fill="#fff" stroke="#66c2a5" stroke-width="1.1" fill-opacity="0.6"/>
<line x1="401.35" y1="109.2" x2="406.75" y2="109.2" stroke="#66c2a5" stroke-width="1.9" />
<line x1="409.95" y1="92" x2="409.95" y2="104.6" stroke="#fc8d62" stroke-width="1.1" />
<line x1="409.95" y1="118.5" x2="409.95" y2="135.2" stroke="#fc8d62" stroke-width="1.1" />
<rect x="407.25" y="104.6" width="5.4" height="13.9" fill="#fff" stroke="#fc8d62" stroke-width="1.1" fill-opacity="0.6"/>
<line x1="407.25" y1="109.8" x2="412.65" y2="109.8" stroke="#fc8d62" stroke-width="1.9" />
<text transform="translate(405.7,48.1) rotate(-90) scale(0.5)" font-size="10.1" text-anchor="middle" fill="#66c2a5" stroke="#66c2a5" stroke-width="0.35">p=1.056e-25</text>
<text transform="translate(411.2,48.1) rotate(-90) scale(0.5)" font-size="10.1" text-anchor="middle" fill="#fc8d62" stroke="#fc8d62" stroke-width="0.35">p=6.782e-26</text>
<line x1="419.38" y1="78.9" x2="419.38" y2="91.5" stroke="#66c2a5" stroke-width="1.1" />
<line x1="419.38" y1="105.4" x2="419.38" y2="120" stroke="#66c2a5" stroke-width="1.1" />
<rect x="416.68" y="91.5" width="5.4" height="13.9" fill="#fff" stroke="#66c2a5" stroke-width="1.1" fill-opacity="0.6"/>
<line x1="416.68" y1="94.6" x2="422.08" y2="94.6" stroke="#66c2a5" stroke-width="1.9" />
<line x1="425.28" y1="82.2" x2="425.28" y2="89.4" stroke="#fc8d62" stroke-width="1.1" />
<line x1="425.28" y1="105.4" x2="425.28" y2="120.6" stroke="#fc8d62" stroke-width="1.1" />
<rect x="422.58" y="89.4" width="5.4" height="16" fill="#fff" stroke="#fc8d62" stroke-width="1.1" fill-opacity="0.6"/>
<line x1="422.58" y1="95.6" x2="427.98" y2="95.6" stroke="#fc8d62" stroke-width="1.9" />
<text transform="translate(421.03,48.1) rotate(-90) scale(0.5)" font-size="10.1" text-anchor="middle" fill="#66c2a5" stroke="#66c2a5" stroke-width="0.35">p=1.349e-06</text>
<text transform="translate(426.53,48.1) rotate(-90) scale(0.5)" font-size="10.1" text-anchor="middle" fill="#fc8d62" stroke="#fc8d62" stroke-width="0.35">p=9.080e-05</text>
<line x1="434.71" y1="78" x2="434.71" y2="87.3" stroke="#66c2a5" stroke-width="1.1" />
<line x1="434.71" y1="101.3" x2="434.71" y2="116.5" stroke="#66c2a5" stroke-width="1.1" />
<rect x="432.01" y="87.3" width="5.4" height="14" fill="#fff" stroke="#66c2a5" stroke-width="1.1" fill-opacity="0.6"/>
<line x1="432.01" y1="93.5" x2="437.41" y2="93.5" stroke="#66c2a5" stroke-width="1.9" />
<line x1="440.61" y1="75.8" x2="440.61" y2="86.3" stroke="#fc8d62" stroke-width="1.1" />
<line x1="440.61" y1="101.9" x2="440.61" y2="117.5" stroke="#fc8d62" stroke-width="1.1" />
<rect x="437.91" y="86.3" width="5.4" height="15.6" fill="#fff" stroke="#fc8d62" stroke-width="1.1" fill-opacity="0.6"/>
<line x1="437.91" y1="93.5" x2="443.31" y2="93.5" stroke="#fc8d62" stroke-width="1.9" />
<text transform="translate(436.36,48.1) rotate(-90) scale(0.5)" font-size="10.1" text-anchor="middle" fill="#66c2a5" stroke="#66c2a5" stroke-width="0.35">p=0.695</text>
<text transform="translate(441.86,48.1) rotate(-90) scale(0.5)" font-size="10.1" text-anchor="middle" fill="#fc8d62" stroke="#fc8d62" stroke-width="0.35">p=0.877</text>
<line x1="450.04" y1="75.3" x2="450.04" y2="86.9" stroke="#66c2a5" stroke-width="1.1" />
<line x1="450.04" y1="101.7" x2="450.04" y2="114.2" stroke="#66c2a5" stroke-width="1.1" />
<rect x="447.34" y="86.9" width="5.4" height="14.8" fill="#fff" stroke="#66c2a5" stroke-width="1.1" fill-opacity="0.6"/>
<line x1="447.34" y1="93.9" x2="452.74" y2="93.9" stroke="#66c2a5" stroke-width="1.9" />
<line x1="455.94" y1="76.1" x2="455.94" y2="85.6" stroke="#fc8d62" stroke-width="1.1" />
<line x1="455.94" y1="101.7" x2="455.94" y2="115.6" stroke="#fc8d62" stroke-width="1.1" />
<rect x="453.24" y="85.6" width="5.4" height="16.1" fill="#fff" stroke="#fc8d62" stroke-width="1.1" fill-opacity="0.6"/>
<line x1="453.24" y1="92.8" x2="458.64" y2="92.8" stroke="#fc8d62" stroke-width="1.9" />
<text transform="translate(451.69,48.1) rotate(-90) scale(0.5)" font-size="10.1" text-anchor="middle" fill="#66c2a5" stroke="#66c2a5" stroke-width="0.35">p=0.856</text>
<text transform="translate(457.19,48.1) rotate(-90) scale(0.5)" font-size="10.1" text-anchor="middle" fill="#fc8d62" stroke="#fc8d62" stroke-width="0.35">p=0.618</text>
<line x1="465.37" y1="73.9" x2="465.37" y2="86.9" stroke="#66c2a5" stroke-width="1.1" />
<line x1="465.37" y1="100.3" x2="465.37" y2="112.2" stroke="#66c2a5" stroke-width="1.1" />
<rect x="462.67" y="86.9" width="5.4" height="13.4" fill="#fff" stroke="#66c2a5" stroke-width="1.1" fill-opacity="0.6"/>
<line x1="462.67" y1="90.6" x2="468.07" y2="90.6" stroke="#66c2a5" stroke-width="1.9" />
<line x1="471.27" y1="73.9" x2="471.27" y2="85.8" stroke="#fc8d62" stroke-width="1.1" />
<line x1="471.27" y1="98.9" x2="471.27" y2="112.8" stroke="#fc8d62" stroke-width="1.1" />
<rect x="468.57" y="85.8" width="5.4" height="13.1" fill="#fff" stroke="#fc8d62" stroke-width="1.1" fill-opacity="0.6"/>
<line x1="468.57" y1="91.9" x2="473.97" y2="91.9" stroke="#fc8d62" stroke-width="1.9" />
<text transform="translate(467.02,48.1) rotate(-90) scale(0.5)" font-size="10.1" text-anchor="middle" fill="#66c2a5" stroke="#66c2a5" stroke-width="0.35">p=0.343</text>
<text transform="translate(472.52,48.1) rotate(-90) scale(0.5)" font-size="10.1" text-anchor="middle" fill="#fc8d62" stroke="#fc8d62" stroke-width="0.35">p=0.111</text>
<line x1="480.7" y1="80" x2="480.7" y2="92.8" stroke="#66c2a5" stroke-width="1.1" />
<line x1="480.7" y1="107.2" x2="480.7" y2="120.6" stroke="#66c2a5" stroke-width="1.1" />
<rect x="478" y="92.8" width="5.4" height="14.4" fill="#fff" stroke="#66c2a5" stroke-width="1.1" fill-opacity="0.6"/>
<line x1="478" y1="95.6" x2="483.4" y2="95.6" stroke="#66c2a5" stroke-width="1.9" />
<line x1="486.6" y1="79.4" x2="486.6" y2="91.4" stroke="#fc8d62" stroke-width="1.1" />
<line x1="486.6" y1="107.8" x2="486.6" y2="121.7" stroke="#fc8d62" stroke-width="1.1" />
<rect x="483.9" y="91.4" width="5.4" height="16.4" fill="#fff" stroke="#fc8d62" stroke-width="1.1" fill-opacity="0.6"/>
<line x1="483.9" y1="97" x2="489.3" y2="97" stroke="#fc8d62" stroke-width="1.9" />
<text transform="translate(482.35,48.1) rotate(-90) scale(0.5)" font-size="10.1" text-anchor="middle" fill="#66c2a5" stroke="#66c2a5" stroke-width="0.35">p=4.936e-11</text>
<text transform="translate(487.85,48.1) rotate(-90) scale(0.5)" font-size="10.1" text-anchor="middle" fill="#fc8d62" stroke="#fc8d62" stroke-width="0.35">p=2.141e-08</text>
<line x1="496.03" y1="80" x2="496.03" y2="99.7" stroke="#66c2a5" stroke-width="1.1" />
<line x1="496.03" y1="114.2" x2="496.03" y2="127.2" stroke="#66c2a5" stroke-width="1.1" />
<rect x="493.33" y="99.7" width="5.4" height="14.5" fill="#fff" stroke="#66c2a5" stroke-width="1.1" fill-opacity="0.6"/>
<line x1="493.33" y1="105.8" x2="498.73" y2="105.8" stroke="#66c2a5" stroke-width="1.9" />
<line x1="501.93" y1="80" x2="501.93" y2="98" stroke="#fc8d62" stroke-width="1.1" />
<line x1="501.93" y1="114.2" x2="501.93" y2="128.9" stroke="#fc8d62" stroke-width="1.1" />
<rect x="499.23" y="98" width="5.4" height="16.2" fill="#fff" stroke="#fc8d62" stroke-width="1.1" fill-opacity="0.6"/>
<line x1="499.23" y1="105" x2="504.63" y2="105" stroke="#fc8d62" stroke-width="1.9" />
<text transform="translate(497.68,48.1) rotate(-90) scale(0.5)" font-size="10.1" text-anchor="middle" fill="#66c2a5" stroke="#66c2a5" stroke-width="0.35">p=6.830e-22</text>
<text transform="translate(503.18,48.1) rotate(-90) scale(0.5)" font-size="10.1" text-anchor="middle" fill="#fc8d62" stroke="#fc8d62" stroke-width="0.35">p=4.330e-21</text>
<text x="402.3" y="31.35" font-size="7.8" text-anchor="start" fill="#111" stroke="#111" stroke-width="0.12" >n = 147</text>
<line x1="397.9" y1="23.85" x2="397.9" y2="143.12" stroke="#000" stroke-width="1.45" />
<line x1="397.17" y1="142.4" x2="508.8" y2="142.4" stroke="#000" stroke-width="1.45" />
<line x1="397.9" y1="215.75" x2="508.8" y2="215.75" stroke="#000" stroke-width="1.4" stroke-dasharray="3.6 2.6"/>
<line x1="404.05" y1="217.1" x2="404.05" y2="225.4" stroke="#66c2a5" stroke-width="1.1" />
<line x1="404.05" y1="236.25" x2="404.05" y2="248.2" stroke="#66c2a5" stroke-width="1.1" />
<rect x="401.35" y="225.4" width="5.4" height="10.85" fill="#fff" stroke="#66c2a5" stroke-width="1.1" fill-opacity="0.6"/>
<line x1="401.35" y1="230.6" x2="406.75" y2="230.6" stroke="#66c2a5" stroke-width="1.9" />
<line x1="409.95" y1="216" x2="409.95" y2="225.4" stroke="#fc8d62" stroke-width="1.1" />
<line x1="409.95" y1="236.25" x2="409.95" y2="250.2" stroke="#fc8d62" stroke-width="1.1" />
<rect x="407.25" y="225.4" width="5.4" height="10.85" fill="#fff" stroke="#fc8d62" stroke-width="1.1" fill-opacity="0.6"/>
<line x1="407.25" y1="230.6" x2="412.65" y2="230.6" stroke="#fc8d62" stroke-width="1.9" />
<text transform="translate(405.7,169.8) rotate(-90) scale(0.5)" font-size="10.1" text-anchor="middle" fill="#66c2a5" stroke="#66c2a5" stroke-width="0.35">p=2.156e-24</text>
<text transform="translate(411.2,169.8) rotate(-90) scale(0.5)" font-size="10.1" text-anchor="middle" fill="#fc8d62" stroke="#fc8d62" stroke-width="0.35">p=2.304e-24</text>
<line x1="419.38" y1="203.5" x2="419.38" y2="212.9" stroke="#66c2a5" stroke-width="1.1" />
<line x1="419.38" y1="222.3" x2="419.38" y2="233.75" stroke="#66c2a5" stroke-width="1.1" />
<rect x="416.68" y="212.9" width="5.4" height="9.4" fill="#fff" stroke="#66c2a5" stroke-width="1.1" fill-opacity="0.6"/>
<line x1="416.68" y1="217.1" x2="422.08" y2="217.1" stroke="#66c2a5" stroke-width="1.9" />
<circle cx="419.38" cy="199.4" r="1.15" fill="#66c2a5"/>
<circle cx="419.38" cy="239.6" r="1.15" fill="#66c2a5"/>
<line x1="425.28" y1="202.5" x2="425.28" y2="212.9" stroke="#fc8d62" stroke-width="1.1" />
<line x1="425.28" y1="222.3" x2="425.28" y2="233.75" stroke="#fc8d62" stroke-width="1.1" />
<rect x="422.58" y="212.9" width="5.4" height="9.4" fill="#fff" stroke="#fc8d62" stroke-width="1.1" fill-opacity="0.6"/>
<line x1="422.58" y1="217.1" x2="427.98" y2="217.1" stroke="#fc8d62" stroke-width="1.9" />
<circle cx="425.28" cy="198.75" r="1.15" fill="#fc8d62"/>
<circle cx="425.28" cy="237.5" r="1.15" fill="#fc8d62"/>
<text transform="translate(421.03,169.8) rotate(-90) scale(0.5)" font-size="10.1" text-anchor="middle" fill="#66c2a5" stroke="#66c2a5" stroke-width="0.35">p=7.414e-06</text>
<text transform="translate(426.53,169.8) rotate(-90) scale(0.5)" font-size="10.1" text-anchor="middle" fill="#fc8d62" stroke="#fc8d62" stroke-width="0.35">p=9.790e-05</text>
<line x1="434.71" y1="199.4" x2="434.71" y2="210.8" stroke="#66c2a5" stroke-width="1.1" />
<line x1="434.71" y1="218.1" x2="434.71" y2="228.5" stroke="#66c2a5" stroke-width="1.1" />
<rect x="432.01" y="210.8" width="5.4" height="7.3" fill="#fff" stroke="#66c2a5" stroke-width="1.1" fill-opacity="0.6"/>
<line x1="432.01" y1="214.6" x2="437.41" y2="214.6" stroke="#66c2a5" stroke-width="1.9" />
<circle cx="434.71" cy="195.8" r="1.15" fill="#66c2a5"/>
<circle cx="434.71" cy="231.7" r="1.15" fill="#66c2a5"/>
<line x1="440.61" y1="198.3" x2="440.61" y2="210.8" stroke="#fc8d62" stroke-width="1.1" />
<line x1="440.61" y1="218.75" x2="440.61" y2="228.5" stroke="#fc8d62" stroke-width="1.1" />
<rect x="437.91" y="210.8" width="5.4" height="7.95" fill="#fff" stroke="#fc8d62" stroke-width="1.1" fill-opacity="0.6"/>
<line x1="437.91" y1="215" x2="443.31" y2="215" stroke="#fc8d62" stroke-width="1.9" />
<circle cx="440.61" cy="194.2" r="1.15" fill="#fc8d62"/>
<circle cx="440.61" cy="196.25" r="1.15" fill="#fc8d62"/>
<circle cx="440.61" cy="231.25" r="1.15" fill="#fc8d62"/>
<text transform="translate(436.36,169.8) rotate(-90) scale(0.5)" font-size="10.1" text-anchor="middle" fill="#66c2a5" stroke="#66c2a5" stroke-width="0.35">p=0.046</text>
<text transform="translate(441.86,169.8) rotate(-90) scale(0.5)" font-size="10.1" text-anchor="middle" fill="#fc8d62" stroke="#fc8d62" stroke-width="0.35">p=0.067</text>
<line x1="450.04" y1="197.9" x2="450.04" y2="209.4" stroke="#66c2a5" stroke-width="1.1" />
<line x1="450.04" y1="219.4" x2="450.04" y2="230.8" stroke="#66c2a5" stroke-width="1.1" />
<rect x="447.34" y="209.4" width="5.4" height="10" fill="#fff" stroke="#66c2a5" stroke-width="1.1" fill-opacity="0.6"/>
<line x1="447.34" y1="213.1" x2="452.74" y2="213.1" stroke="#66c2a5" stroke-width="1.9" />
<circle cx="450.04" cy="192.9" r="1.15" fill="#66c2a5"/>
<circle cx="450.04" cy="194.4" r="1.15" fill="#66c2a5"/>
<line x1="455.94" y1="196.5" x2="455.94" y2="209.4" stroke="#fc8d62" stroke-width="1.1" />
<line x1="455.94" y1="219.4" x2="455.94" y2="229.8" stroke="#fc8d62" stroke-width="1.1" />
<rect x="453.24" y="209.4" width="5.4" height="10" fill="#fff" stroke="#fc8d62" stroke-width="1.1" fill-opacity="0.6"/>
<line x1="453.24" y1="214.2" x2="458.64" y2="214.2" stroke="#fc8d62" stroke-width="1.9" />
<circle cx="455.94" cy="191.7" r="1.15" fill="#fc8d62"/>
<circle cx="455.94" cy="193.75" r="1.15" fill="#fc8d62"/>
<text transform="translate(451.69,169.8) rotate(-90) scale(0.5)" font-size="10.1" text-anchor="middle" fill="#66c2a5" stroke="#66c2a5" stroke-width="0.35">p=0.012</text>
<text transform="translate(457.19,169.8) rotate(-90) scale(0.5)" font-size="10.1" text-anchor="middle" fill="#fc8d62" stroke="#fc8d62" stroke-width="0.35">p=0.022</text>
<line x1="465.37" y1="194.4" x2="465.37" y2="208.3" stroke="#66c2a5" stroke-width="1.1" />
<line x1="465.37" y1="217.9" x2="465.37" y2="228.75" stroke="#66c2a5" stroke-width="1.1" />
<rect x="462.67" y="208.3" width="5.4" height="9.6" fill="#fff" stroke="#66c2a5" stroke-width="1.1" fill-opacity="0.6"/>
<line x1="462.67" y1="211.7" x2="468.07" y2="211.7" stroke="#66c2a5" stroke-width="1.9" />
<line x1="471.27" y1="193.3" x2="471.27" y2="207.5" stroke="#fc8d62" stroke-width="1.1" />
<line x1="471.27" y1="218.3" x2="471.27" y2="228.3" stroke="#fc8d62" stroke-width="1.1" />
<rect x="468.57" y="207.5" width="5.4" height="10.8" fill="#fff" stroke="#fc8d62" stroke-width="1.1" fill-opacity="0.6"/>
<line x1="468.57" y1="212.5" x2="473.97" y2="212.5" stroke="#fc8d62" stroke-width="1.9" />
<text transform="translate(467.02,169.8) rotate(-90) scale(0.5)" font-size="10.1" text-anchor="middle" fill="#66c2a5" stroke="#66c2a5" stroke-width="0.35">p=3.229e-06</text>
<text transform="translate(472.52,169.8) rotate(-90) scale(0.5)" font-size="10.1" text-anchor="middle" fill="#fc8d62" stroke="#fc8d62" stroke-width="0.35">p=6.836e-05</text>
<line x1="480.7" y1="201.7" x2="480.7" y2="212.5" stroke="#66c2a5" stroke-width="1.1" />
<line x1="480.7" y1="222.9" x2="480.7" y2="235" stroke="#66c2a5" stroke-width="1.1" />
<rect x="478" y="212.5" width="5.4" height="10.4" fill="#fff" stroke="#66c2a5" stroke-width="1.1" fill-opacity="0.6"/>
<line x1="478" y1="216.25" x2="483.4" y2="216.25" stroke="#66c2a5" stroke-width="1.9" />
<circle cx="480.7" cy="239.2" r="1.15" fill="#66c2a5"/>
<line x1="486.6" y1="200.6" x2="486.6" y2="211.7" stroke="#fc8d62" stroke-width="1.1" />
<line x1="486.6" y1="222.9" x2="486.6" y2="236" stroke="#fc8d62" stroke-width="1.1" />
<rect x="483.9" y="211.7" width="5.4" height="11.2" fill="#fff" stroke="#fc8d62" stroke-width="1.1" fill-opacity="0.6"/>
<line x1="483.9" y1="217.3" x2="489.3" y2="217.3" stroke="#fc8d62" stroke-width="1.9" />
<text transform="translate(482.35,169.8) rotate(-90) scale(0.5)" font-size="10.1" text-anchor="middle" fill="#66c2a5" stroke="#66c2a5" stroke-width="0.35">p=0.006</text>
<text transform="translate(487.85,169.8) rotate(-90) scale(0.5)" font-size="10.1" text-anchor="middle" fill="#fc8d62" stroke="#fc8d62" stroke-width="0.35">p=0.007</text>
<line x1="496.03" y1="204.8" x2="496.03" y2="217.3" stroke="#66c2a5" stroke-width="1.1" />
<line x1="496.03" y1="228.3" x2="496.03" y2="243.5" stroke="#66c2a5" stroke-width="1.1" />
<rect x="493.33" y="217.3" width="5.4" height="11" fill="#fff" stroke="#66c2a5" stroke-width="1.1" fill-opacity="0.6"/>
<line x1="493.33" y1="220.4" x2="498.73" y2="220.4" stroke="#66c2a5" stroke-width="1.9" />
<circle cx="496.03" cy="245.4" r="1.15" fill="#66c2a5"/>
<circle cx="496.03" cy="246.5" r="1.15" fill="#66c2a5"/>
<circle cx="496.03" cy="247.6" r="1.15" fill="#66c2a5"/>
<line x1="501.93" y1="206.9" x2="501.93" y2="217.3" stroke="#fc8d62" stroke-width="1.1" />
<line x1="501.93" y1="228.75" x2="501.93" y2="244" stroke="#fc8d62" stroke-width="1.1" />
<rect x="499.23" y="217.3" width="5.4" height="11.45" fill="#fff" stroke="#fc8d62" stroke-width="1.1" fill-opacity="0.6"/>
<line x1="499.23" y1="222.9" x2="504.63" y2="222.9" stroke="#fc8d62" stroke-width="1.9" />
<circle cx="501.93" cy="247.3" r="1.15" fill="#fc8d62"/>
<text transform="translate(497.68,169.8) rotate(-90) scale(0.5)" font-size="10.1" text-anchor="middle" fill="#66c2a5" stroke="#66c2a5" stroke-width="0.35">p=1.014e-17</text>
<text transform="translate(503.18,169.8) rotate(-90) scale(0.5)" font-size="10.1" text-anchor="middle" fill="#fc8d62" stroke="#fc8d62" stroke-width="0.35">p=1.071e-17</text>
<text x="402.3" y="153.3" font-size="7.8" text-anchor="start" fill="#111" stroke="#111" stroke-width="0.12" >n = 138</text>
<line x1="397.9" y1="145.4" x2="397.9" y2="264.83" stroke="#000" stroke-width="1.45" />
<line x1="397.17" y1="264.1" x2="508.8" y2="264.1" stroke="#000" stroke-width="1.45" />
<line x1="511.55" y1="93.9" x2="622.05" y2="93.9" stroke="#000" stroke-width="1.4" stroke-dasharray="3.6 2.6"/>
<line x1="518" y1="83.5" x2="518" y2="98.1" stroke="#66c2a5" stroke-width="1.1" />
<line x1="518" y1="107.1" x2="518" y2="114.8" stroke="#66c2a5" stroke-width="1.1" />
<rect x="515.3" y="98.1" width="5.4" height="9" fill="#fff" stroke="#66c2a5" stroke-width="1.1" fill-opacity="0.6"/>
<line x1="515.3" y1="102.3" x2="520.7" y2="102.3" stroke="#66c2a5" stroke-width="1.9" />
<circle cx="518" cy="79.4" r="1.15" fill="#66c2a5"/>
<circle cx="518" cy="81.5" r="1.15" fill="#66c2a5"/>
<circle cx="518" cy="120" r="1.15" fill="#66c2a5"/>
<circle cx="518" cy="81.9" r="1.05" fill="#66c2a5"/>
<circle cx="518" cy="80.5" r="1.05" fill="#66c2a5"/>
<circle cx="518" cy="79.1" r="1.05" fill="#66c2a5"/>
<circle cx="518" cy="116.4" r="1.05" fill="#66c2a5"/>
<circle cx="518" cy="117.8" r="1.05" fill="#66c2a5"/>
<line x1="523.9" y1="81.5" x2="523.9" y2="98.5" stroke="#fc8d62" stroke-width="1.1" />
<line x1="523.9" y1="109.2" x2="523.9" y2="127.5" stroke="#fc8d62" stroke-width="1.1" />
<rect x="521.2" y="98.5" width="5.4" height="10.7" fill="#fff" stroke="#fc8d62" stroke-width="1.1" fill-opacity="0.6"/>
<line x1="521.2" y1="104.4" x2="526.6" y2="104.4" stroke="#fc8d62" stroke-width="1.9" />
<circle cx="523.9" cy="131" r="1.15" fill="#fc8d62"/>
<circle cx="523.9" cy="79.9" r="1.05" fill="#fc8d62"/>
<circle cx="523.9" cy="129.1" r="1.05" fill="#fc8d62"/>
<text transform="translate(519.65,48.1) rotate(-90) scale(0.5)" font-size="10.1" text-anchor="middle" fill="#66c2a5" stroke="#66c2a5" stroke-width="0.35">p=3.818e-28</text>
<text transform="translate(525.15,48.1) rotate(-90) scale(0.5)" font-size="10.1" text-anchor="middle" fill="#fc8d62" stroke="#fc8d62" stroke-width="0.35">p=2.902e-30</text>
<line x1="533.33" y1="79.4" x2="533.33" y2="89.4" stroke="#66c2a5" stroke-width="1.1" />
<line x1="533.33" y1="97.1" x2="533.33" y2="108.5" stroke="#66c2a5" stroke-width="1.1" />
<rect x="530.63" y="89.4" width="5.4" height="7.7" fill="#fff" stroke="#66c2a5" stroke-width="1.1" fill-opacity="0.6"/>
<line x1="530.63" y1="93.3" x2="536.03" y2="93.3" stroke="#66c2a5" stroke-width="1.9" />
<circle cx="533.33" cy="75.8" r="1.15" fill="#66c2a5"/>
<circle cx="533.33" cy="112.7" r="1.15" fill="#66c2a5"/>
<circle cx="533.33" cy="77.8" r="1.05" fill="#66c2a5"/>
<circle cx="533.33" cy="76.4" r="1.05" fill="#66c2a5"/>
<circle cx="533.33" cy="110.1" r="1.05" fill="#66c2a5"/>
<circle cx="533.33" cy="111.5" r="1.05" fill="#66c2a5"/>
<line x1="539.23" y1="78.3" x2="539.23" y2="91.5" stroke="#fc8d62" stroke-width="1.1" />
<line x1="539.23" y1="99.2" x2="539.23" y2="108.5" stroke="#fc8d62" stroke-width="1.1" />
<rect x="536.53" y="91.5" width="5.4" height="7.7" fill="#fff" stroke="#fc8d62" stroke-width="1.1" fill-opacity="0.6"/>
<line x1="536.53" y1="94.6" x2="541.93" y2="94.6" stroke="#fc8d62" stroke-width="1.9" />
<circle cx="539.23" cy="76.25" r="1.15" fill="#fc8d62"/>
<circle cx="539.23" cy="77.2" r="1.15" fill="#fc8d62"/>
<circle cx="539.23" cy="112.7" r="1.15" fill="#fc8d62"/>
<circle cx="539.23" cy="111" r="1.15" fill="#fc8d62"/>
<circle cx="539.23" cy="76.7" r="1.05" fill="#fc8d62"/>
<circle cx="539.23" cy="110.1" r="1.05" fill="#fc8d62"/>
<text transform="translate(534.98,48.1) rotate(-90) scale(0.5)" font-size="10.1" text-anchor="middle" fill="#66c2a5" stroke="#66c2a5" stroke-width="0.35">p=0.455</text>
<text transform="translate(540.48,48.1) rotate(-90) scale(0.5)" font-size="10.1" text-anchor="middle" fill="#fc8d62" stroke="#fc8d62" stroke-width="0.35">p=9.785e-05</text>
<line x1="548.66" y1="76.25" x2="548.66" y2="87.7" stroke="#66c2a5" stroke-width="1.1" />
<line x1="548.66" y1="95" x2="548.66" y2="107.5" stroke="#66c2a5" stroke-width="1.1" />
<rect x="545.96" y="87.7" width="5.4" height="7.3" fill="#fff" stroke="#66c2a5" stroke-width="1.1" fill-opacity="0.6"/>
<line x1="545.96" y1="90.8" x2="551.36" y2="90.8" stroke="#66c2a5" stroke-width="1.9" />
<circle cx="548.66" cy="73.75" r="1.15" fill="#66c2a5"/>
<circle cx="548.66" cy="111.7" r="1.15" fill="#66c2a5"/>
<circle cx="548.66" cy="74.65" r="1.05" fill="#66c2a5"/>
<circle cx="548.66" cy="109.1" r="1.05" fill="#66c2a5"/>
<circle cx="548.66" cy="110.5" r="1.05" fill="#66c2a5"/>
<line x1="554.56" y1="76.25" x2="554.56" y2="90.2" stroke="#fc8d62" stroke-width="1.1" />
<line x1="554.56" y1="97.7" x2="554.56" y2="107.5" stroke="#fc8d62" stroke-width="1.1" />
<rect x="551.86" y="90.2" width="5.4" height="7.5" fill="#fff" stroke="#fc8d62" stroke-width="1.1" fill-opacity="0.6"/>
<line x1="551.86" y1="93.5" x2="557.26" y2="93.5" stroke="#fc8d62" stroke-width="1.9" />
<circle cx="554.56" cy="73.75" r="1.15" fill="#fc8d62"/>
<circle cx="554.56" cy="111.25" r="1.15" fill="#fc8d62"/>
<circle cx="554.56" cy="74.65" r="1.05" fill="#fc8d62"/>
<circle cx="554.56" cy="109.1" r="1.05" fill="#fc8d62"/>
<text transform="translate(550.31,48.1) rotate(-90) scale(0.5)" font-size="10.1" text-anchor="middle" fill="#66c2a5" stroke="#66c2a5" stroke-width="0.35">p=3.576e-07</text>
<text transform="translate(555.81,48.1) rotate(-90) scale(0.5)" font-size="10.1" text-anchor="middle" fill="#fc8d62" stroke="#fc8d62" stroke-width="0.35">p=0.868</text>
<line x1="563.99" y1="75.8" x2="563.99" y2="87.7" stroke="#66c2a5" stroke-width="1.1" />
<line x1="563.99" y1="95" x2="563.99" y2="106.5" stroke="#66c2a5" stroke-width="1.1" />
<rect x="561.29" y="87.7" width="5.4" height="7.3" fill="#fff" stroke="#66c2a5" stroke-width="1.1" fill-opacity="0.6"/>
<line x1="561.29" y1="90.4" x2="566.69" y2="90.4" stroke="#66c2a5" stroke-width="1.9" />
<circle cx="563.99" cy="73.75" r="1.15" fill="#66c2a5"/>
<circle cx="563.99" cy="114.8" r="1.15" fill="#66c2a5"/>
<circle cx="563.99" cy="74.2" r="1.05" fill="#66c2a5"/>
<line x1="569.89" y1="75.2" x2="569.89" y2="89.8" stroke="#fc8d62" stroke-width="1.1" />
<line x1="569.89" y1="97.1" x2="569.89" y2="107.5" stroke="#fc8d62" stroke-width="1.1" />
<rect x="567.19" y="89.8" width="5.4" height="7.3" fill="#fff" stroke="#fc8d62" stroke-width="1.1" fill-opacity="0.6"/>
<line x1="567.19" y1="92.5" x2="572.59" y2="92.5" stroke="#fc8d62" stroke-width="1.9" />
<circle cx="569.89" cy="73.75" r="1.15" fill="#fc8d62"/>
<circle cx="569.89" cy="114.8" r="1.15" fill="#fc8d62"/>
<circle cx="569.89" cy="73.6" r="1.05" fill="#fc8d62"/>
<text transform="translate(565.64,48.1) rotate(-90) scale(0.5)" font-size="10.1" text-anchor="middle" fill="#66c2a5" stroke="#66c2a5" stroke-width="0.35">p=1.840e-09</text>
<text transform="translate(571.14,48.1) rotate(-90) scale(0.5)" font-size="10.1" text-anchor="middle" fill="#fc8d62" stroke="#fc8d62" stroke-width="0.35">p=0.129</text>
<line x1="579.32" y1="74.6" x2="579.32" y2="86.25" stroke="#66c2a5" stroke-width="1.1" />
<line x1="579.32" y1="93.3" x2="579.32" y2="104.4" stroke="#66c2a5" stroke-width="1.1" />
<rect x="576.62" y="86.25" width="5.4" height="7.05" fill="#fff" stroke="#66c2a5" stroke-width="1.1" fill-opacity="0.6"/>
<line x1="576.62" y1="89.2" x2="582.02" y2="89.2" stroke="#66c2a5" stroke-width="1.9" />
<circle cx="579.32" cy="72.9" r="1.15" fill="#66c2a5"/>
<circle cx="579.32" cy="114.4" r="1.15" fill="#66c2a5"/>
<circle cx="579.32" cy="73" r="1.05" fill="#66c2a5"/>
<line x1="585.22" y1="75.2" x2="585.22" y2="88.3" stroke="#fc8d62" stroke-width="1.1" />
<line x1="585.22" y1="96.7" x2="585.22" y2="107.1" stroke="#fc8d62" stroke-width="1.1" />
<rect x="582.52" y="88.3" width="5.4" height="8.4" fill="#fff" stroke="#fc8d62" stroke-width="1.1" fill-opacity="0.6"/>
<line x1="582.52" y1="91.9" x2="587.92" y2="91.9" stroke="#fc8d62" stroke-width="1.9" />
<circle cx="585.22" cy="73.1" r="1.15" fill="#fc8d62"/>
<circle cx="585.22" cy="109.6" r="1.15" fill="#fc8d62"/>
<circle cx="585.22" cy="113.75" r="1.15" fill="#fc8d62"/>
<circle cx="585.22" cy="73.6" r="1.05" fill="#fc8d62"/>
<circle cx="585.22" cy="108.7" r="1.05" fill="#fc8d62"/>
<text transform="translate(580.97,48.1) rotate(-90) scale(0.5)" font-size="10.1" text-anchor="middle" fill="#66c2a5" stroke="#66c2a5" stroke-width="0.35">p=2.736e-15</text>
<text transform="translate(586.47,48.1) rotate(-90) scale(0.5)" font-size="10.1" text-anchor="middle" fill="#fc8d62" stroke="#fc8d62" stroke-width="0.35">p=1.213e-04</text>
<line x1="594.65" y1="75.2" x2="594.65" y2="87.1" stroke="#66c2a5" stroke-width="1.1" />
<line x1="594.65" y1="94" x2="594.65" y2="106.5" stroke="#66c2a5" stroke-width="1.1" />
<rect x="591.95" y="87.1" width="5.4" height="6.9" fill="#fff" stroke="#66c2a5" stroke-width="1.1" fill-opacity="0.6"/>
<line x1="591.95" y1="89.8" x2="597.35" y2="89.8" stroke="#66c2a5" stroke-width="1.9" />
<circle cx="594.65" cy="74.2" r="1.15" fill="#66c2a5"/>
<circle cx="594.65" cy="112.7" r="1.15" fill="#66c2a5"/>
<line x1="600.55" y1="75.2" x2="600.55" y2="89.4" stroke="#fc8d62" stroke-width="1.1" />
<line x1="600.55" y1="97.1" x2="600.55" y2="107.5" stroke="#fc8d62" stroke-width="1.1" />
<rect x="597.85" y="89.4" width="5.4" height="7.7" fill="#fff" stroke="#fc8d62" stroke-width="1.1" fill-opacity="0.6"/>
<line x1="597.85" y1="92.9" x2="603.25" y2="92.9" stroke="#fc8d62" stroke-width="1.9" />
<circle cx="600.55" cy="73.9" r="1.15" fill="#fc8d62"/>
<circle cx="600.55" cy="112.7" r="1.15" fill="#fc8d62"/>
<circle cx="600.55" cy="73.6" r="1.05" fill="#fc8d62"/>
<circle cx="600.55" cy="109.1" r="1.05" fill="#fc8d62"/>
<circle cx="600.55" cy="110.5" r="1.05" fill="#fc8d62"/>
<text transform="translate(596.3,48.1) rotate(-90) scale(0.5)" font-size="10.1" text-anchor="middle" fill="#66c2a5" stroke="#66c2a5" stroke-width="0.35">p=2.658e-09</text>
<text transform="translate(601.8,48.1) rotate(-90) scale(0.5)" font-size="10.1" text-anchor="middle" fill="#fc8d62" stroke="#fc8d62" stroke-width="0.35">p=0.238</text>
<line x1="609.98" y1="75.8" x2="609.98" y2="88.3" stroke="#66c2a5" stroke-width="1.1" />
<line x1="609.98" y1="95.4" x2="609.98" y2="107.5" stroke="#66c2a5" stroke-width="1.1" />
<rect x="607.28" y="88.3" width="5.4" height="7.1" fill="#fff" stroke="#66c2a5" stroke-width="1.1" fill-opacity="0.6"/>
<line x1="607.28" y1="90.8" x2="612.68" y2="90.8" stroke="#66c2a5" stroke-width="1.9" />
<circle cx="609.98" cy="74.6" r="1.15" fill="#66c2a5"/>
<circle cx="609.98" cy="112.7" r="1.15" fill="#66c2a5"/>
<circle cx="609.98" cy="74.2" r="1.05" fill="#66c2a5"/>
<circle cx="609.98" cy="109.1" r="1.05" fill="#66c2a5"/>
<circle cx="609.98" cy="110.5" r="1.05" fill="#66c2a5"/>
<line x1="615.88" y1="76.25" x2="615.88" y2="90.4" stroke="#fc8d62" stroke-width="1.1" />
<line x1="615.88" y1="98.1" x2="615.88" y2="108.5" stroke="#fc8d62" stroke-width="1.1" />
<rect x="613.18" y="90.4" width="5.4" height="7.7" fill="#fff" stroke="#fc8d62" stroke-width="1.1" fill-opacity="0.6"/>
<line x1="613.18" y1="94" x2="618.58" y2="94" stroke="#fc8d62" stroke-width="1.9" />
<circle cx="615.88" cy="110.6" r="1.15" fill="#fc8d62"/>
<circle cx="615.88" cy="112.7" r="1.15" fill="#fc8d62"/>
<circle cx="615.88" cy="74.65" r="1.05" fill="#fc8d62"/>
<text transform="translate(611.63,48.1) rotate(-90) scale(0.5)" font-size="10.1" text-anchor="middle" fill="#66c2a5" stroke="#66c2a5" stroke-width="0.35">p=4.056e-04</text>
<text transform="translate(617.13,48.1) rotate(-90) scale(0.5)" font-size="10.1" text-anchor="middle" fill="#fc8d62" stroke="#fc8d62" stroke-width="0.35">p=0.164</text>
<text x="515.95" y="31.35" font-size="7.8" text-anchor="start" fill="#111" stroke="#111" stroke-width="0.12" >n = 197</text>
<line x1="511.55" y1="23.85" x2="511.55" y2="143.12" stroke="#000" stroke-width="1.45" />
<line x1="510.82" y1="142.4" x2="622.05" y2="142.4" stroke="#000" stroke-width="1.45" />
<line x1="511.55" y1="215.75" x2="622.05" y2="215.75" stroke="#000" stroke-width="1.4" stroke-dasharray="3.6 2.6"/>
<line x1="518" y1="205" x2="518" y2="223.1" stroke="#66c2a5" stroke-width="1.1" />
<line x1="518" y1="231.4" x2="518" y2="242.5" stroke="#66c2a5" stroke-width="1.1" />
<rect x="515.3" y="223.1" width="5.4" height="8.3" fill="#fff" stroke="#66c2a5" stroke-width="1.1" fill-opacity="0.6"/>
<line x1="515.3" y1="227.2" x2="520.7" y2="227.2" stroke="#66c2a5" stroke-width="1.9" />
<circle cx="518" cy="199.4" r="1.15" fill="#66c2a5"/>
<circle cx="518" cy="201.7" r="1.15" fill="#66c2a5"/>
<circle cx="518" cy="245.3" r="1.15" fill="#66c2a5"/>
<circle cx="518" cy="249.4" r="1.15" fill="#66c2a5"/>
<circle cx="518" cy="251.7" r="1.15" fill="#66c2a5"/>
<circle cx="518" cy="253.6" r="1.15" fill="#66c2a5"/>
<circle cx="518" cy="203.4" r="1.05" fill="#66c2a5"/>
<circle cx="518" cy="202" r="1.05" fill="#66c2a5"/>
<circle cx="518" cy="200.6" r="1.05" fill="#66c2a5"/>
<circle cx="518" cy="199.2" r="1.05" fill="#66c2a5"/>
<circle cx="518" cy="244.1" r="1.05" fill="#66c2a5"/>
<line x1="523.9" y1="202.8" x2="523.9" y2="223.1" stroke="#fc8d62" stroke-width="1.1" />
<line x1="523.9" y1="235.6" x2="523.9" y2="252.8" stroke="#fc8d62" stroke-width="1.1" />
<rect x="521.2" y="223.1" width="5.4" height="12.5" fill="#fff" stroke="#fc8d62" stroke-width="1.1" fill-opacity="0.6"/>
<line x1="521.2" y1="229.4" x2="526.6" y2="229.4" stroke="#fc8d62" stroke-width="1.9" />
<circle cx="523.9" cy="199.4" r="1.15" fill="#fc8d62"/>
<circle cx="523.9" cy="200.8" r="1.15" fill="#fc8d62"/>
<circle cx="523.9" cy="201.2" r="1.05" fill="#fc8d62"/>
<circle cx="523.9" cy="199.8" r="1.05" fill="#fc8d62"/>
<text transform="translate(519.65,169.8) rotate(-90) scale(0.5)" font-size="10.1" text-anchor="middle" fill="#66c2a5" stroke="#66c2a5" stroke-width="0.35">p=1.213e-15</text>
<text transform="translate(525.15,169.8) rotate(-90) scale(0.5)" font-size="10.1" text-anchor="middle" fill="#fc8d62" stroke="#fc8d62" stroke-width="0.35">p=1.826e-16</text>
<line x1="533.33" y1="195.3" x2="533.33" y2="211.1" stroke="#66c2a5" stroke-width="1.1" />
<line x1="533.33" y1="219.4" x2="533.33" y2="232.2" stroke="#66c2a5" stroke-width="1.1" />
<rect x="530.63" y="211.1" width="5.4" height="8.3" fill="#fff" stroke="#66c2a5" stroke-width="1.1" fill-opacity="0.6"/>
<line x1="530.63" y1="214.7" x2="536.03" y2="214.7" stroke="#66c2a5" stroke-width="1.9" />
<circle cx="533.33" cy="191.7" r="1.15" fill="#66c2a5"/>
<circle cx="533.33" cy="193.3" r="1.15" fill="#66c2a5"/>
<circle cx="533.33" cy="235.6" r="1.15" fill="#66c2a5"/>
<circle cx="533.33" cy="243.9" r="1.15" fill="#66c2a5"/>
<circle cx="533.33" cy="193.7" r="1.05" fill="#66c2a5"/>
<circle cx="533.33" cy="192.3" r="1.05" fill="#66c2a5"/>
<circle cx="533.33" cy="233.8" r="1.05" fill="#66c2a5"/>
<circle cx="533.33" cy="189.3" r="1.05" fill="#66c2a5"/>
<circle cx="533.33" cy="187.9" r="1.05" fill="#66c2a5"/>
<circle cx="533.33" cy="186.5" r="1.05" fill="#66c2a5"/>
<line x1="539.23" y1="194.4" x2="539.23" y2="212.8" stroke="#fc8d62" stroke-width="1.1" />
<line x1="539.23" y1="222.2" x2="539.23" y2="235.6" stroke="#fc8d62" stroke-width="1.1" />
<rect x="536.53" y="212.8" width="5.4" height="9.4" fill="#fff" stroke="#fc8d62" stroke-width="1.1" fill-opacity="0.6"/>
<line x1="536.53" y1="217.5" x2="541.93" y2="217.5" stroke="#fc8d62" stroke-width="1.9" />
<circle cx="539.23" cy="191.1" r="1.15" fill="#fc8d62"/>
<circle cx="539.23" cy="193.3" r="1.15" fill="#fc8d62"/>
<circle cx="539.23" cy="238.9" r="1.15" fill="#fc8d62"/>
<circle cx="539.23" cy="241.7" r="1.15" fill="#fc8d62"/>
<circle cx="539.23" cy="192.8" r="1.05" fill="#fc8d62"/>
<circle cx="539.23" cy="191.4" r="1.05" fill="#fc8d62"/>
<circle cx="539.23" cy="237.2" r="1.05" fill="#fc8d62"/>
<circle cx="539.23" cy="188.4" r="1.05" fill="#fc8d62"/>
<circle cx="539.23" cy="187" r="1.05" fill="#fc8d62"/>
<circle cx="539.23" cy="185.6" r="1.05" fill="#fc8d62"/>
<text transform="translate(534.98,169.8) rotate(-90) scale(0.5)" font-size="10.1" text-anchor="middle" fill="#66c2a5" stroke="#66c2a5" stroke-width="0.35">p=0.598</text>
<text transform="translate(540.48,169.8) rotate(-90) scale(0.5)" font-size="10.1" text-anchor="middle" fill="#fc8d62" stroke="#fc8d62" stroke-width="0.35">p=0.018</text>
<line x1="548.66" y1="192.5" x2="548.66" y2="208.3" stroke="#66c2a5" stroke-width="1.1" />
<line x1="548.66" y1="216.1" x2="548.66" y2="227.8" stroke="#66c2a5" stroke-width="1.1" />
<rect x="545.96" y="208.3" width="5.4" height="7.8" fill="#fff" stroke="#66c2a5" stroke-width="1.1" fill-opacity="0.6"/>
<line x1="545.96" y1="212" x2="551.36" y2="212" stroke="#66c2a5" stroke-width="1.9" />
<circle cx="548.66" cy="189.7" r="1.15" fill="#66c2a5"/>
<circle cx="548.66" cy="231.4" r="1.15" fill="#66c2a5"/>
<circle cx="548.66" cy="236.9" r="1.15" fill="#66c2a5"/>
<circle cx="548.66" cy="190.9" r="1.05" fill="#66c2a5"/>
<circle cx="548.66" cy="189.5" r="1.05" fill="#66c2a5"/>
<circle cx="548.66" cy="229.4" r="1.05" fill="#66c2a5"/>
<line x1="554.56" y1="192.5" x2="554.56" y2="210.6" stroke="#fc8d62" stroke-width="1.1" />
<line x1="554.56" y1="218.9" x2="554.56" y2="230.6" stroke="#fc8d62" stroke-width="1.1" />
<rect x="551.86" y="210.6" width="5.4" height="8.3" fill="#fff" stroke="#fc8d62" stroke-width="1.1" fill-opacity="0.6"/>
<line x1="551.86" y1="214.2" x2="557.26" y2="214.2" stroke="#fc8d62" stroke-width="1.9" />
<circle cx="554.56" cy="189.7" r="1.15" fill="#fc8d62"/>
<circle cx="554.56" cy="234.2" r="1.15" fill="#fc8d62"/>
<circle cx="554.56" cy="190.9" r="1.05" fill="#fc8d62"/>
<circle cx="554.56" cy="189.5" r="1.05" fill="#fc8d62"/>
<circle cx="554.56" cy="232.2" r="1.05" fill="#fc8d62"/>
<text transform="translate(550.31,169.8) rotate(-90) scale(0.5)" font-size="10.1" text-anchor="middle" fill="#66c2a5" stroke="#66c2a5" stroke-width="0.35">p=1.199e-06</text>
<text transform="translate(555.81,169.8) rotate(-90) scale(0.5)" font-size="10.1" text-anchor="middle" fill="#fc8d62" stroke="#fc8d62" stroke-width="0.35">p=0.113</text>
<line x1="563.99" y1="193.9" x2="563.99" y2="207.2" stroke="#66c2a5" stroke-width="1.1" />
<line x1="563.99" y1="214.7" x2="563.99" y2="225.8" stroke="#66c2a5" stroke-width="1.1" />
<rect x="561.29" y="207.2" width="5.4" height="7.5" fill="#fff" stroke="#66c2a5" stroke-width="1.1" fill-opacity="0.6"/>
<line x1="561.29" y1="210.6" x2="566.69" y2="210.6" stroke="#66c2a5" stroke-width="1.9" />
<circle cx="563.99" cy="189.7" r="1.15" fill="#66c2a5"/>
<circle cx="563.99" cy="191.7" r="1.15" fill="#66c2a5"/>
<circle cx="563.99" cy="230.8" r="1.15" fill="#66c2a5"/>
<circle cx="563.99" cy="244.7" r="1.15" fill="#66c2a5"/>
<circle cx="563.99" cy="192.3" r="1.05" fill="#66c2a5"/>
<circle cx="563.99" cy="190.9" r="1.05" fill="#66c2a5"/>
<circle cx="563.99" cy="189.5" r="1.05" fill="#66c2a5"/>
<circle cx="563.99" cy="227.4" r="1.05" fill="#66c2a5"/>
<circle cx="563.99" cy="228.8" r="1.05" fill="#66c2a5"/>
<line x1="569.89" y1="192.5" x2="569.89" y2="208.3" stroke="#fc8d62" stroke-width="1.1" />
<line x1="569.89" y1="218.3" x2="569.89" y2="229.4" stroke="#fc8d62" stroke-width="1.1" />
<rect x="567.19" y="208.3" width="5.4" height="10" fill="#fff" stroke="#fc8d62" stroke-width="1.1" fill-opacity="0.6"/>
<line x1="567.19" y1="213.3" x2="572.59" y2="213.3" stroke="#fc8d62" stroke-width="1.9" />
<circle cx="569.89" cy="190.6" r="1.15" fill="#fc8d62"/>
<circle cx="569.89" cy="243.3" r="1.15" fill="#fc8d62"/>
<circle cx="569.89" cy="190.9" r="1.05" fill="#fc8d62"/>
<text transform="translate(565.64,169.8) rotate(-90) scale(0.5)" font-size="10.1" text-anchor="middle" fill="#66c2a5" stroke="#66c2a5" stroke-width="0.35">p=1.580e-09</text>
<text transform="translate(571.14,169.8) rotate(-90) scale(0.5)" font-size="10.1" text-anchor="middle" fill="#fc8d62" stroke="#fc8d62" stroke-width="0.35">p=0.003</text>
<line x1="579.32" y1="187.8" x2="579.32" y2="205" stroke="#66c2a5" stroke-width="1.1" />
<line x1="579.32" y1="213.3" x2="579.32" y2="224.4" stroke="#66c2a5" stroke-width="1.1" />
<rect x="576.62" y="205" width="5.4" height="8.3" fill="#fff" stroke="#66c2a5" stroke-width="1.1" fill-opacity="0.6"/>
<line x1="576.62" y1="207.8" x2="582.02" y2="207.8" stroke="#66c2a5" stroke-width="1.9" />
<circle cx="579.32" cy="182.8" r="1.15" fill="#66c2a5"/>
<circle cx="579.32" cy="184.2" r="1.15" fill="#66c2a5"/>
<circle cx="579.32" cy="185.6" r="1.15" fill="#66c2a5"/>
<circle cx="579.32" cy="245.8" r="1.15" fill="#66c2a5"/>
<circle cx="579.32" cy="186.2" r="1.05" fill="#66c2a5"/>
<circle cx="579.32" cy="184.8" r="1.05" fill="#66c2a5"/>
<circle cx="579.32" cy="183.4" r="1.05" fill="#66c2a5"/>
<circle cx="579.32" cy="181.8" r="1.05" fill="#66c2a5"/>
<circle cx="579.32" cy="180.4" r="1.05" fill="#66c2a5"/>
<circle cx="579.32" cy="179" r="1.05" fill="#66c2a5"/>
<line x1="585.22" y1="187.8" x2="585.22" y2="206.4" stroke="#fc8d62" stroke-width="1.1" />
<line x1="585.22" y1="216.1" x2="585.22" y2="227.2" stroke="#fc8d62" stroke-width="1.1" />
<rect x="582.52" y="206.4" width="5.4" height="9.7" fill="#fff" stroke="#fc8d62" stroke-width="1.1" fill-opacity="0.6"/>
<line x1="582.52" y1="211.1" x2="587.92" y2="211.1" stroke="#fc8d62" stroke-width="1.9" />
<circle cx="585.22" cy="184.2" r="1.15" fill="#fc8d62"/>
<circle cx="585.22" cy="186.1" r="1.15" fill="#fc8d62"/>
<circle cx="585.22" cy="244.4" r="1.15" fill="#fc8d62"/>
<circle cx="585.22" cy="186.2" r="1.05" fill="#fc8d62"/>
<circle cx="585.22" cy="184.8" r="1.05" fill="#fc8d62"/>
<circle cx="585.22" cy="181.8" r="1.05" fill="#fc8d62"/>
<circle cx="585.22" cy="180.4" r="1.05" fill="#fc8d62"/>
<circle cx="585.22" cy="179" r="1.05" fill="#fc8d62"/>
<text transform="translate(580.97,169.8) rotate(-90) scale(0.5)" font-size="10.1" text-anchor="middle" fill="#66c2a5" stroke="#66c2a5" stroke-width="0.35">p=1.210e-14</text>
<text transform="translate(586.47,169.8) rotate(-90) scale(0.5)" font-size="10.1" text-anchor="middle" fill="#fc8d62" stroke="#fc8d62" stroke-width="0.35">p=3.284e-09</text>
<line x1="594.65" y1="187.8" x2="594.65" y2="206.4" stroke="#66c2a5" stroke-width="1.1" />
<line x1="594.65" y1="214.7" x2="594.65" y2="225.8" stroke="#66c2a5" stroke-width="1.1" />
<rect x="591.95" y="206.4" width="5.4" height="8.3" fill="#fff" stroke="#66c2a5" stroke-width="1.1" fill-opacity="0.6"/>
<line x1="591.95" y1="210" x2="597.35" y2="210" stroke="#66c2a5" stroke-width="1.9" />
<circle cx="594.65" cy="184.2" r="1.15" fill="#66c2a5"/>
<circle cx="594.65" cy="227.8" r="1.15" fill="#66c2a5"/>
<circle cx="594.65" cy="245.3" r="1.15" fill="#66c2a5"/>
<circle cx="594.65" cy="186.2" r="1.05" fill="#66c2a5"/>
<circle cx="594.65" cy="184.8" r="1.05" fill="#66c2a5"/>
<line x1="600.55" y1="189.7" x2="600.55" y2="207.8" stroke="#fc8d62" stroke-width="1.1" />
<line x1="600.55" y1="217.5" x2="600.55" y2="230" stroke="#fc8d62" stroke-width="1.1" />
<rect x="597.85" y="207.8" width="5.4" height="9.7" fill="#fff" stroke="#fc8d62" stroke-width="1.1" fill-opacity="0.6"/>
<line x1="597.85" y1="213.3" x2="603.25" y2="213.3" stroke="#fc8d62" stroke-width="1.9" />
<circle cx="600.55" cy="186.9" r="1.15" fill="#fc8d62"/>
<circle cx="600.55" cy="192.5" r="1.15" fill="#fc8d62"/>
<circle cx="600.55" cy="243.3" r="1.15" fill="#fc8d62"/>
<circle cx="600.55" cy="188.1" r="1.05" fill="#fc8d62"/>
<circle cx="600.55" cy="186.7" r="1.05" fill="#fc8d62"/>
<text transform="translate(596.3,169.8) rotate(-90) scale(0.5)" font-size="10.1" text-anchor="middle" fill="#66c2a5" stroke="#66c2a5" stroke-width="0.35">p=1.127e-11</text>
<text transform="translate(601.8,169.8) rotate(-90) scale(0.5)" font-size="10.1" text-anchor="middle" fill="#fc8d62" stroke="#fc8d62" stroke-width="0.35">p=3.539e-05</text>
<line x1="609.98" y1="190.6" x2="609.98" y2="207.2" stroke="#66c2a5" stroke-width="1.1" />
<line x1="609.98" y1="215.6" x2="609.98" y2="228.6" stroke="#66c2a5" stroke-width="1.1" />
<rect x="607.28" y="207.2" width="5.4" height="8.4" fill="#fff" stroke="#66c2a5" stroke-width="1.1" fill-opacity="0.6"/>
<line x1="607.28" y1="211.1" x2="612.68" y2="211.1" stroke="#66c2a5" stroke-width="1.9" />
<circle cx="609.98" cy="187.8" r="1.15" fill="#66c2a5"/>
<circle cx="609.98" cy="236.9" r="1.15" fill="#66c2a5"/>
<circle cx="609.98" cy="189" r="1.05" fill="#66c2a5"/>
<circle cx="609.98" cy="187.6" r="1.05" fill="#66c2a5"/>
<line x1="615.88" y1="191.7" x2="615.88" y2="208.6" stroke="#fc8d62" stroke-width="1.1" />
<line x1="615.88" y1="218.3" x2="615.88" y2="230" stroke="#fc8d62" stroke-width="1.1" />
<rect x="613.18" y="208.6" width="5.4" height="9.7" fill="#fff" stroke="#fc8d62" stroke-width="1.1" fill-opacity="0.6"/>
<line x1="613.18" y1="213.9" x2="618.58" y2="213.9" stroke="#fc8d62" stroke-width="1.9" />
<circle cx="615.88" cy="188.9" r="1.15" fill="#fc8d62"/>
<circle cx="615.88" cy="235" r="1.15" fill="#fc8d62"/>
<circle cx="615.88" cy="190.1" r="1.05" fill="#fc8d62"/>
<circle cx="615.88" cy="188.7" r="1.05" fill="#fc8d62"/>
<circle cx="615.88" cy="231.6" r="1.05" fill="#fc8d62"/>
<circle cx="615.88" cy="233" r="1.05" fill="#fc8d62"/>
<text transform="translate(611.63,169.8) rotate(-90) scale(0.5)" font-size="10.1" text-anchor="middle" fill="#66c2a5" stroke="#66c2a5" stroke-width="0.35">p=5.799e-06</text>
<text transform="translate(617.13,169.8) rotate(-90) scale(0.5)" font-size="10.1" text-anchor="middle" fill="#fc8d62" stroke="#fc8d62" stroke-width="0.35">p=0.007</text>
<text x="515.95" y="153.3" font-size="7.8" text-anchor="start" fill="#111" stroke="#111" stroke-width="0.12" >n = 108</text>
<line x1="511.55" y1="145.4" x2="511.55" y2="264.83" stroke="#000" stroke-width="1.45" />
<line x1="510.82" y1="264.1" x2="622.05" y2="264.1" stroke="#000" stroke-width="1.45" />
<line x1="395.1" y1="40.25" x2="397.9" y2="40.25" stroke="#000" stroke-width="1.1" />
<text x="392.9" y="42.85" font-size="7.2" text-anchor="end" fill="#222" stroke="#222" stroke-width="0.12" >1.0</text>
<line x1="395.1" y1="67.08" x2="397.9" y2="67.08" stroke="#000" stroke-width="1.1" />
<text x="392.9" y="69.67" font-size="7.2" text-anchor="end" fill="#222" stroke="#222" stroke-width="0.12" >0.5</text>
<line x1="395.1" y1="93.9" x2="397.9" y2="93.9" stroke="#000" stroke-width="1.1" />
<text x="392.9" y="96.5" font-size="7.2" text-anchor="end" fill="#222" stroke="#222" stroke-width="0.12" >0.0</text>
<line x1="395.1" y1="120.73" x2="397.9" y2="120.73" stroke="#000" stroke-width="1.1" />
<text x="392.9" y="123.33" font-size="7.2" text-anchor="end" fill="#222" stroke="#222" stroke-width="0.12" >−0.5</text>
<line x1="395.1" y1="162.1" x2="397.9" y2="162.1" stroke="#000" stroke-width="1.1" />
<text x="392.9" y="164.7" font-size="7.2" text-anchor="end" fill="#222" stroke="#222" stroke-width="0.12" >1.0</text>
<line x1="395.1" y1="188.93" x2="397.9" y2="188.93" stroke="#000" stroke-width="1.1" />
<text x="392.9" y="191.53" font-size="7.2" text-anchor="end" fill="#222" stroke="#222" stroke-width="0.12" >0.5</text>
<line x1="395.1" y1="215.75" x2="397.9" y2="215.75" stroke="#000" stroke-width="1.1" />
<text x="392.9" y="218.35" font-size="7.2" text-anchor="end" fill="#222" stroke="#222" stroke-width="0.12" >0.0</text>
<line x1="395.1" y1="242.57" x2="397.9" y2="242.57" stroke="#000" stroke-width="1.1" />
<text x="392.9" y="245.17" font-size="7.2" text-anchor="end" fill="#222" stroke="#222" stroke-width="0.12" >−0.5</text>
<line x1="407" y1="264.1" x2="407" y2="266.9" stroke="#000" stroke-width="1.1" />
<text x="407" y="275" font-size="7.2" text-anchor="middle" fill="#222" stroke="#222" stroke-width="0.12" >1</text>
<line x1="422.33" y1="264.1" x2="422.33" y2="266.9" stroke="#000" stroke-width="1.1" />
<text x="422.33" y="275" font-size="7.2" text-anchor="middle" fill="#222" stroke="#222" stroke-width="0.12" >2</text>
<line x1="437.66" y1="264.1" x2="437.66" y2="266.9" stroke="#000" stroke-width="1.1" />
<text x="437.66" y="275" font-size="7.2" text-anchor="middle" fill="#222" stroke="#222" stroke-width="0.12" >3</text>
<line x1="452.99" y1="264.1" x2="452.99" y2="266.9" stroke="#000" stroke-width="1.1" />
<text x="452.99" y="275" font-size="7.2" text-anchor="middle" fill="#222" stroke="#222" stroke-width="0.12" >4</text>
<line x1="468.32" y1="264.1" x2="468.32" y2="266.9" stroke="#000" stroke-width="1.1" />
<text x="468.32" y="275" font-size="7.2" text-anchor="middle" fill="#222" stroke="#222" stroke-width="0.12" >5</text>
<line x1="483.65" y1="264.1" x2="483.65" y2="266.9" stroke="#000" stroke-width="1.1" />
<text x="483.65" y="275" font-size="7.2" text-anchor="middle" fill="#222" stroke="#222" stroke-width="0.12" >6</text>
<line x1="498.98" y1="264.1" x2="498.98" y2="266.9" stroke="#000" stroke-width="1.1" />
<text x="498.98" y="275" font-size="7.2" text-anchor="middle" fill="#222" stroke="#222" stroke-width="0.12" >7</text>
<line x1="520.95" y1="264.1" x2="520.95" y2="266.9" stroke="#000" stroke-width="1.1" />
<text x="520.95" y="275" font-size="7.2" text-anchor="middle" fill="#222" stroke="#222" stroke-width="0.12" >1</text>
<line x1="536.28" y1="264.1" x2="536.28" y2="266.9" stroke="#000" stroke-width="1.1" />
<text x="536.28" y="275" font-size="7.2" text-anchor="middle" fill="#222" stroke="#222" stroke-width="0.12" >2</text>
<line x1="551.61" y1="264.1" x2="551.61" y2="266.9" stroke="#000" stroke-width="1.1" />
<text x="551.61" y="275" font-size="7.2" text-anchor="middle" fill="#222" stroke="#222" stroke-width="0.12" >3</text>
<line x1="566.94" y1="264.1" x2="566.94" y2="266.9" stroke="#000" stroke-width="1.1" />
<text x="566.94" y="275" font-size="7.2" text-anchor="middle" fill="#222" stroke="#222" stroke-width="0.12" >4</text>
<line x1="582.27" y1="264.1" x2="582.27" y2="266.9" stroke="#000" stroke-width="1.1" />
<text x="582.27" y="275" font-size="7.2" text-anchor="middle" fill="#222" stroke="#222" stroke-width="0.12" >5</text>
<line x1="597.6" y1="264.1" x2="597.6" y2="266.9" stroke="#000" stroke-width="1.1" />
<text x="597.6" y="275" font-size="7.2" text-anchor="middle" fill="#222" stroke="#222" stroke-width="0.12" >6</text>
<line x1="612.93" y1="264.1" x2="612.93" y2="266.9" stroke="#000" stroke-width="1.1" />
<text x="612.93" y="275" font-size="7.2" text-anchor="middle" fill="#222" stroke="#222" stroke-width="0.12" >7</text>
<text x="509.8" y="285.7" font-size="9.0" text-anchor="middle" fill="#111" stroke="#111" stroke-width="0.12" >Layer</text>
<g transform="translate(372.6,173.0) rotate(-90)" fill="#111" stroke="#111" stroke-width="0.2"><text x="-0.2" y="0" font-size="9.2" font-style="italic">R</text><path d="M2.5,-8.5 q0.9,-1.2 1.8,0 t1.8,0 M2.5,-10.0 q0.9,-1.2 1.8,0 t1.8,0" fill="none" stroke-width="0.6"/><text x="7.0" y="-4.0" font-size="5.8">2</text><text x="7.0" y="2.8" font-size="6.7" font-style="italic">AlexNet</text><text x="33.6" y="0" font-size="9.6">−</text><text x="42.6" y="0" font-size="9.2" font-style="italic">R</text><path d="M44.3,-9.0 q0.9,-1.2 1.8,0 t1.8,0 M44.3,-10.5 q0.9,-1.2 1.8,0 t1.8,0" fill="none" stroke-width="0.6"/><text x="49.3" y="-4.2" font-size="5.8">2</text><text x="49.2" y="4.6" font-size="6.5" font-style="italic">KP</text></g>
<text x="644.6" y="131.1" font-size="9.5" text-anchor="start" fill="#111" stroke="#111" stroke-width="0.12" >KP</text>
<line x1="651.5" y1="136.1" x2="651.5" y2="146.5" stroke="#66c2a5" stroke-width="1.1" />
<rect x="646.8" y="138.4" width="9.4" height="6.3" fill="#fff" stroke="#66c2a5" stroke-width="1.1" />
<line x1="646.8" y1="141.5" x2="656.2" y2="141.5" stroke="#66c2a5" stroke-width="1.6" />
<text x="659.6" y="144.1" font-size="7.3" text-anchor="start" fill="#111" stroke="#111" stroke-width="0.12" >2D</text>
<line x1="651.5" y1="151.3" x2="651.5" y2="161.7" stroke="#fc8d62" stroke-width="1.1" />
<rect x="646.8" y="153.6" width="9.4" height="6.3" fill="#fff" stroke="#fc8d62" stroke-width="1.1" />
<line x1="646.8" y1="156.7" x2="656.2" y2="156.7" stroke="#fc8d62" stroke-width="1.6" />
<text x="659.6" y="159.3" font-size="7.3" text-anchor="start" fill="#111" stroke="#111" stroke-width="0.12" >3D_VD</text>
</svg>
</body></html>
